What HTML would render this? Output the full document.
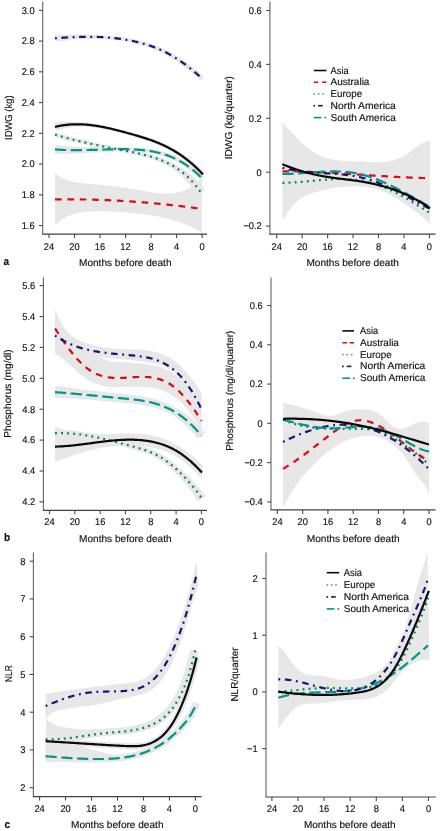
<!DOCTYPE html>
<html><head><meta charset="utf-8"><title>Figure</title>
<style>
html,body{margin:0;padding:0;background:#fff;}
body{width:442px;height:831px;overflow:hidden;}
svg{display:block;will-change:transform;}
text{font-family:"Liberation Sans", sans-serif;fill:#111;stroke:#111;stroke-width:0.15px;text-rendering:geometricPrecision;}
</style></head>
<body>
<svg width="442" height="831" viewBox="0 0 442 831">
<rect width="442" height="831" fill="#fff"/>
<g id="aL">
<polygon points="55.0,173.0 55.8,173.7 56.6,174.3 57.4,174.9 58.2,175.5 59.0,176.0 59.8,176.5 60.6,177.0 61.4,177.5 62.2,177.9 63.0,178.3 63.8,178.7 64.6,179.1 65.4,179.4 66.2,179.8 67.0,180.1 67.9,180.3 68.7,180.6 69.5,180.9 70.3,181.1 71.1,181.3 71.9,181.5 72.7,181.7 73.5,181.9 74.3,182.0 75.1,182.2 75.9,182.3 76.7,182.5 77.5,182.6 78.3,182.7 79.1,182.8 79.9,182.9 80.7,183.0 81.5,183.1 82.3,183.2 83.1,183.3 83.9,183.3 84.7,183.4 85.5,183.5 86.3,183.6 87.1,183.7 87.9,183.7 88.7,183.8 89.5,183.9 90.3,183.9 91.1,184.0 92.0,184.1 92.8,184.1 93.6,184.2 94.4,184.3 95.2,184.4 96.0,184.4 96.8,184.5 97.6,184.6 98.4,184.6 99.2,184.7 100.0,184.8 100.8,184.9 101.6,184.9 102.4,185.0 103.2,185.1 104.0,185.2 104.8,185.2 105.6,185.3 106.4,185.4 107.2,185.5 108.0,185.6 108.8,185.7 109.6,185.8 110.4,185.9 111.2,186.0 112.0,186.1 112.8,186.2 113.6,186.2 114.4,186.3 115.2,186.5 116.0,186.6 116.9,186.7 117.7,186.8 118.5,186.9 119.3,187.0 120.1,187.1 120.9,187.2 121.7,187.3 122.5,187.4 123.3,187.5 124.1,187.7 124.9,187.8 125.7,187.9 126.5,188.0 127.3,188.1 128.1,188.3 128.9,188.4 129.7,188.5 130.5,188.6 131.3,188.8 132.1,188.9 132.9,189.0 133.7,189.1 134.5,189.3 135.3,189.4 136.1,189.5 136.9,189.7 137.7,189.8 138.5,189.9 139.3,190.1 140.1,190.2 141.0,190.4 141.8,190.5 142.6,190.6 143.4,190.8 144.2,190.9 145.0,191.1 145.8,191.2 146.6,191.3 147.4,191.5 148.2,191.6 149.0,191.8 149.8,191.9 150.6,192.0 151.4,192.2 152.2,192.3 153.0,192.4 153.8,192.5 154.6,192.7 155.4,192.8 156.2,192.9 157.0,193.0 157.8,193.1 158.6,193.2 159.4,193.2 160.2,193.3 161.0,193.4 161.8,193.5 162.6,193.5 163.4,193.6 164.2,193.6 165.0,193.6 165.9,193.6 166.7,193.6 167.5,193.6 168.3,193.6 169.1,193.6 169.9,193.5 170.7,193.5 171.5,193.4 172.3,193.3 173.1,193.3 173.9,193.2 174.7,193.0 175.5,192.9 176.3,192.7 177.1,192.6 177.9,192.4 178.7,192.2 179.5,192.0 180.3,191.8 181.1,191.5 181.9,191.2 182.7,191.0 183.5,190.6 184.3,190.3 185.1,190.0 185.9,189.6 186.7,189.2 187.5,188.8 188.3,188.4 189.1,188.0 190.0,187.5 190.8,187.0 191.6,186.5 192.4,186.0 193.2,185.4 194.0,184.9 194.8,184.3 195.6,183.7 196.4,183.0 197.2,182.4 198.0,181.7 198.8,181.0 199.6,180.3 200.4,179.5 201.2,178.8 202.0,178.0 202.0,232.7 201.2,232.2 200.4,231.8 199.6,231.3 198.8,230.9 198.0,230.4 197.2,230.0 196.4,229.6 195.6,229.2 194.8,228.8 194.0,228.4 193.2,228.0 192.4,227.6 191.6,227.2 190.8,226.8 190.0,226.4 189.1,226.1 188.3,225.7 187.5,225.4 186.7,225.0 185.9,224.7 185.1,224.4 184.3,224.1 183.5,223.7 182.7,223.4 181.9,223.1 181.1,222.8 180.3,222.5 179.5,222.3 178.7,222.0 177.9,221.7 177.1,221.4 176.3,221.2 175.5,220.9 174.7,220.7 173.9,220.4 173.1,220.2 172.3,219.9 171.5,219.7 170.7,219.5 169.9,219.3 169.1,219.1 168.3,218.8 167.5,218.6 166.7,218.4 165.9,218.2 165.0,218.0 164.2,217.9 163.4,217.7 162.6,217.5 161.8,217.3 161.0,217.1 160.2,217.0 159.4,216.8 158.6,216.6 157.8,216.5 157.0,216.3 156.2,216.2 155.4,216.0 154.6,215.9 153.8,215.8 153.0,215.6 152.2,215.5 151.4,215.4 150.6,215.2 149.8,215.1 149.0,215.0 148.2,214.9 147.4,214.8 146.6,214.7 145.8,214.5 145.0,214.4 144.2,214.3 143.4,214.2 142.6,214.1 141.8,214.0 141.0,213.9 140.1,213.9 139.3,213.8 138.5,213.7 137.7,213.6 136.9,213.5 136.1,213.4 135.3,213.3 134.5,213.3 133.7,213.2 132.9,213.1 132.1,213.0 131.3,213.0 130.5,212.9 129.7,212.8 128.9,212.8 128.1,212.7 127.3,212.6 126.5,212.6 125.7,212.5 124.9,212.4 124.1,212.4 123.3,212.3 122.5,212.2 121.7,212.2 120.9,212.1 120.1,212.0 119.3,212.0 118.5,211.9 117.7,211.9 116.9,211.8 116.0,211.8 115.2,211.7 114.4,211.7 113.6,211.6 112.8,211.6 112.0,211.5 111.2,211.5 110.4,211.5 109.6,211.4 108.8,211.4 108.0,211.4 107.2,211.3 106.4,211.3 105.6,211.3 104.8,211.3 104.0,211.3 103.2,211.2 102.4,211.2 101.6,211.2 100.8,211.2 100.0,211.2 99.2,211.2 98.4,211.2 97.6,211.3 96.8,211.3 96.0,211.3 95.2,211.3 94.4,211.4 93.6,211.4 92.8,211.4 92.0,211.5 91.1,211.5 90.3,211.6 89.5,211.6 88.7,211.7 87.9,211.8 87.1,211.8 86.3,211.9 85.5,212.0 84.7,212.1 83.9,212.2 83.1,212.3 82.3,212.4 81.5,212.5 80.7,212.6 79.9,212.8 79.1,212.9 78.3,213.1 77.5,213.2 76.7,213.4 75.9,213.6 75.1,213.8 74.3,214.0 73.5,214.2 72.7,214.5 71.9,214.7 71.1,215.0 70.3,215.3 69.5,215.6 68.7,216.0 67.9,216.3 67.0,216.7 66.2,217.1 65.4,217.5 64.6,218.0 63.8,218.4 63.0,218.9 62.2,219.4 61.4,220.0 60.6,220.5 59.8,221.1 59.0,221.8 58.2,222.4 57.4,223.1 56.6,223.8 55.8,224.6 55.0,225.4" fill="#e7e7e7"/>
<polygon points="54.7,34.7 55.5,34.7 56.3,34.7 57.2,34.7 58.0,34.7 58.8,34.7 59.6,34.7 60.4,34.7 61.2,34.7 62.0,34.7 62.8,34.7 63.6,34.7 64.4,34.7 65.2,34.7 66.0,34.7 66.8,34.7 67.7,34.7 68.5,34.7 69.3,34.8 70.1,34.8 70.9,34.8 71.7,34.8 72.5,34.8 73.3,34.8 74.1,34.9 74.9,34.9 75.7,34.9 76.5,34.8 77.3,34.8 78.1,34.8 79.0,34.8 79.8,34.8 80.6,34.8 81.4,34.7 82.2,34.7 83.0,34.7 83.8,34.7 84.6,34.7 85.4,34.7 86.2,34.7 87.0,34.7 87.8,34.7 88.6,34.7 89.4,34.7 90.2,34.7 91.0,34.7 91.8,34.8 92.7,34.8 93.5,34.8 94.3,34.8 95.1,34.8 95.9,34.9 96.7,34.9 97.5,34.9 98.3,35.0 99.1,35.0 99.9,35.0 100.7,35.1 101.5,35.1 102.3,35.2 103.1,35.2 103.9,35.3 104.8,35.3 105.6,35.4 106.4,35.5 107.2,35.5 108.0,35.6 108.8,35.7 109.6,35.7 110.4,35.8 111.2,35.9 112.0,36.0 112.8,36.1 113.6,36.1 114.4,36.2 115.2,36.3 116.1,36.4 116.9,36.5 117.7,36.6 118.5,36.7 119.3,36.9 120.1,37.0 120.9,37.1 121.7,37.2 122.5,37.3 123.3,37.4 124.1,37.5 124.9,37.7 125.8,37.8 126.6,37.9 127.4,38.1 128.2,38.2 129.0,38.3 129.8,38.5 130.6,38.6 131.4,38.8 132.2,38.9 133.1,39.1 133.9,39.3 134.7,39.4 135.5,39.6 136.3,39.8 137.1,40.0 137.9,40.2 138.7,40.4 139.5,40.6 140.4,40.8 141.2,41.0 142.0,41.2 142.8,41.4 143.6,41.6 144.4,41.8 145.2,42.1 146.1,42.3 146.9,42.5 147.7,42.8 148.5,43.0 149.3,43.3 150.1,43.5 150.9,43.8 151.8,44.1 152.6,44.4 153.4,44.6 154.2,44.9 155.0,45.2 155.8,45.5 156.7,45.9 157.5,46.2 158.3,46.5 159.1,46.8 159.9,47.2 160.8,47.5 161.6,47.9 162.4,48.2 163.2,48.6 164.0,49.0 164.9,49.4 165.7,49.8 166.5,50.2 167.3,50.6 168.1,51.0 168.9,51.4 169.8,51.9 170.6,52.3 171.4,52.8 172.2,53.2 173.0,53.7 173.9,54.2 174.7,54.7 175.5,55.1 176.3,55.6 177.1,56.1 178.0,56.7 178.8,57.2 179.6,57.7 180.4,58.2 181.2,58.8 182.0,59.3 182.9,59.9 183.7,60.4 184.5,61.0 185.3,61.6 186.1,62.2 186.9,62.8 187.8,63.4 188.6,64.0 189.4,64.6 190.2,65.2 191.0,65.8 191.8,66.5 192.7,67.1 193.5,67.8 194.3,68.4 195.1,69.1 195.9,69.8 196.7,70.4 197.6,71.1 198.4,71.8 199.2,72.5 200.0,73.2 200.8,74.0 201.6,74.7 202.4,75.4 203.3,76.1 204.1,76.9 200.5,80.7 199.7,80.0 199.0,79.2 198.2,78.5 197.4,77.8 196.6,77.1 195.8,76.4 195.0,75.7 194.2,75.0 193.5,74.3 192.7,73.6 191.9,73.0 191.1,72.3 190.3,71.6 189.5,71.0 188.7,70.4 188.0,69.7 187.2,69.1 186.4,68.5 185.6,67.9 184.8,67.3 184.0,66.7 183.3,66.1 182.5,65.5 181.7,64.9 180.9,64.4 180.1,63.8 179.3,63.3 178.5,62.7 177.8,62.2 177.0,61.7 176.2,61.1 175.4,60.6 174.6,60.1 173.8,59.6 173.1,59.1 172.3,58.6 171.5,58.2 170.7,57.7 169.9,57.2 169.1,56.8 168.4,56.3 167.6,55.9 166.8,55.4 166.0,55.0 165.2,54.6 164.5,54.2 163.7,53.8 162.9,53.4 162.1,53.0 161.3,52.6 160.6,52.3 159.8,51.9 159.0,51.5 158.2,51.2 157.4,50.8 156.6,50.5 155.9,50.2 155.1,49.9 154.3,49.5 153.5,49.2 152.7,48.9 151.9,48.6 151.2,48.3 150.4,48.1 149.6,47.8 148.8,47.5 148.0,47.2 147.2,47.0 146.4,46.7 145.7,46.5 144.9,46.2 144.1,46.0 143.3,45.7 142.5,45.5 141.7,45.3 140.9,45.1 140.1,44.8 139.4,44.6 138.6,44.4 137.8,44.2 137.0,44.0 136.2,43.8 135.4,43.6 134.6,43.4 133.8,43.2 133.0,43.1 132.3,42.9 131.5,42.7 130.7,42.5 129.9,42.4 129.1,42.2 128.3,42.0 127.5,41.9 126.7,41.7 125.9,41.6 125.1,41.4 124.3,41.3 123.6,41.2 122.8,41.0 122.0,40.9 121.2,40.8 120.4,40.7 119.6,40.5 118.8,40.4 118.0,40.4 117.2,40.3 116.4,40.2 115.6,40.1 114.8,40.0 114.0,39.9 113.2,39.8 112.5,39.8 111.7,39.7 110.9,39.6 110.1,39.6 109.3,39.5 108.5,39.4 107.7,39.4 106.9,39.3 106.1,39.3 105.3,39.2 104.5,39.2 103.7,39.2 102.9,39.1 102.1,39.1 101.3,39.1 100.5,39.0 99.7,39.0 99.0,39.0 98.2,38.9 97.4,38.9 96.6,38.9 95.8,38.9 95.0,38.9 94.2,38.9 93.4,38.9 92.6,38.9 91.8,38.9 91.0,38.9 90.2,38.9 89.4,38.9 88.6,38.9 87.8,38.9 87.0,38.9 86.2,38.9 85.4,38.9 84.6,38.9 83.9,39.0 83.1,39.0 82.3,39.0 81.5,39.0 80.7,39.0 79.9,39.1 79.1,39.1 78.3,39.1 77.5,39.2 76.7,39.2 75.9,39.2 75.1,39.3 74.3,39.4 73.5,39.5 72.7,39.6 71.9,39.6 71.1,39.7 70.3,39.8 69.5,39.9 68.8,40.0 68.0,40.1 67.2,40.2 66.4,40.3 65.6,40.4 64.8,40.5 64.0,40.7 63.2,40.8 62.4,40.9 61.6,41.0 60.8,41.1 60.0,41.2 59.2,41.3 58.4,41.4 57.7,41.5 56.9,41.6 56.1,41.8 55.3,41.9" fill="#e7e7e7"/>
<polygon points="54.0,123.0 54.9,122.9 55.7,122.8 56.6,122.6 57.5,122.5 58.3,122.4 59.2,122.3 60.0,122.2 60.9,122.2 61.7,122.1 62.5,122.0 63.4,122.0 64.2,122.0 65.1,121.9 65.9,121.9 66.8,121.9 67.6,121.9 68.4,121.9 69.3,121.9 70.1,121.9 70.9,121.9 71.8,121.9 72.6,122.0 73.4,122.0 74.2,122.0 75.1,122.1 75.9,122.1 76.7,122.1 77.5,122.1 78.3,122.1 79.2,122.1 80.0,122.2 80.8,122.2 81.6,122.3 82.4,122.3 83.2,122.4 84.1,122.4 84.9,122.5 85.7,122.5 86.5,122.6 87.3,122.7 88.1,122.8 89.0,122.9 89.8,123.0 90.6,123.1 91.4,123.2 92.2,123.3 93.0,123.4 93.8,123.5 94.7,123.7 95.5,123.8 96.3,123.9 97.1,124.0 97.9,124.2 98.7,124.3 99.5,124.5 100.3,124.6 101.1,124.8 102.0,125.0 102.8,125.1 103.6,125.3 104.4,125.5 105.2,125.6 106.0,125.8 106.8,126.0 107.6,126.2 108.4,126.4 109.2,126.6 110.0,126.7 110.8,126.9 111.7,127.1 112.5,127.3 113.3,127.5 114.1,127.7 114.9,127.9 115.7,128.2 116.5,128.4 117.3,128.6 118.1,128.8 118.9,129.0 119.7,129.2 120.5,129.5 121.3,129.7 122.1,129.9 122.9,130.1 123.7,130.3 124.6,130.5 125.4,130.7 126.2,130.9 127.0,131.1 127.8,131.3 128.6,131.6 129.4,131.8 130.2,132.0 131.0,132.2 131.8,132.4 132.6,132.6 133.4,132.9 134.2,133.1 135.1,133.3 135.9,133.5 136.7,133.8 137.5,134.0 138.3,134.2 139.1,134.4 139.9,134.7 140.7,134.9 141.5,135.1 142.3,135.4 143.2,135.6 144.0,135.9 144.8,136.1 145.6,136.4 146.4,136.6 147.2,136.9 148.0,137.2 148.8,137.4 149.7,137.7 150.5,138.0 151.3,138.3 152.1,138.5 152.9,138.8 153.7,139.1 154.6,139.4 155.4,139.7 156.2,140.0 157.0,140.3 157.8,140.7 158.6,141.0 159.5,141.3 160.3,141.7 161.1,142.0 161.9,142.3 162.7,142.7 163.5,143.1 164.4,143.4 165.2,143.8 166.0,144.2 166.8,144.6 167.6,145.0 168.5,145.4 169.3,145.8 170.1,146.2 170.9,146.6 171.8,147.1 172.6,147.5 173.4,148.0 174.2,148.4 175.0,148.9 175.9,149.4 176.7,149.9 177.5,150.4 178.3,150.9 179.2,151.4 180.0,151.9 180.8,152.5 181.6,153.0 182.4,153.5 183.3,154.1 184.1,154.7 184.9,155.3 185.7,155.9 186.6,156.5 187.4,157.1 188.2,157.7 189.0,158.3 189.9,159.0 190.7,159.7 191.5,160.3 192.3,161.0 193.1,161.7 194.0,162.4 194.8,163.1 195.6,163.9 196.4,164.6 197.3,165.4 198.1,166.1 198.9,166.9 199.7,167.7 200.6,168.5 201.4,169.3 202.2,170.2 203.0,171.0 203.8,171.9 204.7,172.8 201.1,176.0 200.3,175.2 199.6,174.3 198.8,173.5 198.0,172.7 197.2,171.9 196.4,171.1 195.6,170.3 194.8,169.5 194.1,168.8 193.3,168.0 192.5,167.3 191.7,166.6 190.9,165.9 190.1,165.2 189.4,164.5 188.6,163.8 187.8,163.2 187.0,162.5 186.2,161.9 185.4,161.3 184.7,160.6 183.9,160.0 183.1,159.4 182.3,158.9 181.5,158.3 180.7,157.7 179.9,157.2 179.2,156.6 178.4,156.1 177.6,155.6 176.8,155.0 176.0,154.5 175.2,154.0 174.5,153.5 173.7,153.1 172.9,152.6 172.1,152.1 171.3,151.7 170.5,151.2 169.7,150.8 169.0,150.3 168.2,149.9 167.4,149.5 166.6,149.1 165.8,148.7 165.0,148.3 164.2,147.9 163.4,147.5 162.7,147.1 161.9,146.7 161.1,146.4 160.3,146.0 159.5,145.7 158.7,145.3 157.9,145.0 157.1,144.6 156.3,144.3 155.6,144.0 154.8,143.7 154.0,143.3 153.2,143.0 152.4,142.7 151.6,142.4 150.8,142.1 150.0,141.8 149.2,141.5 148.4,141.3 147.6,141.0 146.8,140.7 146.0,140.4 145.3,140.2 144.5,139.9 143.7,139.6 142.9,139.4 142.1,139.1 141.3,138.8 140.5,138.6 139.7,138.3 138.9,138.1 138.1,137.9 137.3,137.6 136.5,137.4 135.7,137.1 134.9,136.9 134.1,136.7 133.3,136.4 132.5,136.2 131.7,135.9 130.9,135.7 130.1,135.5 129.3,135.3 128.5,135.0 127.7,134.8 126.9,134.6 126.1,134.3 125.3,134.1 124.5,133.9 123.7,133.7 122.9,133.4 122.1,133.2 121.3,133.0 120.5,132.8 119.7,132.6 118.9,132.4 118.1,132.2 117.3,132.0 116.5,131.8 115.7,131.6 114.9,131.4 114.1,131.2 113.3,131.0 112.5,130.8 111.7,130.7 110.9,130.5 110.1,130.3 109.3,130.1 108.5,130.0 107.7,129.8 106.9,129.6 106.1,129.5 105.3,129.3 104.5,129.2 103.7,129.0 102.9,128.9 102.1,128.7 101.3,128.6 100.5,128.4 99.7,128.3 98.9,128.2 98.1,128.1 97.3,127.9 96.5,127.8 95.7,127.7 94.9,127.6 94.1,127.5 93.3,127.4 92.5,127.3 91.7,127.2 90.9,127.1 90.1,127.0 89.3,127.0 88.6,126.9 87.8,126.8 87.0,126.8 86.2,126.7 85.4,126.7 84.6,126.6 83.8,126.6 83.0,126.5 82.2,126.5 81.4,126.5 80.6,126.5 79.9,126.4 79.1,126.4 78.3,126.4 77.5,126.4 76.7,126.4 75.9,126.5 75.1,126.5 74.4,126.6 73.6,126.7 72.8,126.8 72.0,126.9 71.2,127.0 70.5,127.1 69.7,127.2 68.9,127.4 68.1,127.5 67.4,127.7 66.6,127.8 65.8,128.0 65.1,128.2 64.3,128.3 63.5,128.5 62.8,128.7 62.0,128.9 61.2,129.1 60.5,129.3 59.7,129.6 59.0,129.8 58.2,130.0 57.5,130.3 56.7,130.5 56.0,130.8" fill="#e7e7e7"/>
<polygon points="55.7,132.3 56.5,132.5 57.3,132.8 58.1,133.0 58.9,133.3 59.7,133.5 60.5,133.7 61.3,134.0 62.1,134.2 62.8,134.4 63.6,134.7 64.4,134.9 65.2,135.1 66.0,135.4 66.8,135.6 67.6,135.8 68.4,136.0 69.2,136.2 70.0,136.5 70.8,136.7 71.6,136.9 72.4,137.1 73.2,137.3 74.0,137.5 74.8,137.7 75.6,137.9 76.4,138.1 77.2,138.3 78.0,138.5 78.8,138.7 79.6,138.9 80.4,139.1 81.2,139.3 82.0,139.5 82.8,139.7 83.6,139.9 84.4,140.1 85.2,140.3 86.0,140.5 86.8,140.7 87.6,140.9 88.4,141.1 89.1,141.3 89.9,141.4 90.7,141.6 91.5,141.8 92.3,142.0 93.1,142.2 93.9,142.4 94.7,142.5 95.5,142.7 96.3,142.9 97.1,143.1 97.9,143.2 98.7,143.4 99.5,143.6 100.3,143.8 101.1,143.9 101.9,144.1 102.7,144.3 103.5,144.5 104.3,144.6 105.1,144.8 105.9,145.0 106.7,145.1 107.5,145.3 108.3,145.5 109.1,145.7 109.9,145.8 110.7,146.0 111.5,146.2 112.3,146.3 113.1,146.5 113.9,146.6 114.7,146.8 115.5,147.0 116.3,147.1 117.1,147.3 117.9,147.5 118.7,147.6 119.5,147.8 120.3,148.0 121.1,148.1 121.9,148.3 122.7,148.4 123.5,148.6 124.3,148.7 125.1,148.8 125.9,149.0 126.8,149.1 127.6,149.3 128.4,149.4 129.2,149.6 130.0,149.7 130.8,149.9 131.6,150.0 132.4,150.2 133.2,150.3 134.0,150.5 134.8,150.6 135.6,150.8 136.4,151.0 137.2,151.1 138.1,151.3 138.9,151.5 139.7,151.6 140.5,151.8 141.3,152.0 142.1,152.2 142.9,152.3 143.7,152.5 144.6,152.7 145.4,152.9 146.2,153.1 147.0,153.3 147.8,153.5 148.6,153.8 149.4,154.0 150.3,154.2 151.1,154.4 151.9,154.7 152.7,154.9 153.5,155.1 154.3,155.4 155.2,155.7 156.0,155.9 156.8,156.2 157.6,156.5 158.4,156.7 159.3,157.0 160.1,157.3 160.9,157.6 161.7,158.0 162.6,158.3 163.4,158.6 164.2,158.9 165.0,159.3 165.9,159.6 166.7,160.0 167.5,160.4 168.3,160.7 169.2,161.1 170.0,161.5 170.8,162.0 171.7,162.3 172.5,162.7 173.4,163.1 174.2,163.6 175.1,164.0 176.0,164.4 176.8,164.9 177.7,165.4 178.6,165.8 179.4,166.4 180.3,166.9 181.2,167.4 182.1,168.0 182.9,168.5 183.8,169.1 184.7,169.8 185.6,170.4 186.4,171.0 187.3,171.7 188.2,172.4 189.1,173.1 190.0,173.8 190.9,174.6 191.7,175.4 192.6,176.2 193.5,177.0 194.4,177.8 195.3,178.7 196.2,179.6 197.1,180.5 197.9,181.4 198.8,182.4 199.7,183.4 200.6,184.4 201.5,185.4 202.4,186.5 203.3,187.6 204.2,188.7 205.0,189.9 197.0,195.5 196.2,194.4 195.5,193.2 194.8,192.2 194.1,191.1 193.4,190.1 192.7,189.1 191.9,188.1 191.2,187.1 190.5,186.2 189.8,185.2 189.1,184.4 188.3,183.5 187.6,182.6 186.9,181.8 186.2,181.0 185.5,180.2 184.7,179.4 184.0,178.6 183.3,177.9 182.6,177.2 181.9,176.5 181.1,175.8 180.4,175.1 179.7,174.4 179.0,173.8 178.2,173.2 177.5,172.5 176.8,171.9 176.0,171.4 175.3,170.8 174.6,170.2 173.8,169.7 173.1,169.2 172.3,168.6 171.6,168.1 170.9,167.6 170.1,167.1 169.4,166.7 168.6,166.2 167.8,165.8 167.1,165.4 166.3,165.0 165.5,164.6 164.7,164.3 163.9,163.9 163.2,163.5 162.4,163.2 161.6,162.9 160.8,162.5 160.0,162.2 159.3,161.9 158.5,161.6 157.7,161.3 156.9,161.0 156.1,160.7 155.3,160.4 154.6,160.1 153.8,159.9 153.0,159.6 152.2,159.3 151.4,159.1 150.6,158.8 149.8,158.6 149.1,158.3 148.3,158.1 147.5,157.9 146.7,157.6 145.9,157.4 145.1,157.2 144.3,157.0 143.5,156.8 142.7,156.6 142.0,156.4 141.2,156.2 140.4,156.0 139.6,155.8 138.8,155.6 138.0,155.4 137.2,155.2 136.4,155.0 135.6,154.9 134.8,154.7 134.0,154.5 133.2,154.3 132.4,154.2 131.6,154.0 130.8,153.8 130.0,153.7 129.2,153.5 128.4,153.3 127.6,153.2 126.8,153.0 126.0,152.8 125.2,152.7 124.4,152.5 123.6,152.3 122.8,152.2 122.0,152.0 121.2,151.8 120.4,151.7 119.6,151.5 118.8,151.3 118.0,151.2 117.2,151.1 116.4,150.9 115.6,150.8 114.8,150.6 114.0,150.4 113.2,150.3 112.4,150.1 111.6,150.0 110.8,149.8 110.0,149.7 109.2,149.5 108.4,149.4 107.6,149.2 106.8,149.1 106.0,148.9 105.2,148.8 104.3,148.6 103.5,148.5 102.7,148.3 101.9,148.1 101.1,148.0 100.3,147.8 99.5,147.7 98.7,147.5 97.9,147.3 97.1,147.2 96.3,147.0 95.5,146.8 94.7,146.7 93.9,146.5 93.1,146.3 92.3,146.2 91.5,146.0 90.7,145.8 89.8,145.7 89.0,145.5 88.2,145.3 87.4,145.2 86.6,145.0 85.8,144.8 85.0,144.6 84.2,144.5 83.4,144.3 82.6,144.1 81.8,143.9 81.0,143.7 80.2,143.5 79.4,143.4 78.6,143.2 77.7,143.0 76.9,142.8 76.1,142.6 75.3,142.4 74.5,142.2 73.7,142.0 72.9,141.8 72.1,141.6 71.3,141.4 70.5,141.2 69.7,141.0 68.9,140.8 68.1,140.6 67.2,140.4 66.4,140.2 65.6,140.0 64.8,139.8 64.0,139.6 63.2,139.4 62.4,139.2 61.6,138.9 60.8,138.7 60.0,138.5 59.2,138.3 58.4,138.1 57.5,137.8 56.7,137.6 55.9,137.4 55.1,137.1 54.3,136.9" fill="#e7e7e7"/>
<polygon points="55.4,145.0 56.2,145.1 56.9,145.2 57.7,145.3 58.5,145.4 59.3,145.5 60.1,145.5 60.9,145.6 61.7,145.7 62.4,145.8 63.2,145.8 64.0,145.9 64.8,146.0 65.6,146.0 66.4,146.1 67.2,146.2 68.0,146.2 68.7,146.3 69.5,146.3 70.3,146.4 71.1,146.4 71.9,146.4 72.7,146.5 73.5,146.5 74.3,146.6 75.1,146.6 75.9,146.6 76.7,146.7 77.5,146.7 78.3,146.7 79.1,146.7 79.9,146.8 80.7,146.8 81.5,146.8 82.3,146.8 83.1,146.8 83.9,146.9 84.7,146.9 85.5,146.9 86.3,146.9 87.1,146.9 87.9,146.9 88.7,146.9 89.5,147.0 90.3,147.0 91.1,147.0 91.9,146.9 92.7,146.9 93.5,146.9 94.3,146.9 95.1,146.9 95.9,146.9 96.7,146.9 97.5,146.9 98.3,146.9 99.1,146.9 99.9,146.9 100.7,146.9 101.5,146.9 102.3,146.9 103.1,146.9 103.9,146.9 104.7,146.9 105.5,146.8 106.3,146.8 107.1,146.8 107.9,146.8 108.8,146.8 109.6,146.8 110.4,146.8 111.2,146.8 112.0,146.8 112.8,146.8 113.6,146.9 114.4,146.9 115.2,146.9 116.0,146.9 116.8,146.9 117.6,146.9 118.4,146.9 119.3,146.9 120.1,146.9 120.9,147.0 121.7,147.0 122.5,147.0 123.3,147.0 124.1,147.1 124.9,147.1 125.7,147.1 126.5,147.1 127.3,147.2 128.1,147.2 129.0,147.3 129.8,147.3 130.6,147.3 131.4,147.4 132.2,147.4 133.0,147.4 133.8,147.4 134.6,147.5 135.4,147.5 136.3,147.5 137.1,147.6 137.9,147.6 138.7,147.7 139.5,147.7 140.3,147.8 141.1,147.9 141.9,147.9 142.8,148.0 143.6,148.1 144.4,148.2 145.2,148.2 146.0,148.3 146.8,148.4 147.7,148.5 148.5,148.6 149.3,148.7 150.1,148.9 150.9,149.0 151.8,149.1 152.6,149.2 153.4,149.4 154.2,149.5 155.0,149.7 155.9,149.9 156.7,150.0 157.5,150.2 158.3,150.4 159.2,150.6 160.0,150.8 160.8,151.0 161.6,151.2 162.5,151.4 163.3,151.7 164.1,151.9 164.9,152.2 165.8,152.4 166.6,152.7 167.4,153.0 168.2,153.2 169.1,153.5 169.9,153.8 170.7,154.2 171.6,154.5 172.4,154.8 173.2,155.2 174.0,155.5 174.9,155.9 175.7,156.3 176.5,156.7 177.4,157.0 178.2,157.5 179.0,157.9 179.8,158.3 180.7,158.8 181.5,159.2 182.3,159.7 183.2,160.2 184.0,160.7 184.8,161.2 185.7,161.7 186.5,162.2 187.3,162.7 188.1,163.3 189.0,163.9 189.8,164.4 190.6,165.0 191.5,165.6 192.3,166.3 193.1,166.9 193.9,167.6 194.8,168.2 195.6,168.9 196.4,169.6 197.2,170.3 198.1,171.0 198.9,171.7 199.7,172.5 200.6,173.3 201.4,174.0 202.2,174.8 203.0,175.6 203.8,176.5 200.2,180.1 199.4,179.3 198.6,178.5 197.8,177.8 197.0,177.0 196.2,176.3 195.5,175.5 194.7,174.8 193.9,174.1 193.1,173.4 192.3,172.8 191.6,172.1 190.8,171.5 190.0,170.9 189.2,170.2 188.4,169.6 187.7,169.1 186.9,168.5 186.1,167.9 185.3,167.4 184.6,166.8 183.8,166.3 183.0,165.8 182.2,165.3 181.5,164.8 180.7,164.3 179.9,163.9 179.1,163.4 178.3,163.0 177.6,162.6 176.8,162.1 176.0,161.7 175.2,161.3 174.5,160.9 173.7,160.6 172.9,160.2 172.1,159.8 171.3,159.5 170.6,159.1 169.8,158.8 169.0,158.5 168.2,158.2 167.5,157.9 166.7,157.6 165.9,157.3 165.1,157.0 164.3,156.8 163.6,156.5 162.8,156.3 162.0,156.0 161.2,155.8 160.4,155.6 159.7,155.3 158.9,155.1 158.1,154.9 157.3,154.7 156.5,154.5 155.7,154.4 155.0,154.2 154.2,154.0 153.4,153.9 152.6,153.7 151.8,153.6 151.0,153.4 150.2,153.3 149.5,153.1 148.7,153.0 147.9,152.9 147.1,152.8 146.3,152.7 145.5,152.6 144.7,152.5 143.9,152.4 143.1,152.3 142.4,152.2 141.6,152.1 140.8,152.0 140.0,152.0 139.2,151.9 138.4,151.8 137.6,151.8 136.8,151.7 136.0,151.6 135.2,151.6 134.4,151.5 133.6,151.5 132.8,151.5 132.0,151.4 131.2,151.4 130.4,151.3 129.6,151.3 128.8,151.3 128.0,151.3 127.3,151.3 126.5,151.3 125.7,151.3 124.9,151.3 124.1,151.4 123.3,151.4 122.5,151.4 121.7,151.4 120.9,151.4 120.1,151.4 119.3,151.5 118.5,151.5 117.7,151.5 116.9,151.5 116.1,151.6 115.3,151.6 114.5,151.6 113.7,151.7 112.9,151.7 112.1,151.7 111.3,151.8 110.5,151.8 109.7,151.9 108.9,151.9 108.1,151.9 107.3,152.0 106.5,152.0 105.7,152.1 104.9,152.1 104.1,152.2 103.3,152.2 102.5,152.2 101.7,152.3 100.9,152.3 100.1,152.4 99.3,152.4 98.5,152.5 97.7,152.5 96.9,152.6 96.1,152.6 95.3,152.7 94.5,152.7 93.6,152.8 92.8,152.8 92.0,152.8 91.2,152.9 90.4,152.9 89.6,153.0 88.8,153.0 88.0,153.1 87.2,153.1 86.4,153.2 85.6,153.2 84.8,153.3 84.0,153.3 83.2,153.4 82.4,153.4 81.6,153.5 80.7,153.5 79.9,153.6 79.1,153.6 78.3,153.7 77.5,153.7 76.7,153.7 75.9,153.8 75.1,153.8 74.3,153.8 73.5,153.8 72.6,153.9 71.8,153.9 71.0,153.9 70.2,153.9 69.4,154.0 68.6,154.0 67.7,154.0 66.9,154.0 66.1,154.0 65.3,154.0 64.5,154.0 63.7,154.0 62.8,154.0 62.0,154.0 61.2,154.0 60.4,154.0 59.6,153.9 58.7,153.9 57.9,153.9 57.1,153.9 56.3,153.8 55.4,153.8 54.6,153.8" fill="#e7e7e7"/>
<polyline points="55.0,199.4 55.8,199.4 56.6,199.4 57.4,199.4 58.2,199.4 59.0,199.4 59.8,199.4 60.6,199.4 61.4,199.3 62.2,199.3 63.0,199.3 63.8,199.3 64.6,199.3 65.4,199.3 66.2,199.3 67.0,199.3 67.9,199.3 68.7,199.3 69.5,199.3 70.3,199.3 71.1,199.3 71.9,199.3 72.7,199.3 73.5,199.3 74.3,199.4 75.1,199.4 75.9,199.4 76.7,199.4 77.5,199.4 78.3,199.4 79.1,199.4 79.9,199.4 80.7,199.4 81.5,199.4 82.3,199.4 83.1,199.5 83.9,199.5 84.7,199.5 85.5,199.5 86.3,199.5 87.1,199.5 87.9,199.5 88.7,199.6 89.5,199.6 90.3,199.6 91.1,199.6 92.0,199.6 92.8,199.7 93.6,199.7 94.4,199.7 95.2,199.7 96.0,199.8 96.8,199.8 97.6,199.8 98.4,199.8 99.2,199.9 100.0,199.9 100.8,199.9 101.6,199.9 102.4,200.0 103.2,200.0 104.0,200.0 104.8,200.1 105.6,200.1 106.4,200.1 107.2,200.2 108.0,200.2 108.8,200.2 109.6,200.3 110.4,200.3 111.2,200.3 112.0,200.4 112.8,200.4 113.6,200.4 114.4,200.5 115.2,200.5 116.0,200.6 116.9,200.6 117.7,200.7 118.5,200.7 119.3,200.7 120.1,200.8 120.9,200.8 121.7,200.9 122.5,200.9 123.3,201.0 124.1,201.0 124.9,201.1 125.7,201.1 126.5,201.2 127.3,201.2 128.1,201.3 128.9,201.3 129.7,201.4 130.5,201.4 131.3,201.5 132.1,201.5 132.9,201.6 133.7,201.6 134.5,201.7 135.3,201.8 136.1,201.8 136.9,201.9 137.7,201.9 138.5,202.0 139.3,202.1 140.1,202.1 141.0,202.2 141.8,202.2 142.6,202.3 143.4,202.4 144.2,202.4 145.0,202.5 145.8,202.6 146.6,202.6 147.4,202.7 148.2,202.8 149.0,202.8 149.8,202.9 150.6,203.0 151.4,203.1 152.2,203.1 153.0,203.2 153.8,203.3 154.6,203.3 155.4,203.4 156.2,203.5 157.0,203.6 157.8,203.7 158.6,203.7 159.4,203.8 160.2,203.9 161.0,204.0 161.8,204.0 162.6,204.1 163.4,204.2 164.2,204.3 165.0,204.4 165.9,204.5 166.7,204.5 167.5,204.6 168.3,204.7 169.1,204.8 169.9,204.9 170.7,205.0 171.5,205.1 172.3,205.2 173.1,205.3 173.9,205.3 174.7,205.4 175.5,205.5 176.3,205.6 177.1,205.7 177.9,205.8 178.7,205.9 179.5,206.0 180.3,206.1 181.1,206.2 181.9,206.3 182.7,206.4 183.5,206.5 184.3,206.6 185.1,206.7 185.9,206.8 186.7,206.9 187.5,207.0 188.3,207.1 189.1,207.2 190.0,207.3 190.8,207.4 191.6,207.5 192.4,207.6 193.2,207.8 194.0,207.9 194.8,208.0 195.6,208.1 196.4,208.2 197.2,208.3 198.0,208.4 198.8,208.5 199.6,208.7 200.4,208.8 201.2,208.9 202.0,209.0" fill="none" stroke="#dd0a12" stroke-width="2.2" stroke-dasharray="6.6 5.8" stroke-linejoin="round"/>
<polyline points="55.0,149.4 55.8,149.4 56.6,149.5 57.4,149.6 58.2,149.6 59.0,149.7 59.8,149.7 60.6,149.8 61.4,149.8 62.2,149.9 63.0,149.9 63.8,150.0 64.6,150.0 65.4,150.0 66.2,150.0 67.0,150.1 67.9,150.1 68.7,150.1 69.5,150.1 70.3,150.1 71.1,150.2 71.9,150.2 72.7,150.2 73.5,150.2 74.3,150.2 75.1,150.2 75.9,150.2 76.7,150.2 77.5,150.2 78.3,150.2 79.1,150.2 79.9,150.2 80.7,150.2 81.5,150.1 82.3,150.1 83.1,150.1 83.9,150.1 84.7,150.1 85.5,150.1 86.3,150.1 87.1,150.0 87.9,150.0 88.7,150.0 89.5,150.0 90.3,149.9 91.1,149.9 92.0,149.9 92.8,149.9 93.6,149.8 94.4,149.8 95.2,149.8 96.0,149.8 96.8,149.7 97.6,149.7 98.4,149.7 99.2,149.7 100.0,149.6 100.8,149.6 101.6,149.6 102.4,149.6 103.2,149.5 104.0,149.5 104.8,149.5 105.6,149.5 106.4,149.4 107.2,149.4 108.0,149.4 108.8,149.4 109.6,149.3 110.4,149.3 111.2,149.3 112.0,149.3 112.8,149.3 113.6,149.3 114.4,149.2 115.2,149.2 116.0,149.2 116.9,149.2 117.7,149.2 118.5,149.2 119.3,149.2 120.1,149.2 120.9,149.2 121.7,149.2 122.5,149.2 123.3,149.2 124.1,149.2 124.9,149.2 125.7,149.2 126.5,149.2 127.3,149.3 128.1,149.3 128.9,149.3 129.7,149.3 130.5,149.3 131.3,149.4 132.1,149.4 132.9,149.4 133.7,149.5 134.5,149.5 135.3,149.6 136.1,149.6 136.9,149.6 137.7,149.7 138.5,149.8 139.3,149.8 140.1,149.9 141.0,149.9 141.8,150.0 142.6,150.1 143.4,150.2 144.2,150.3 145.0,150.4 145.8,150.4 146.6,150.5 147.4,150.7 148.2,150.8 149.0,150.9 149.8,151.0 150.6,151.1 151.4,151.3 152.2,151.4 153.0,151.5 153.8,151.7 154.6,151.9 155.4,152.0 156.2,152.2 157.0,152.4 157.8,152.6 158.6,152.8 159.4,153.0 160.2,153.2 161.0,153.4 161.8,153.6 162.6,153.8 163.4,154.1 164.2,154.3 165.0,154.6 165.9,154.9 166.7,155.1 167.5,155.4 168.3,155.7 169.1,156.0 169.9,156.3 170.7,156.7 171.5,157.0 172.3,157.3 173.1,157.7 173.9,158.0 174.7,158.4 175.5,158.8 176.3,159.2 177.1,159.6 177.9,160.0 178.7,160.4 179.5,160.9 180.3,161.3 181.1,161.8 181.9,162.3 182.7,162.7 183.5,163.2 184.3,163.7 185.1,164.3 185.9,164.8 186.7,165.3 187.5,165.9 188.3,166.5 189.1,167.0 190.0,167.6 190.8,168.3 191.6,168.9 192.4,169.5 193.2,170.2 194.0,170.8 194.8,171.5 195.6,172.2 196.4,172.9 197.2,173.6 198.0,174.4 198.8,175.1 199.6,175.9 200.4,176.7 201.2,177.5 202.0,178.3" fill="none" stroke="#00968a" stroke-width="2.2" stroke-dasharray="11.2 4.6" stroke-linejoin="round"/>
<polyline points="55.0,134.6 55.8,134.8 56.6,135.1 57.4,135.3 58.2,135.5 59.0,135.8 59.8,136.0 60.6,136.2 61.4,136.5 62.2,136.7 63.0,136.9 63.8,137.1 64.6,137.4 65.4,137.6 66.2,137.8 67.0,138.0 67.8,138.2 68.6,138.4 69.4,138.6 70.2,138.9 71.0,139.1 71.8,139.3 72.6,139.5 73.5,139.7 74.3,139.9 75.1,140.1 75.9,140.3 76.7,140.5 77.5,140.7 78.3,140.9 79.1,141.1 79.9,141.3 80.7,141.4 81.5,141.6 82.3,141.8 83.1,142.0 83.9,142.2 84.7,142.4 85.5,142.6 86.3,142.7 87.1,142.9 87.9,143.1 88.7,143.3 89.5,143.5 90.3,143.6 91.1,143.8 91.9,144.0 92.7,144.2 93.5,144.4 94.3,144.5 95.1,144.7 95.9,144.9 96.7,145.0 97.5,145.2 98.3,145.4 99.1,145.5 99.9,145.7 100.7,145.9 101.5,146.0 102.3,146.2 103.1,146.4 103.9,146.5 104.7,146.7 105.5,146.9 106.3,147.0 107.1,147.2 107.9,147.4 108.7,147.5 109.5,147.7 110.4,147.8 111.2,148.0 112.0,148.2 112.8,148.3 113.6,148.5 114.4,148.6 115.2,148.8 116.0,148.9 116.8,149.1 117.6,149.3 118.4,149.4 119.2,149.6 120.0,149.7 120.8,149.9 121.6,150.0 122.4,150.2 123.2,150.4 124.0,150.5 124.8,150.7 125.6,150.8 126.4,151.0 127.2,151.1 128.0,151.3 128.8,151.4 129.6,151.6 130.4,151.8 131.2,151.9 132.0,152.1 132.8,152.2 133.6,152.4 134.4,152.6 135.2,152.7 136.0,152.9 136.8,153.1 137.6,153.3 138.4,153.4 139.2,153.6 140.0,153.8 140.8,154.0 141.6,154.2 142.4,154.4 143.2,154.6 144.0,154.8 144.8,155.0 145.6,155.2 146.5,155.4 147.3,155.6 148.1,155.8 148.9,156.0 149.7,156.3 150.5,156.5 151.3,156.7 152.1,157.0 152.9,157.2 153.7,157.5 154.5,157.8 155.3,158.0 156.1,158.3 156.9,158.6 157.7,158.9 158.5,159.2 159.3,159.5 160.1,159.8 160.9,160.1 161.7,160.4 162.5,160.7 163.3,161.1 164.1,161.4 164.9,161.8 165.7,162.1 166.5,162.5 167.3,162.9 168.1,163.3 168.9,163.7 169.7,164.1 170.5,164.5 171.3,164.9 172.1,165.4 172.9,165.8 173.7,166.3 174.5,166.8 175.3,167.3 176.1,167.8 176.9,168.3 177.7,168.9 178.5,169.4 179.3,170.0 180.1,170.6 180.9,171.2 181.7,171.8 182.5,172.4 183.4,173.1 184.2,173.7 185.0,174.4 185.8,175.1 186.6,175.9 187.4,176.6 188.2,177.4 189.0,178.2 189.8,179.0 190.6,179.8 191.4,180.7 192.2,181.5 193.0,182.4 193.8,183.3 194.6,184.3 195.4,185.2 196.2,186.2 197.0,187.2 197.8,188.3 198.6,189.3 199.4,190.4 200.2,191.5 201.0,192.7" fill="none" stroke="#00835c" stroke-width="2.2" stroke-dasharray="1.9 4.2" stroke-linejoin="round"/>
<polyline points="55.0,126.9 55.8,126.7 56.6,126.5 57.4,126.3 58.2,126.2 59.0,126.0 59.8,125.8 60.6,125.7 61.4,125.5 62.2,125.4 63.0,125.3 63.8,125.2 64.6,125.1 65.4,125.0 66.3,124.9 67.1,124.8 67.9,124.7 68.7,124.6 69.5,124.6 70.3,124.5 71.1,124.4 71.9,124.4 72.7,124.4 73.5,124.3 74.3,124.3 75.1,124.3 75.9,124.3 76.7,124.3 77.5,124.3 78.3,124.3 79.1,124.3 79.9,124.3 80.7,124.3 81.5,124.4 82.3,124.4 83.1,124.4 83.9,124.5 84.7,124.5 85.5,124.6 86.3,124.7 87.2,124.7 88.0,124.8 88.8,124.9 89.6,125.0 90.4,125.1 91.2,125.2 92.0,125.3 92.8,125.4 93.6,125.5 94.4,125.6 95.2,125.7 96.0,125.8 96.8,125.9 97.6,126.1 98.4,126.2 99.2,126.3 100.0,126.5 100.8,126.6 101.6,126.8 102.4,126.9 103.2,127.1 104.0,127.2 104.8,127.4 105.6,127.6 106.4,127.7 107.2,127.9 108.1,128.1 108.9,128.3 109.7,128.4 110.5,128.6 111.3,128.8 112.1,129.0 112.9,129.2 113.7,129.4 114.5,129.6 115.3,129.8 116.1,130.0 116.9,130.2 117.7,130.4 118.5,130.6 119.3,130.8 120.1,131.0 120.9,131.2 121.7,131.4 122.5,131.6 123.3,131.9 124.1,132.1 124.9,132.3 125.7,132.5 126.5,132.7 127.3,133.0 128.1,133.2 128.9,133.4 129.8,133.6 130.6,133.8 131.4,134.1 132.2,134.3 133.0,134.5 133.8,134.7 134.6,135.0 135.4,135.2 136.2,135.4 137.0,135.7 137.8,135.9 138.6,136.1 139.4,136.4 140.2,136.6 141.0,136.9 141.8,137.1 142.6,137.4 143.4,137.6 144.2,137.9 145.0,138.1 145.8,138.4 146.6,138.7 147.4,138.9 148.2,139.2 149.0,139.5 149.8,139.8 150.7,140.0 151.5,140.3 152.3,140.6 153.1,140.9 153.9,141.2 154.7,141.5 155.5,141.8 156.3,142.2 157.1,142.5 157.9,142.8 158.7,143.1 159.5,143.5 160.3,143.8 161.1,144.2 161.9,144.5 162.7,144.9 163.5,145.3 164.3,145.6 165.1,146.0 165.9,146.4 166.7,146.8 167.5,147.2 168.3,147.6 169.1,148.1 169.9,148.5 170.7,148.9 171.6,149.4 172.4,149.8 173.2,150.3 174.0,150.7 174.8,151.2 175.6,151.7 176.4,152.2 177.2,152.7 178.0,153.2 178.8,153.7 179.6,154.3 180.4,154.8 181.2,155.4 182.0,155.9 182.8,156.5 183.6,157.1 184.4,157.7 185.2,158.3 186.0,158.9 186.8,159.5 187.6,160.1 188.4,160.8 189.2,161.4 190.0,162.1 190.8,162.8 191.6,163.4 192.5,164.1 193.3,164.9 194.1,165.6 194.9,166.3 195.7,167.1 196.5,167.8 197.3,168.6 198.1,169.4 198.9,170.2 199.7,171.0 200.5,171.8 201.3,172.7 202.1,173.5 202.9,174.4" fill="none" stroke="#0a0a0a" stroke-width="2.2" stroke-linejoin="round"/>
<polyline points="55.0,38.3 55.8,38.2 56.6,38.2 57.4,38.1 58.2,38.1 59.0,38.0 59.8,37.9 60.6,37.9 61.4,37.8 62.2,37.8 63.0,37.7 63.8,37.7 64.6,37.6 65.4,37.6 66.2,37.5 67.0,37.5 67.8,37.4 68.6,37.4 69.4,37.3 70.2,37.3 71.0,37.3 71.8,37.2 72.6,37.2 73.4,37.2 74.2,37.1 75.0,37.1 75.8,37.1 76.6,37.0 77.4,37.0 78.2,37.0 79.0,36.9 79.8,36.9 80.6,36.9 81.4,36.9 82.2,36.9 83.0,36.8 83.8,36.8 84.6,36.8 85.4,36.8 86.2,36.8 87.0,36.8 87.8,36.8 88.6,36.8 89.4,36.8 90.2,36.8 91.0,36.8 91.8,36.8 92.6,36.8 93.4,36.8 94.2,36.8 95.0,36.9 95.8,36.9 96.6,36.9 97.4,36.9 98.2,37.0 99.0,37.0 99.8,37.0 100.6,37.1 101.4,37.1 102.2,37.1 103.0,37.2 103.8,37.2 104.6,37.3 105.4,37.3 106.2,37.4 107.0,37.4 107.8,37.5 108.6,37.6 109.4,37.6 110.2,37.7 111.0,37.8 111.8,37.8 112.6,37.9 113.4,38.0 114.2,38.1 115.0,38.2 115.8,38.3 116.6,38.4 117.4,38.4 118.2,38.6 119.0,38.7 119.8,38.8 120.6,38.9 121.4,39.0 122.2,39.1 123.0,39.2 123.8,39.4 124.6,39.5 125.4,39.6 126.2,39.8 127.0,39.9 127.8,40.0 128.7,40.2 129.5,40.3 130.3,40.5 131.1,40.7 131.9,40.8 132.7,41.0 133.5,41.2 134.3,41.3 135.1,41.5 135.9,41.7 136.7,41.9 137.5,42.1 138.3,42.3 139.1,42.5 139.9,42.7 140.7,42.9 141.5,43.1 142.3,43.3 143.1,43.6 143.9,43.8 144.7,44.0 145.5,44.3 146.3,44.5 147.1,44.7 147.9,45.0 148.7,45.3 149.5,45.5 150.3,45.8 151.1,46.1 151.9,46.4 152.7,46.6 153.5,46.9 154.3,47.2 155.1,47.5 155.9,47.9 156.7,48.2 157.5,48.5 158.3,48.8 159.1,49.2 159.9,49.5 160.7,49.9 161.5,50.3 162.3,50.6 163.1,51.0 163.9,51.4 164.7,51.8 165.5,52.2 166.3,52.6 167.1,53.0 167.9,53.4 168.7,53.9 169.5,54.3 170.3,54.8 171.1,55.2 171.9,55.7 172.7,56.2 173.5,56.6 174.3,57.1 175.1,57.6 175.9,58.1 176.7,58.6 177.5,59.2 178.3,59.7 179.1,60.2 179.9,60.7 180.7,61.3 181.5,61.8 182.3,62.4 183.1,63.0 183.9,63.5 184.7,64.1 185.5,64.7 186.3,65.3 187.1,65.9 187.9,66.5 188.7,67.2 189.5,67.8 190.3,68.4 191.1,69.1 191.9,69.7 192.7,70.4 193.5,71.0 194.3,71.7 195.1,72.4 195.9,73.1 196.7,73.7 197.5,74.4 198.3,75.2 199.1,75.9 199.9,76.6 200.7,77.3 201.5,78.1 202.3,78.8" fill="none" stroke="#1b1675" stroke-width="2.2" stroke-dasharray="1.9 4.6 6.6 4.6" stroke-linejoin="round"/>
<path d="M42.7,1.4 V234.1" fill="none" stroke="#6a6a6a" stroke-width="1.15"/>
<path d="M42.2,234.1 H207" fill="none" stroke="#404040" stroke-width="1.2"/>
<path d="M38.900000000000006,10.3 H42.7" stroke="#4a4a4a" stroke-width="1.1"/>
<text x="0" y="0" transform="translate(34.6,13.600000000000001) scale(0.95,1)" font-size="9.8" text-anchor="end" font-weight="normal">3.0</text>
<path d="M38.900000000000006,41.06 H42.7" stroke="#4a4a4a" stroke-width="1.1"/>
<text x="0" y="0" transform="translate(34.6,44.36) scale(0.95,1)" font-size="9.8" text-anchor="end" font-weight="normal">2.8</text>
<path d="M38.900000000000006,71.82000000000001 H42.7" stroke="#4a4a4a" stroke-width="1.1"/>
<text x="0" y="0" transform="translate(34.6,75.12) scale(0.95,1)" font-size="9.8" text-anchor="end" font-weight="normal">2.6</text>
<path d="M38.900000000000006,102.58 H42.7" stroke="#4a4a4a" stroke-width="1.1"/>
<text x="0" y="0" transform="translate(34.6,105.88) scale(0.95,1)" font-size="9.8" text-anchor="end" font-weight="normal">2.4</text>
<path d="M38.900000000000006,133.34 H42.7" stroke="#4a4a4a" stroke-width="1.1"/>
<text x="0" y="0" transform="translate(34.6,136.64000000000001) scale(0.95,1)" font-size="9.8" text-anchor="end" font-weight="normal">2.2</text>
<path d="M38.900000000000006,164.10000000000002 H42.7" stroke="#4a4a4a" stroke-width="1.1"/>
<text x="0" y="0" transform="translate(34.6,167.40000000000003) scale(0.95,1)" font-size="9.8" text-anchor="end" font-weight="normal">2.0</text>
<path d="M38.900000000000006,194.86 H42.7" stroke="#4a4a4a" stroke-width="1.1"/>
<text x="0" y="0" transform="translate(34.6,198.16000000000003) scale(0.95,1)" font-size="9.8" text-anchor="end" font-weight="normal">1.8</text>
<path d="M38.900000000000006,225.62000000000003 H42.7" stroke="#4a4a4a" stroke-width="1.1"/>
<text x="0" y="0" transform="translate(34.6,228.92000000000004) scale(0.95,1)" font-size="9.8" text-anchor="end" font-weight="normal">1.6</text>
<path d="M49.0,234.1 V238.1" stroke="#4a4a4a" stroke-width="1.1"/>
<text x="0" y="0" transform="translate(49.0,250.0) scale(0.95,1)" font-size="9.8" text-anchor="middle" font-weight="normal">24</text>
<path d="M74.51666666666667,234.1 V238.1" stroke="#4a4a4a" stroke-width="1.1"/>
<text x="0" y="0" transform="translate(74.51666666666667,250.0) scale(0.95,1)" font-size="9.8" text-anchor="middle" font-weight="normal">20</text>
<path d="M100.03333333333333,234.1 V238.1" stroke="#4a4a4a" stroke-width="1.1"/>
<text x="0" y="0" transform="translate(100.03333333333333,250.0) scale(0.95,1)" font-size="9.8" text-anchor="middle" font-weight="normal">16</text>
<path d="M125.55,234.1 V238.1" stroke="#4a4a4a" stroke-width="1.1"/>
<text x="0" y="0" transform="translate(125.55,250.0) scale(0.95,1)" font-size="9.8" text-anchor="middle" font-weight="normal">12</text>
<path d="M151.06666666666666,234.1 V238.1" stroke="#4a4a4a" stroke-width="1.1"/>
<text x="0" y="0" transform="translate(151.06666666666666,250.0) scale(0.95,1)" font-size="9.8" text-anchor="middle" font-weight="normal">8</text>
<path d="M176.58333333333331,234.1 V238.1" stroke="#4a4a4a" stroke-width="1.1"/>
<text x="0" y="0" transform="translate(176.58333333333331,250.0) scale(0.95,1)" font-size="9.8" text-anchor="middle" font-weight="normal">4</text>
<path d="M202.1,234.1 V238.1" stroke="#4a4a4a" stroke-width="1.1"/>
<text x="0" y="0" transform="translate(202.1,250.0) scale(0.95,1)" font-size="9.8" text-anchor="middle" font-weight="normal">0</text>
<text x="79.0" y="265.5" font-size="10" text-anchor="start" font-weight="normal" textLength="92.5" lengthAdjust="spacingAndGlyphs">Months before death</text>
<text x="0" y="0" transform="translate(12.0,117.7) rotate(-90)" font-size="10" text-anchor="middle" font-weight="normal" textLength="44.5" lengthAdjust="spacingAndGlyphs">IDWG (kg)</text>
<text x="0" y="0" transform="translate(3.4,264.9) scale(0.92,1)" font-size="11" text-anchor="start" font-weight="bold">a</text>
</g>
<g id="aR">
<polygon points="282.5,122.6 283.3,123.5 284.1,124.3 284.9,125.2 285.7,126.1 286.5,127.0 287.3,127.9 288.1,128.7 288.9,129.6 289.7,130.5 290.5,131.3 291.3,132.2 292.1,133.1 292.9,133.9 293.7,134.8 294.5,135.6 295.3,136.4 296.1,137.3 296.9,138.1 297.7,138.9 298.5,139.7 299.3,140.5 300.1,141.3 300.9,142.0 301.7,142.8 302.5,143.5 303.3,144.3 304.1,145.0 304.9,145.7 305.7,146.4 306.5,147.0 307.4,147.7 308.2,148.3 309.0,148.9 309.8,149.5 310.6,150.1 311.4,150.6 312.2,151.2 313.0,151.7 313.8,152.2 314.6,152.7 315.4,153.1 316.2,153.6 317.0,154.0 317.8,154.4 318.6,154.8 319.4,155.2 320.2,155.6 321.0,155.9 321.8,156.2 322.6,156.6 323.4,156.9 324.2,157.1 325.0,157.4 325.8,157.7 326.6,157.9 327.4,158.2 328.2,158.4 329.0,158.6 329.8,158.8 330.6,159.0 331.4,159.2 332.2,159.4 333.0,159.5 333.8,159.7 334.6,159.8 335.4,159.9 336.2,160.1 337.0,160.2 337.8,160.3 338.6,160.4 339.4,160.5 340.2,160.6 341.0,160.7 341.8,160.7 342.6,160.8 343.4,160.9 344.2,160.9 345.0,161.0 345.8,161.0 346.6,161.1 347.4,161.1 348.2,161.2 349.0,161.2 349.8,161.2 350.6,161.3 351.4,161.3 352.2,161.3 353.0,161.4 353.8,161.4 354.6,161.4 355.4,161.4 356.2,161.5 357.1,161.5 357.9,161.5 358.7,161.6 359.5,161.6 360.3,161.6 361.1,161.7 361.9,161.7 362.7,161.8 363.5,161.8 364.3,161.8 365.1,161.9 365.9,161.9 366.7,162.0 367.5,162.0 368.3,162.1 369.1,162.1 369.9,162.1 370.7,162.2 371.5,162.2 372.3,162.2 373.1,162.3 373.9,162.3 374.7,162.3 375.5,162.3 376.3,162.3 377.1,162.3 377.9,162.3 378.7,162.3 379.5,162.2 380.3,162.2 381.1,162.2 381.9,162.1 382.7,162.1 383.5,162.0 384.3,161.9 385.1,161.8 385.9,161.7 386.7,161.6 387.5,161.5 388.3,161.4 389.1,161.2 389.9,161.1 390.7,160.9 391.5,160.7 392.3,160.5 393.1,160.3 393.9,160.0 394.7,159.8 395.5,159.5 396.3,159.3 397.1,159.0 397.9,158.6 398.7,158.3 399.5,158.0 400.3,157.6 401.1,157.2 401.9,156.8 402.7,156.4 403.5,155.9 404.3,155.5 405.1,155.0 406.0,154.5 406.8,154.0 407.6,153.4 408.4,152.9 409.2,152.3 410.0,151.8 410.8,151.2 411.6,150.6 412.4,150.0 413.2,149.4 414.0,148.8 414.8,148.2 415.6,147.6 416.4,147.0 417.2,146.4 418.0,145.9 418.8,145.3 419.6,144.8 420.4,144.3 421.2,143.8 422.0,143.3 422.8,142.9 423.6,142.5 424.4,142.1 425.2,141.7 426.0,141.4 426.8,141.2 427.6,140.9 428.4,140.7 429.2,140.6 430.0,140.5 430.0,223.5 429.2,222.8 428.4,222.1 427.6,221.4 426.8,220.7 426.0,220.1 425.2,219.4 424.4,218.7 423.6,218.0 422.8,217.4 422.0,216.7 421.2,216.1 420.4,215.4 419.6,214.8 418.8,214.1 418.0,213.5 417.2,212.9 416.4,212.3 415.6,211.6 414.8,211.0 414.0,210.4 413.2,209.8 412.4,209.2 411.6,208.6 410.8,208.0 410.0,207.4 409.2,206.9 408.4,206.3 407.6,205.7 406.8,205.2 406.0,204.6 405.1,204.0 404.3,203.5 403.5,203.0 402.7,202.4 401.9,201.9 401.1,201.4 400.3,200.8 399.5,200.3 398.7,199.8 397.9,199.3 397.1,198.8 396.3,198.3 395.5,197.8 394.7,197.4 393.9,196.9 393.1,196.4 392.3,196.0 391.5,195.5 390.7,195.1 389.9,194.7 389.1,194.2 388.3,193.8 387.5,193.4 386.7,193.1 385.9,192.7 385.1,192.3 384.3,192.0 383.5,191.6 382.7,191.3 381.9,191.0 381.1,190.7 380.3,190.4 379.5,190.1 378.7,189.8 377.9,189.6 377.1,189.4 376.3,189.1 375.5,188.9 374.7,188.7 373.9,188.5 373.1,188.3 372.3,188.2 371.5,188.0 370.7,187.9 369.9,187.7 369.1,187.6 368.3,187.5 367.5,187.4 366.7,187.3 365.9,187.2 365.1,187.1 364.3,187.0 363.5,186.9 362.7,186.9 361.9,186.8 361.1,186.7 360.3,186.7 359.5,186.6 358.7,186.6 357.9,186.6 357.1,186.5 356.2,186.5 355.4,186.5 354.6,186.5 353.8,186.5 353.0,186.4 352.2,186.4 351.4,186.4 350.6,186.5 349.8,186.5 349.0,186.5 348.2,186.5 347.4,186.6 346.6,186.6 345.8,186.6 345.0,186.7 344.2,186.7 343.4,186.8 342.6,186.9 341.8,187.0 341.0,187.0 340.2,187.1 339.4,187.2 338.6,187.3 337.8,187.4 337.0,187.5 336.2,187.7 335.4,187.8 334.6,187.9 333.8,188.0 333.0,188.2 332.2,188.3 331.4,188.5 330.6,188.6 329.8,188.8 329.0,188.9 328.2,189.1 327.4,189.3 326.6,189.4 325.8,189.6 325.0,189.8 324.2,190.0 323.4,190.2 322.6,190.3 321.8,190.5 321.0,190.7 320.2,190.9 319.4,191.1 318.6,191.3 317.8,191.5 317.0,191.7 316.2,191.9 315.4,192.1 314.6,192.4 313.8,192.6 313.0,192.8 312.2,193.1 311.4,193.4 310.6,193.6 309.8,193.9 309.0,194.2 308.2,194.6 307.4,194.9 306.5,195.3 305.7,195.7 304.9,196.1 304.1,196.5 303.3,197.0 302.5,197.5 301.7,198.0 300.9,198.5 300.1,199.1 299.3,199.7 298.5,200.3 297.7,200.9 296.9,201.6 296.1,202.3 295.3,203.1 294.5,203.9 293.7,204.7 292.9,205.6 292.1,206.5 291.3,207.5 290.5,208.5 289.7,209.5 288.9,210.6 288.1,211.7 287.3,212.9 286.5,214.1 285.7,215.4 284.9,216.7 284.1,218.1 283.3,219.5 282.5,221.0" fill="#e7e7e7"/>
<polyline points="282.5,182.8 283.3,182.8 284.1,182.8 284.9,182.8 285.7,182.8 286.5,182.7 287.3,182.7 288.1,182.7 288.9,182.7 289.7,182.6 290.5,182.6 291.3,182.6 292.1,182.5 292.9,182.5 293.7,182.4 294.5,182.4 295.3,182.3 296.1,182.3 296.9,182.2 297.7,182.2 298.5,182.1 299.3,182.0 300.1,182.0 300.9,181.9 301.7,181.8 302.5,181.8 303.3,181.7 304.1,181.6 304.9,181.5 305.7,181.5 306.5,181.4 307.4,181.3 308.2,181.2 309.0,181.2 309.8,181.1 310.6,181.0 311.4,180.9 312.2,180.9 313.0,180.8 313.8,180.7 314.6,180.6 315.4,180.5 316.2,180.5 317.0,180.4 317.8,180.3 318.6,180.2 319.4,180.2 320.2,180.1 321.0,180.0 321.8,180.0 322.6,179.9 323.4,179.8 324.2,179.8 325.0,179.7 325.8,179.6 326.6,179.6 327.4,179.5 328.2,179.5 329.0,179.4 329.8,179.4 330.6,179.3 331.4,179.3 332.2,179.2 333.0,179.2 333.8,179.2 334.6,179.1 335.4,179.1 336.2,179.1 337.0,179.1 337.8,179.0 338.6,179.0 339.4,179.0 340.2,179.0 341.0,179.0 341.8,179.0 342.6,179.0 343.4,179.0 344.2,179.0 345.0,179.1 345.8,179.1 346.6,179.1 347.4,179.2 348.2,179.2 349.0,179.2 349.8,179.3 350.6,179.3 351.4,179.4 352.2,179.5 353.0,179.6 353.8,179.6 354.6,179.7 355.4,179.8 356.2,179.9 357.1,180.0 357.9,180.1 358.7,180.2 359.5,180.4 360.3,180.5 361.1,180.6 361.9,180.8 362.7,180.9 363.5,181.1 364.3,181.3 365.1,181.4 365.9,181.6 366.7,181.8 367.5,182.0 368.3,182.2 369.1,182.4 369.9,182.6 370.7,182.8 371.5,183.0 372.3,183.3 373.1,183.5 373.9,183.8 374.7,184.0 375.5,184.3 376.3,184.5 377.1,184.8 377.9,185.1 378.7,185.3 379.5,185.6 380.3,185.9 381.1,186.2 381.9,186.5 382.7,186.8 383.5,187.1 384.3,187.5 385.1,187.8 385.9,188.1 386.7,188.4 387.5,188.8 388.3,189.1 389.1,189.5 389.9,189.9 390.7,190.2 391.5,190.6 392.3,191.0 393.1,191.3 393.9,191.7 394.7,192.1 395.5,192.5 396.3,192.9 397.1,193.3 397.9,193.7 398.7,194.2 399.5,194.6 400.3,195.0 401.1,195.4 401.9,195.9 402.7,196.3 403.5,196.8 404.3,197.2 405.1,197.7 406.0,198.1 406.8,198.6 407.6,199.1 408.4,199.6 409.2,200.0 410.0,200.5 410.8,201.0 411.6,201.5 412.4,202.0 413.2,202.5 414.0,203.0 414.8,203.5 415.6,204.0 416.4,204.5 417.2,205.0 418.0,205.5 418.8,206.0 419.6,206.5 420.4,207.0 421.2,207.5 422.0,208.0 422.8,208.5 423.6,209.0 424.4,209.6 425.2,210.1 426.0,210.6 426.8,211.0 427.6,211.5 428.4,212.0 429.2,212.5 430.0,213.0" fill="none" stroke="#00835c" stroke-width="2.2" stroke-dasharray="1.9 4.2" stroke-linejoin="round"/>
<polyline points="282.5,171.3 283.3,171.3 284.1,171.3 284.9,171.3 285.7,171.3 286.5,171.3 287.3,171.3 288.1,171.3 288.9,171.3 289.7,171.4 290.5,171.4 291.3,171.4 292.1,171.4 292.9,171.4 293.7,171.4 294.5,171.4 295.3,171.4 296.1,171.5 296.9,171.5 297.7,171.5 298.5,171.5 299.3,171.5 300.1,171.6 300.9,171.6 301.7,171.6 302.5,171.6 303.3,171.7 304.1,171.7 304.9,171.7 305.7,171.7 306.5,171.8 307.4,171.8 308.2,171.8 309.0,171.8 309.8,171.9 310.6,171.9 311.4,171.9 312.2,172.0 313.0,172.0 313.8,172.0 314.6,172.1 315.4,172.1 316.2,172.1 317.0,172.2 317.8,172.2 318.6,172.2 319.4,172.3 320.2,172.3 321.0,172.4 321.8,172.4 322.6,172.4 323.4,172.5 324.2,172.5 325.0,172.6 325.8,172.6 326.6,172.6 327.4,172.7 328.2,172.7 329.0,172.8 329.8,172.8 330.6,172.8 331.4,172.9 332.2,172.9 333.0,173.0 333.8,173.0 334.6,173.1 335.4,173.1 336.2,173.2 337.0,173.2 337.8,173.3 338.6,173.3 339.4,173.4 340.2,173.4 341.0,173.5 341.8,173.5 342.6,173.6 343.4,173.6 344.2,173.6 345.0,173.7 345.8,173.7 346.6,173.8 347.4,173.8 348.2,173.9 349.0,173.9 349.8,174.0 350.6,174.1 351.4,174.1 352.2,174.2 353.0,174.2 353.8,174.3 354.6,174.3 355.4,174.4 356.2,174.4 357.1,174.5 357.9,174.5 358.7,174.6 359.5,174.6 360.3,174.7 361.1,174.7 361.9,174.8 362.7,174.8 363.5,174.9 364.3,174.9 365.1,175.0 365.9,175.0 366.7,175.1 367.5,175.1 368.3,175.2 369.1,175.2 369.9,175.3 370.7,175.3 371.5,175.4 372.3,175.5 373.1,175.5 373.9,175.6 374.7,175.6 375.5,175.7 376.3,175.7 377.1,175.8 377.9,175.8 378.7,175.9 379.5,175.9 380.3,176.0 381.1,176.0 381.9,176.1 382.7,176.1 383.5,176.2 384.3,176.2 385.1,176.2 385.9,176.3 386.7,176.3 387.5,176.4 388.3,176.4 389.1,176.5 389.9,176.5 390.7,176.6 391.5,176.6 392.3,176.7 393.1,176.7 393.9,176.8 394.7,176.8 395.5,176.8 396.3,176.9 397.1,176.9 397.9,177.0 398.7,177.0 399.5,177.1 400.3,177.1 401.1,177.1 401.9,177.2 402.7,177.2 403.5,177.3 404.3,177.3 405.1,177.3 406.0,177.4 406.8,177.4 407.6,177.4 408.4,177.5 409.2,177.5 410.0,177.6 410.8,177.6 411.6,177.6 412.4,177.7 413.2,177.7 414.0,177.7 414.8,177.7 415.6,177.8 416.4,177.8 417.2,177.8 418.0,177.9 418.8,177.9 419.6,177.9 420.4,177.9 421.2,178.0 422.0,178.0 422.8,178.0 423.6,178.0 424.4,178.1 425.2,178.1 426.0,178.1 426.8,178.1 427.6,178.1 428.4,178.2 429.2,178.2 430.0,178.2" fill="none" stroke="#dd0a12" stroke-width="2.2" stroke-dasharray="6.6 5.8" stroke-linejoin="round"/>
<polyline points="282.5,174.0 283.3,174.0 284.1,174.0 284.9,174.0 285.7,174.0 286.5,173.9 287.3,173.9 288.1,173.9 288.9,173.9 289.7,173.8 290.5,173.8 291.3,173.8 292.1,173.7 292.9,173.7 293.7,173.7 294.5,173.6 295.3,173.6 296.1,173.5 296.9,173.5 297.7,173.4 298.5,173.4 299.3,173.3 300.1,173.3 300.9,173.2 301.7,173.2 302.5,173.1 303.3,173.1 304.1,173.0 304.9,172.9 305.7,172.9 306.5,172.8 307.4,172.8 308.2,172.7 309.0,172.6 309.8,172.6 310.6,172.5 311.4,172.5 312.2,172.4 313.0,172.3 313.8,172.3 314.6,172.2 315.4,172.2 316.2,172.1 317.0,172.1 317.8,172.0 318.6,172.0 319.4,171.9 320.2,171.9 321.0,171.8 321.8,171.8 322.6,171.7 323.4,171.7 324.2,171.7 325.0,171.6 325.8,171.6 326.6,171.6 327.4,171.5 328.2,171.5 329.0,171.5 329.8,171.5 330.6,171.5 331.4,171.4 332.2,171.4 333.0,171.4 333.8,171.4 334.6,171.4 335.4,171.4 336.2,171.4 337.0,171.5 337.8,171.5 338.6,171.5 339.4,171.5 340.2,171.5 341.0,171.6 341.8,171.6 342.6,171.7 343.4,171.7 344.2,171.8 345.0,171.8 345.8,171.9 346.6,172.0 347.4,172.1 348.2,172.1 349.0,172.2 349.8,172.3 350.6,172.4 351.4,172.5 352.2,172.6 353.0,172.8 353.8,172.9 354.6,173.0 355.4,173.2 356.2,173.3 357.1,173.5 357.9,173.6 358.7,173.8 359.5,174.0 360.3,174.1 361.1,174.3 361.9,174.5 362.7,174.7 363.5,174.9 364.3,175.1 365.1,175.4 365.9,175.6 366.7,175.8 367.5,176.1 368.3,176.3 369.1,176.6 369.9,176.8 370.7,177.1 371.5,177.4 372.3,177.7 373.1,177.9 373.9,178.2 374.7,178.5 375.5,178.8 376.3,179.1 377.1,179.4 377.9,179.8 378.7,180.1 379.5,180.4 380.3,180.7 381.1,181.1 381.9,181.4 382.7,181.8 383.5,182.1 384.3,182.5 385.1,182.8 385.9,183.2 386.7,183.6 387.5,183.9 388.3,184.3 389.1,184.7 389.9,185.1 390.7,185.5 391.5,185.9 392.3,186.3 393.1,186.6 393.9,187.1 394.7,187.5 395.5,187.9 396.3,188.3 397.1,188.7 397.9,189.1 398.7,189.5 399.5,189.9 400.3,190.4 401.1,190.8 401.9,191.2 402.7,191.7 403.5,192.1 404.3,192.5 405.1,193.0 406.0,193.4 406.8,193.8 407.6,194.3 408.4,194.7 409.2,195.2 410.0,195.6 410.8,196.1 411.6,196.5 412.4,197.0 413.2,197.4 414.0,197.9 414.8,198.3 415.6,198.8 416.4,199.2 417.2,199.7 418.0,200.2 418.8,200.6 419.6,201.1 420.4,201.5 421.2,202.0 422.0,202.4 422.8,202.9 423.6,203.4 424.4,203.8 425.2,204.3 426.0,204.7 426.8,205.2 427.6,205.6 428.4,206.1 429.2,206.6 430.0,207.0" fill="none" stroke="#00968a" stroke-width="2.2" stroke-dasharray="11.2 4.6" stroke-linejoin="round"/>
<polyline points="282.5,167.9 283.3,168.1 284.1,168.3 284.9,168.5 285.7,168.7 286.5,168.9 287.3,169.1 288.1,169.2 288.9,169.4 289.7,169.6 290.5,169.7 291.3,169.9 292.1,170.0 292.9,170.2 293.7,170.3 294.5,170.4 295.3,170.6 296.1,170.7 296.9,170.8 297.7,170.9 298.5,171.0 299.3,171.1 300.1,171.2 300.9,171.3 301.7,171.4 302.5,171.5 303.3,171.6 304.1,171.7 304.9,171.8 305.7,171.9 306.5,171.9 307.4,172.0 308.2,172.1 309.0,172.1 309.8,172.2 310.6,172.3 311.4,172.3 312.2,172.4 313.0,172.5 313.8,172.5 314.6,172.6 315.4,172.6 316.2,172.7 317.0,172.7 317.8,172.8 318.6,172.8 319.4,172.9 320.2,172.9 321.0,173.0 321.8,173.0 322.6,173.1 323.4,173.1 324.2,173.2 325.0,173.2 325.8,173.3 326.6,173.3 327.4,173.4 328.2,173.4 329.0,173.4 329.8,173.5 330.6,173.6 331.4,173.6 332.2,173.7 333.0,173.7 333.8,173.8 334.6,173.8 335.4,173.9 336.2,173.9 337.0,174.0 337.8,174.1 338.6,174.1 339.4,174.2 340.2,174.3 341.0,174.4 341.8,174.4 342.6,174.5 343.4,174.6 344.2,174.7 345.0,174.8 345.8,174.9 346.6,175.0 347.4,175.1 348.2,175.2 349.0,175.3 349.8,175.4 350.6,175.5 351.4,175.7 352.2,175.8 353.0,175.9 353.8,176.0 354.6,176.2 355.4,176.3 356.2,176.5 357.1,176.6 357.9,176.8 358.7,177.0 359.5,177.1 360.3,177.3 361.1,177.5 361.9,177.7 362.7,177.9 363.5,178.1 364.3,178.3 365.1,178.5 365.9,178.7 366.7,178.9 367.5,179.1 368.3,179.4 369.1,179.6 369.9,179.9 370.7,180.1 371.5,180.4 372.3,180.6 373.1,180.9 373.9,181.1 374.7,181.4 375.5,181.7 376.3,182.0 377.1,182.3 377.9,182.6 378.7,182.9 379.5,183.2 380.3,183.5 381.1,183.8 381.9,184.1 382.7,184.4 383.5,184.7 384.3,185.1 385.1,185.4 385.9,185.8 386.7,186.1 387.5,186.5 388.3,186.8 389.1,187.2 389.9,187.5 390.7,187.9 391.5,188.3 392.3,188.7 393.1,189.0 393.9,189.4 394.7,189.8 395.5,190.2 396.3,190.6 397.1,191.0 397.9,191.4 398.7,191.8 399.5,192.3 400.3,192.7 401.1,193.1 401.9,193.5 402.7,194.0 403.5,194.4 404.3,194.9 405.1,195.3 406.0,195.7 406.8,196.2 407.6,196.7 408.4,197.1 409.2,197.6 410.0,198.1 410.8,198.5 411.6,199.0 412.4,199.5 413.2,199.9 414.0,200.4 414.8,200.8 415.6,201.3 416.4,201.8 417.2,202.2 418.0,202.7 418.8,203.1 419.6,203.6 420.4,204.0 421.2,204.4 422.0,204.8 422.8,205.2 423.6,205.7 424.4,206.0 425.2,206.4 426.0,206.8 426.8,207.2 427.6,207.5 428.4,207.9 429.2,208.2 430.0,208.5" fill="none" stroke="#1b1675" stroke-width="2.2" stroke-dasharray="1.9 4.6 6.6 4.6" stroke-linejoin="round"/>
<polyline points="282.3,164.2 283.1,164.5 283.9,164.8 284.7,165.2 285.5,165.5 286.3,165.8 287.1,166.1 287.9,166.4 288.7,166.7 289.5,167.0 290.3,167.3 291.1,167.6 291.9,167.9 292.7,168.2 293.5,168.4 294.3,168.7 295.1,169.0 295.9,169.3 296.7,169.5 297.6,169.8 298.4,170.1 299.2,170.3 300.0,170.6 300.8,170.8 301.6,171.1 302.4,171.3 303.2,171.5 304.0,171.8 304.8,172.0 305.6,172.2 306.4,172.4 307.2,172.7 308.0,172.9 308.8,173.1 309.6,173.3 310.4,173.5 311.2,173.7 312.0,173.9 312.8,174.1 313.6,174.3 314.4,174.5 315.2,174.6 316.0,174.8 316.8,175.0 317.6,175.2 318.4,175.3 319.2,175.5 320.0,175.6 320.8,175.8 321.6,175.9 322.4,176.1 323.2,176.2 324.0,176.4 324.8,176.5 325.6,176.6 326.4,176.8 327.3,176.9 328.1,177.0 328.9,177.2 329.7,177.3 330.5,177.4 331.3,177.5 332.1,177.6 332.9,177.7 333.7,177.8 334.5,178.0 335.3,178.1 336.1,178.2 336.9,178.3 337.7,178.4 338.5,178.5 339.3,178.6 340.1,178.7 340.9,178.8 341.7,178.9 342.5,179.0 343.3,179.1 344.1,179.2 344.9,179.3 345.7,179.4 346.5,179.5 347.3,179.6 348.1,179.7 348.9,179.8 349.7,179.9 350.5,180.0 351.3,180.1 352.1,180.2 352.9,180.3 353.7,180.4 354.5,180.5 355.3,180.6 356.1,180.8 357.0,180.9 357.8,181.0 358.6,181.1 359.4,181.2 360.2,181.4 361.0,181.5 361.8,181.6 362.6,181.8 363.4,181.9 364.2,182.0 365.0,182.2 365.8,182.3 366.6,182.5 367.4,182.6 368.2,182.8 369.0,182.9 369.8,183.1 370.6,183.2 371.4,183.4 372.2,183.6 373.0,183.7 373.8,183.9 374.6,184.1 375.4,184.3 376.2,184.5 377.0,184.7 377.8,184.8 378.6,185.0 379.4,185.2 380.2,185.5 381.0,185.7 381.8,185.9 382.6,186.1 383.4,186.3 384.2,186.5 385.0,186.8 385.9,187.0 386.7,187.2 387.5,187.5 388.3,187.7 389.1,188.0 389.9,188.2 390.7,188.5 391.5,188.8 392.3,189.0 393.1,189.3 393.9,189.6 394.7,189.9 395.5,190.2 396.3,190.5 397.1,190.8 397.9,191.1 398.7,191.4 399.5,191.7 400.3,192.0 401.1,192.4 401.9,192.7 402.7,193.0 403.5,193.4 404.3,193.7 405.1,194.1 405.9,194.5 406.7,194.8 407.5,195.2 408.3,195.6 409.1,196.0 409.9,196.4 410.7,196.8 411.5,197.2 412.3,197.6 413.1,198.0 413.9,198.4 414.7,198.9 415.6,199.3 416.4,199.7 417.2,200.2 418.0,200.6 418.8,201.1 419.6,201.6 420.4,202.0 421.2,202.5 422.0,203.0 422.8,203.5 423.6,204.0 424.4,204.5 425.2,205.0 426.0,205.5 426.8,206.1 427.6,206.6 428.4,207.1 429.2,207.7 430.0,208.2" fill="none" stroke="#0a0a0a" stroke-width="2.2" stroke-linejoin="round"/>
<path d="M269.9,1.4 V234.2" fill="none" stroke="#6a6a6a" stroke-width="1.15"/>
<path d="M269.4,234.2 H435.5" fill="none" stroke="#404040" stroke-width="1.2"/>
<path d="M266.09999999999997,10.5 H269.9" stroke="#4a4a4a" stroke-width="1.1"/>
<text x="0" y="0" transform="translate(261.8,13.8) scale(0.95,1)" font-size="9.8" text-anchor="end" font-weight="normal">0.6</text>
<path d="M266.09999999999997,64.4 H269.9" stroke="#4a4a4a" stroke-width="1.1"/>
<text x="0" y="0" transform="translate(261.8,67.7) scale(0.95,1)" font-size="9.8" text-anchor="end" font-weight="normal">0.4</text>
<path d="M266.09999999999997,118.3 H269.9" stroke="#4a4a4a" stroke-width="1.1"/>
<text x="0" y="0" transform="translate(261.8,121.6) scale(0.95,1)" font-size="9.8" text-anchor="end" font-weight="normal">0.2</text>
<path d="M266.09999999999997,172.2 H269.9" stroke="#4a4a4a" stroke-width="1.1"/>
<text x="0" y="0" transform="translate(261.8,175.5) scale(0.95,1)" font-size="9.8" text-anchor="end" font-weight="normal">0</text>
<path d="M266.09999999999997,226.1 H269.9" stroke="#4a4a4a" stroke-width="1.1"/>
<text x="0" y="0" transform="translate(261.8,229.4) scale(0.95,1)" font-size="9.8" text-anchor="end" font-weight="normal">−0.2</text>
<path d="M276.7,234.2 V238.2" stroke="#4a4a4a" stroke-width="1.1"/>
<text x="0" y="0" transform="translate(276.7,249.6) scale(0.95,1)" font-size="9.8" text-anchor="middle" font-weight="normal">24</text>
<path d="M302.15,234.2 V238.2" stroke="#4a4a4a" stroke-width="1.1"/>
<text x="0" y="0" transform="translate(302.15,249.6) scale(0.95,1)" font-size="9.8" text-anchor="middle" font-weight="normal">20</text>
<path d="M327.59999999999997,234.2 V238.2" stroke="#4a4a4a" stroke-width="1.1"/>
<text x="0" y="0" transform="translate(327.59999999999997,249.6) scale(0.95,1)" font-size="9.8" text-anchor="middle" font-weight="normal">16</text>
<path d="M353.04999999999995,234.2 V238.2" stroke="#4a4a4a" stroke-width="1.1"/>
<text x="0" y="0" transform="translate(353.04999999999995,249.6) scale(0.95,1)" font-size="9.8" text-anchor="middle" font-weight="normal">12</text>
<path d="M378.5,234.2 V238.2" stroke="#4a4a4a" stroke-width="1.1"/>
<text x="0" y="0" transform="translate(378.5,249.6) scale(0.95,1)" font-size="9.8" text-anchor="middle" font-weight="normal">8</text>
<path d="M403.95,234.2 V238.2" stroke="#4a4a4a" stroke-width="1.1"/>
<text x="0" y="0" transform="translate(403.95,249.6) scale(0.95,1)" font-size="9.8" text-anchor="middle" font-weight="normal">4</text>
<path d="M429.4,234.2 V238.2" stroke="#4a4a4a" stroke-width="1.1"/>
<text x="0" y="0" transform="translate(429.4,249.6) scale(0.95,1)" font-size="9.8" text-anchor="middle" font-weight="normal">0</text>
<text x="306.4" y="265.5" font-size="10" text-anchor="start" font-weight="normal" textLength="92.4" lengthAdjust="spacingAndGlyphs">Months before death</text>
<text x="0" y="0" transform="translate(232.2,117.7) rotate(-90)" font-size="10" text-anchor="middle" font-weight="normal" textLength="83.3" lengthAdjust="spacingAndGlyphs">IDWG (kg/quarter)</text>
<path d="M313.8,70.5 H326.4" stroke="#0a0a0a" stroke-width="1.6"/>
<text x="330.6" y="73.5" font-size="10" text-anchor="start" font-weight="normal" textLength="18.1" lengthAdjust="spacingAndGlyphs">Asia</text>
<path d="M313.8,82.2 H318.3 M322.09999999999997,82.2 H326.4" stroke="#dd0a12" stroke-width="1.6"/>
<text x="330.6" y="85.2" font-size="10" text-anchor="start" font-weight="normal" textLength="38.8" lengthAdjust="spacingAndGlyphs">Australia</text>
<rect x="313.40" y="93.10000000000001" width="1.7" height="1.7" fill="#6aa89a"/>
<rect x="317.80" y="93.10000000000001" width="1.7" height="1.7" fill="#6aa89a"/>
<rect x="322.20" y="93.10000000000001" width="1.7" height="1.7" fill="#6aa89a"/>
<text x="330.6" y="96.9" font-size="10" text-anchor="start" font-weight="normal" textLength="31.5" lengthAdjust="spacingAndGlyphs">Europe</text>
<rect x="313.40" y="104.9" width="1.7" height="1.7" fill="#1b1675"/>
<path d="M318.1,105.7 H322.8" stroke="#1b1675" stroke-width="1.6"/>
<text x="330.6" y="108.7" font-size="10" text-anchor="start" font-weight="normal" textLength="65.2" lengthAdjust="spacingAndGlyphs">North America</text>
<path d="M313.8,117.6 H321.40000000000003" stroke="#00968a" stroke-width="1.6"/>
<path d="M324.40000000000003,117.6 H326.2" stroke="#00968a" stroke-width="1.6"/>
<text x="330.6" y="120.6" font-size="10" text-anchor="start" font-weight="normal" textLength="65.2" lengthAdjust="spacingAndGlyphs">South America</text>
</g>
<g id="bL">
<polygon points="55.0,309.6 55.8,311.6 56.6,313.5 57.4,315.3 58.2,317.1 59.0,318.8 59.8,320.3 60.6,321.8 61.4,323.2 62.2,324.6 63.0,325.9 63.8,327.1 64.6,328.2 65.4,329.3 66.2,330.3 67.0,331.2 67.8,332.1 68.6,333.0 69.4,333.8 70.2,334.5 71.0,335.2 71.8,335.9 72.6,336.6 73.4,337.2 74.2,337.8 75.0,338.4 75.8,339.0 76.6,339.5 77.4,340.1 78.2,340.7 79.0,341.2 79.8,341.8 80.6,342.3 81.4,342.9 82.2,343.5 83.0,344.0 83.8,344.6 84.6,345.2 85.4,345.8 86.2,346.3 87.0,346.9 87.8,347.5 88.6,348.1 89.4,348.7 90.2,349.4 91.0,350.0 91.8,350.6 92.6,351.3 93.4,351.9 94.2,352.5 95.0,353.2 95.8,353.8 96.6,354.4 97.4,355.0 98.2,355.6 99.0,356.1 99.8,356.7 100.6,357.2 101.4,357.7 102.2,358.1 103.0,358.6 103.8,359.0 104.6,359.3 105.4,359.7 106.2,360.0 107.0,360.2 107.8,360.5 108.6,360.7 109.4,360.9 110.2,361.0 111.0,361.2 111.8,361.3 112.6,361.4 113.4,361.5 114.2,361.6 115.0,361.6 115.8,361.7 116.6,361.7 117.4,361.8 118.2,361.8 119.0,361.9 119.8,361.9 120.6,361.9 121.4,362.0 122.2,362.0 123.0,362.1 123.8,362.1 124.6,362.2 125.4,362.2 126.2,362.2 127.0,362.3 127.8,362.4 128.7,362.4 129.5,362.5 130.3,362.5 131.1,362.6 131.9,362.7 132.7,362.7 133.5,362.8 134.3,362.9 135.1,362.9 135.9,363.0 136.7,363.1 137.5,363.2 138.3,363.3 139.1,363.4 139.9,363.4 140.7,363.5 141.5,363.6 142.3,363.7 143.1,363.8 143.9,363.9 144.7,364.1 145.5,364.2 146.3,364.3 147.1,364.4 147.9,364.5 148.7,364.6 149.5,364.8 150.3,364.9 151.1,365.0 151.9,365.2 152.7,365.3 153.5,365.5 154.3,365.6 155.1,365.8 155.9,366.0 156.7,366.2 157.5,366.4 158.3,366.6 159.1,366.8 159.9,367.0 160.7,367.3 161.5,367.5 162.3,367.8 163.1,368.1 163.9,368.4 164.7,368.7 165.5,369.0 166.3,369.4 167.1,369.7 167.9,370.1 168.7,370.5 169.5,370.9 170.3,371.4 171.1,371.8 171.9,372.3 172.7,372.8 173.5,373.3 174.3,373.9 175.1,374.5 175.9,375.0 176.7,375.6 177.5,376.3 178.3,376.9 179.1,377.5 179.9,378.2 180.7,378.9 181.5,379.5 182.3,380.2 183.1,380.9 183.9,381.6 184.7,382.3 185.5,383.0 186.3,383.7 187.1,384.4 187.9,385.2 188.7,385.9 189.5,386.6 190.3,387.3 191.1,388.0 191.9,388.7 192.7,389.3 193.5,390.0 194.3,390.7 195.1,391.3 195.9,392.0 196.7,392.6 197.5,393.2 198.3,393.8 199.1,394.4 199.9,394.9 200.7,395.5 201.5,396.0 201.5,430.0 200.7,428.7 199.9,427.3 199.1,426.0 198.3,424.8 197.5,423.5 196.7,422.3 195.9,421.1 195.1,419.9 194.3,418.7 193.5,417.6 192.7,416.4 191.9,415.3 191.1,414.2 190.3,413.2 189.5,412.1 188.7,411.1 187.9,410.1 187.1,409.2 186.3,408.2 185.5,407.3 184.7,406.4 183.9,405.5 183.1,404.7 182.3,403.8 181.5,403.0 180.7,402.2 179.9,401.5 179.1,400.7 178.3,400.0 177.5,399.3 176.7,398.7 175.9,398.0 175.1,397.4 174.3,396.8 173.5,396.2 172.7,395.7 171.9,395.1 171.1,394.6 170.3,394.1 169.5,393.6 168.7,393.2 167.9,392.8 167.1,392.4 166.3,392.0 165.5,391.6 164.7,391.2 163.9,390.9 163.1,390.6 162.3,390.3 161.5,390.0 160.7,389.8 159.9,389.5 159.1,389.3 158.3,389.1 157.5,388.9 156.7,388.7 155.9,388.5 155.1,388.4 154.3,388.2 153.5,388.1 152.7,387.9 151.9,387.8 151.1,387.7 150.3,387.6 149.5,387.5 148.7,387.5 147.9,387.4 147.1,387.3 146.3,387.2 145.5,387.2 144.7,387.1 143.9,387.1 143.1,387.1 142.3,387.0 141.5,387.0 140.7,387.0 139.9,387.0 139.1,386.9 138.3,386.9 137.5,386.9 136.7,386.9 135.9,386.9 135.1,386.9 134.3,386.9 133.5,386.9 132.7,386.9 131.9,387.0 131.1,387.0 130.3,387.0 129.5,387.0 128.7,387.0 127.8,387.0 127.0,387.0 126.2,387.1 125.4,387.1 124.6,387.1 123.8,387.1 123.0,387.1 122.2,387.1 121.4,387.1 120.6,387.1 119.8,387.2 119.0,387.2 118.2,387.2 117.4,387.1 116.6,387.1 115.8,387.1 115.0,387.1 114.2,387.1 113.4,387.0 112.6,387.0 111.8,387.0 111.0,386.9 110.2,386.9 109.4,386.8 108.6,386.7 107.8,386.6 107.0,386.5 106.2,386.4 105.4,386.3 104.6,386.2 103.8,386.0 103.0,385.9 102.2,385.7 101.4,385.5 100.6,385.3 99.8,385.1 99.0,384.9 98.2,384.6 97.4,384.4 96.6,384.1 95.8,383.8 95.0,383.5 94.2,383.2 93.4,382.8 92.6,382.5 91.8,382.1 91.0,381.7 90.2,381.3 89.4,380.8 88.6,380.3 87.8,379.9 87.0,379.3 86.2,378.8 85.4,378.3 84.6,377.7 83.8,377.1 83.0,376.5 82.2,375.8 81.4,375.2 80.6,374.5 79.8,373.8 79.0,373.1 78.2,372.4 77.4,371.7 76.6,371.0 75.8,370.3 75.0,369.5 74.2,368.8 73.4,368.0 72.6,367.3 71.8,366.6 71.0,365.8 70.2,365.1 69.4,364.4 68.6,363.7 67.8,363.0 67.0,362.3 66.2,361.6 65.4,360.9 64.6,360.3 63.8,359.7 63.0,359.0 62.2,358.4 61.4,357.9 60.6,357.3 59.8,356.8 59.0,356.3 58.2,355.8 57.4,355.3 56.6,354.9 55.8,354.5 55.0,354.2" fill="#e7e7e7"/>
<polygon points="55.0,327.0 55.8,327.6 56.6,328.1 57.4,328.7 58.2,329.2 59.0,329.7 59.8,330.3 60.6,330.8 61.4,331.3 62.2,331.8 63.0,332.3 63.8,332.8 64.6,333.2 65.4,333.7 66.2,334.1 67.0,334.6 67.8,335.0 68.6,335.5 69.4,335.9 70.2,336.3 71.0,336.7 71.8,337.1 72.6,337.5 73.4,337.9 74.2,338.3 75.0,338.6 75.8,339.0 76.6,339.3 77.4,339.7 78.2,340.0 79.0,340.4 79.8,340.7 80.6,341.0 81.4,341.3 82.2,341.6 83.0,341.9 83.8,342.2 84.6,342.5 85.4,342.8 86.2,343.0 87.0,343.3 87.8,343.5 88.6,343.8 89.4,344.0 90.2,344.3 91.0,344.5 91.8,344.7 92.6,344.9 93.4,345.2 94.2,345.4 95.0,345.6 95.8,345.7 96.6,345.9 97.4,346.1 98.2,346.3 99.0,346.5 99.8,346.6 100.6,346.8 101.4,346.9 102.2,347.1 103.0,347.2 103.8,347.4 104.6,347.5 105.4,347.6 106.2,347.7 107.0,347.8 107.8,348.0 108.6,348.1 109.4,348.2 110.2,348.3 111.0,348.3 111.8,348.4 112.6,348.5 113.4,348.6 114.2,348.7 115.0,348.7 115.8,348.8 116.6,348.8 117.4,348.9 118.2,349.0 119.0,349.0 119.8,349.0 120.6,349.1 121.4,349.1 122.2,349.1 123.0,349.2 123.8,349.2 124.6,349.2 125.4,349.2 126.2,349.3 127.0,349.3 127.8,349.3 128.7,349.3 129.5,349.3 130.3,349.3 131.1,349.4 131.9,349.4 132.7,349.4 133.5,349.4 134.3,349.4 135.1,349.5 135.9,349.5 136.7,349.5 137.5,349.6 138.3,349.6 139.1,349.6 139.9,349.7 140.7,349.7 141.5,349.8 142.3,349.9 143.1,349.9 143.9,350.0 144.7,350.1 145.5,350.2 146.3,350.3 147.1,350.4 147.9,350.5 148.7,350.6 149.5,350.7 150.3,350.9 151.1,351.0 151.9,351.2 152.7,351.3 153.5,351.5 154.3,351.7 155.1,351.9 155.9,352.1 156.7,352.3 157.5,352.5 158.3,352.8 159.1,353.1 159.9,353.3 160.7,353.6 161.5,353.9 162.3,354.2 163.1,354.6 163.9,354.9 164.7,355.3 165.5,355.6 166.3,356.0 167.1,356.4 167.9,356.9 168.7,357.3 169.5,357.8 170.3,358.2 171.1,358.7 171.9,359.2 172.7,359.8 173.5,360.3 174.3,360.9 175.1,361.5 175.9,362.1 176.7,362.7 177.5,363.4 178.3,364.1 179.1,364.8 179.9,365.5 180.7,366.2 181.5,367.0 182.3,367.8 183.1,368.6 183.9,369.4 184.7,370.3 185.5,371.1 186.3,372.0 187.1,372.9 187.9,373.9 188.7,374.8 189.5,375.8 190.3,376.8 191.1,377.8 191.9,378.9 192.7,379.9 193.5,381.0 194.3,382.1 195.1,383.3 195.9,384.4 196.7,385.6 197.5,386.8 198.3,388.0 199.1,389.2 199.9,390.5 200.7,391.7 201.5,393.0 201.5,414.0 200.7,412.2 199.9,410.4 199.1,408.6 198.3,406.9 197.5,405.2 196.7,403.5 195.9,401.9 195.1,400.4 194.3,398.8 193.5,397.3 192.7,395.9 191.9,394.4 191.1,393.0 190.3,391.7 189.5,390.4 188.7,389.1 187.9,387.9 187.1,386.7 186.3,385.5 185.5,384.4 184.7,383.3 183.9,382.2 183.1,381.2 182.3,380.2 181.5,379.2 180.7,378.3 179.9,377.4 179.1,376.6 178.3,375.8 177.5,375.0 176.7,374.3 175.9,373.6 175.1,372.9 174.3,372.2 173.5,371.6 172.7,371.0 171.9,370.5 171.1,369.9 170.3,369.4 169.5,369.0 168.7,368.5 167.9,368.1 167.1,367.7 166.3,367.3 165.5,366.9 164.7,366.6 163.9,366.2 163.1,365.9 162.3,365.6 161.5,365.4 160.7,365.1 159.9,364.9 159.1,364.6 158.3,364.4 157.5,364.2 156.7,364.0 155.9,363.8 155.1,363.7 154.3,363.5 153.5,363.3 152.7,363.2 151.9,363.0 151.1,362.9 150.3,362.8 149.5,362.6 148.7,362.5 147.9,362.4 147.1,362.3 146.3,362.2 145.5,362.0 144.7,361.9 143.9,361.8 143.1,361.7 142.3,361.6 141.5,361.5 140.7,361.4 139.9,361.3 139.1,361.2 138.3,361.1 137.5,361.0 136.7,360.9 135.9,360.8 135.1,360.7 134.3,360.6 133.5,360.5 132.7,360.4 131.9,360.3 131.1,360.2 130.3,360.1 129.5,360.1 128.7,360.0 127.8,359.9 127.0,359.8 126.2,359.7 125.4,359.6 124.6,359.6 123.8,359.5 123.0,359.4 122.2,359.3 121.4,359.2 120.6,359.2 119.8,359.1 119.0,359.0 118.2,358.9 117.4,358.8 116.6,358.7 115.8,358.7 115.0,358.6 114.2,358.5 113.4,358.4 112.6,358.3 111.8,358.2 111.0,358.2 110.2,358.1 109.4,358.0 108.6,357.9 107.8,357.8 107.0,357.7 106.2,357.6 105.4,357.5 104.6,357.4 103.8,357.3 103.0,357.2 102.2,357.1 101.4,357.0 100.6,356.9 99.8,356.8 99.0,356.7 98.2,356.6 97.4,356.5 96.6,356.4 95.8,356.3 95.0,356.2 94.2,356.1 93.4,355.9 92.6,355.8 91.8,355.7 91.0,355.6 90.2,355.4 89.4,355.3 88.6,355.2 87.8,355.0 87.0,354.9 86.2,354.7 85.4,354.6 84.6,354.4 83.8,354.3 83.0,354.1 82.2,354.0 81.4,353.8 80.6,353.6 79.8,353.5 79.0,353.3 78.2,353.1 77.4,352.9 76.6,352.7 75.8,352.5 75.0,352.3 74.2,352.2 73.4,351.9 72.6,351.7 71.8,351.5 71.0,351.3 70.2,351.1 69.4,350.9 68.6,350.6 67.8,350.4 67.0,350.2 66.2,349.9 65.4,349.7 64.6,349.4 63.8,349.2 63.0,348.9 62.2,348.6 61.4,348.4 60.6,348.1 59.8,347.8 59.0,347.5 58.2,347.2 57.4,346.9 56.6,346.6 55.8,346.3 55.0,346.0" fill="#e7e7e7"/>
<polygon points="55.5,385.6 56.3,385.7 57.1,385.8 57.9,385.9 58.7,386.0 59.5,386.1 60.3,386.3 61.1,386.4 61.9,386.5 62.7,386.6 63.5,386.7 64.3,386.8 65.1,387.0 65.9,387.1 66.7,387.2 67.5,387.3 68.3,387.4 69.2,387.5 70.0,387.7 70.8,387.8 71.6,387.9 72.4,388.0 73.2,388.2 74.0,388.3 74.8,388.4 75.6,388.5 76.4,388.6 77.2,388.8 78.0,388.9 78.8,389.0 79.6,389.2 80.4,389.3 81.2,389.4 82.0,389.5 82.8,389.6 83.6,389.6 84.4,389.7 85.2,389.8 86.0,389.9 86.8,390.0 87.6,390.1 88.4,390.2 89.2,390.3 90.0,390.4 90.8,390.5 91.6,390.6 92.4,390.7 93.3,390.8 94.1,390.8 94.9,390.9 95.7,391.0 96.5,391.1 97.3,391.2 98.1,391.3 98.9,391.4 99.7,391.5 100.5,391.6 101.3,391.7 102.1,391.8 102.9,391.9 103.7,392.0 104.5,392.1 105.3,392.2 106.1,392.3 106.9,392.3 107.7,392.4 108.5,392.5 109.3,392.6 110.1,392.7 110.9,392.8 111.7,392.9 112.5,393.0 113.3,393.1 114.1,393.2 114.9,393.3 115.7,393.3 116.5,393.4 117.3,393.5 118.1,393.6 118.9,393.7 119.7,393.8 120.5,393.9 121.3,394.0 122.1,394.0 122.9,394.1 123.7,394.2 124.5,394.3 125.3,394.3 126.1,394.4 126.9,394.5 127.8,394.6 128.6,394.7 129.4,394.8 130.2,394.8 131.0,394.9 131.8,395.0 132.6,395.1 133.4,395.2 134.3,395.3 135.1,395.4 135.9,395.5 136.7,395.6 137.5,395.7 138.4,395.8 139.2,396.0 140.0,396.1 140.8,396.2 141.7,396.3 142.5,396.5 143.3,396.6 144.1,396.8 145.0,396.9 145.8,397.1 146.6,397.2 147.4,397.4 148.3,397.6 149.1,397.8 149.9,397.9 150.8,398.1 151.6,398.3 152.4,398.5 153.3,398.7 154.1,399.0 154.9,399.2 155.8,399.4 156.6,399.7 157.5,399.9 158.3,400.2 159.1,400.5 160.0,400.7 160.8,401.0 161.6,401.3 162.5,401.6 163.3,401.9 164.2,402.3 165.0,402.6 165.8,402.9 166.7,403.3 167.5,403.7 168.4,404.0 169.2,404.4 170.1,404.8 170.9,405.2 171.7,405.6 172.6,406.1 173.4,406.5 174.3,406.9 175.1,407.4 176.0,407.9 176.8,408.3 177.7,408.8 178.5,409.3 179.4,409.9 180.3,410.4 181.1,410.9 182.0,411.5 182.8,412.1 183.7,412.7 184.5,413.3 185.4,413.9 186.2,414.5 187.1,415.2 187.9,415.9 188.8,416.6 189.6,417.3 190.5,418.0 191.3,418.7 192.2,419.5 193.0,420.3 193.9,421.0 194.7,421.9 195.6,422.7 196.4,423.5 197.2,424.4 198.1,425.3 198.9,426.2 199.8,427.1 200.6,428.0 201.5,429.0 202.3,429.9 203.2,430.9 204.0,432.0 204.8,433.0 197.8,438.6 197.0,437.6 196.2,436.6 195.5,435.7 194.7,434.8 193.9,433.9 193.2,433.0 192.4,432.1 191.6,431.3 190.9,430.4 190.1,429.6 189.4,428.8 188.6,428.0 187.8,427.3 187.1,426.5 186.3,425.8 185.6,425.1 184.8,424.4 184.0,423.8 183.3,423.1 182.5,422.4 181.8,421.8 181.0,421.2 180.3,420.6 179.5,420.0 178.8,419.4 178.0,418.9 177.2,418.3 176.5,417.8 175.7,417.3 175.0,416.8 174.2,416.3 173.5,415.8 172.7,415.4 171.9,414.9 171.2,414.5 170.4,414.0 169.7,413.6 168.9,413.2 168.2,412.8 167.4,412.4 166.6,412.1 165.9,411.7 165.1,411.4 164.3,411.0 163.6,410.7 162.8,410.4 162.0,410.1 161.3,409.8 160.5,409.5 159.7,409.2 159.0,409.0 158.2,408.7 157.4,408.5 156.7,408.2 155.9,408.0 155.1,407.8 154.3,407.5 153.6,407.3 152.8,407.1 152.0,406.9 151.3,406.7 150.5,406.5 149.7,406.3 148.9,406.2 148.2,406.0 147.4,405.8 146.6,405.7 145.8,405.5 145.1,405.4 144.3,405.2 143.5,405.1 142.7,405.0 141.9,404.8 141.2,404.7 140.4,404.6 139.6,404.5 138.8,404.4 138.0,404.3 137.2,404.2 136.4,404.1 135.7,404.0 134.9,403.9 134.1,403.8 133.3,403.7 132.5,403.6 131.7,403.5 130.9,403.4 130.1,403.4 129.3,403.3 128.5,403.2 127.7,403.1 126.9,403.1 126.1,403.0 125.3,402.9 124.5,402.8 123.7,402.8 122.9,402.7 122.1,402.6 121.3,402.6 120.5,402.5 119.7,402.4 118.9,402.4 118.1,402.3 117.3,402.2 116.5,402.2 115.7,402.1 114.9,402.0 114.1,402.0 113.3,401.9 112.5,401.8 111.7,401.7 110.9,401.7 110.0,401.6 109.2,401.5 108.4,401.5 107.6,401.4 106.8,401.3 106.0,401.2 105.2,401.2 104.4,401.1 103.6,401.0 102.8,400.9 102.0,400.9 101.2,400.8 100.4,400.7 99.6,400.7 98.8,400.6 98.0,400.5 97.2,400.4 96.4,400.4 95.6,400.3 94.7,400.2 93.9,400.1 93.1,400.1 92.3,400.0 91.5,399.9 90.7,399.8 89.9,399.8 89.1,399.7 88.3,399.6 87.5,399.6 86.7,399.5 85.9,399.4 85.1,399.3 84.3,399.3 83.5,399.2 82.7,399.1 81.9,399.1 81.1,399.0 80.3,398.9 79.5,398.8 78.7,398.8 77.9,398.8 77.1,398.7 76.3,398.7 75.5,398.6 74.7,398.6 73.9,398.5 73.1,398.5 72.3,398.4 71.5,398.4 70.6,398.4 69.8,398.3 69.0,398.3 68.2,398.2 67.4,398.2 66.6,398.2 65.8,398.1 65.0,398.1 64.2,398.0 63.4,398.0 62.6,398.0 61.8,397.9 61.0,397.9 60.2,397.9 59.4,397.8 58.6,397.8 57.8,397.8 57.0,397.8 56.2,397.7 55.4,397.7 54.6,397.7" fill="#e7e7e7"/>
<polygon points="55.0,426.9 55.8,427.2 56.6,427.5 57.4,427.7 58.2,428.0 59.0,428.3 59.8,428.5 60.6,428.8 61.4,429.0 62.2,429.2 63.0,429.5 63.8,429.7 64.6,429.9 65.4,430.1 66.2,430.3 67.0,430.5 67.9,430.7 68.7,430.9 69.5,431.0 70.3,431.2 71.1,431.4 71.9,431.5 72.7,431.7 73.5,431.8 74.3,432.0 75.1,432.1 75.9,432.2 76.7,432.4 77.5,432.5 78.3,432.6 79.1,432.7 79.9,432.8 80.7,432.9 81.5,433.0 82.3,433.1 83.1,433.2 83.9,433.2 84.7,433.3 85.5,433.4 86.3,433.4 87.1,433.5 87.9,433.6 88.7,433.6 89.5,433.7 90.3,433.7 91.1,433.8 92.0,433.8 92.8,433.8 93.6,433.9 94.4,433.9 95.2,433.9 96.0,433.9 96.8,434.0 97.6,434.0 98.4,434.0 99.2,434.0 100.0,434.0 100.8,434.0 101.6,434.0 102.4,434.0 103.2,434.0 104.0,434.0 104.8,434.0 105.6,434.0 106.4,434.0 107.2,434.0 108.0,434.0 108.8,433.9 109.6,433.9 110.4,433.9 111.2,433.9 112.0,433.9 112.8,433.9 113.6,433.8 114.4,433.8 115.2,433.8 116.0,433.8 116.9,433.7 117.7,433.7 118.5,433.7 119.3,433.7 120.1,433.6 120.9,433.6 121.7,433.6 122.5,433.6 123.3,433.6 124.1,433.5 124.9,433.5 125.7,433.5 126.5,433.5 127.3,433.5 128.1,433.5 128.9,433.5 129.7,433.5 130.5,433.5 131.3,433.5 132.1,433.5 132.9,433.5 133.7,433.6 134.5,433.6 135.3,433.6 136.1,433.6 136.9,433.7 137.7,433.7 138.5,433.8 139.3,433.8 140.1,433.9 141.0,433.9 141.8,434.0 142.6,434.1 143.4,434.2 144.2,434.2 145.0,434.3 145.8,434.4 146.6,434.5 147.4,434.7 148.2,434.8 149.0,434.9 149.8,435.1 150.6,435.2 151.4,435.4 152.2,435.5 153.0,435.7 153.8,435.9 154.6,436.1 155.4,436.3 156.2,436.5 157.0,436.7 157.8,436.9 158.6,437.1 159.4,437.4 160.2,437.6 161.0,437.9 161.8,438.2 162.6,438.4 163.4,438.7 164.2,439.0 165.0,439.3 165.9,439.6 166.7,440.0 167.5,440.3 168.3,440.6 169.1,441.0 169.9,441.4 170.7,441.7 171.5,442.1 172.3,442.5 173.1,442.9 173.9,443.4 174.7,443.8 175.5,444.2 176.3,444.7 177.1,445.1 177.9,445.6 178.7,446.1 179.5,446.6 180.3,447.1 181.1,447.6 181.9,448.1 182.7,448.7 183.5,449.2 184.3,449.8 185.1,450.3 185.9,450.9 186.7,451.5 187.5,452.1 188.3,452.7 189.1,453.4 190.0,454.0 190.8,454.7 191.6,455.3 192.4,456.0 193.2,456.7 194.0,457.4 194.8,458.1 195.6,458.8 196.4,459.6 197.2,460.3 198.0,461.1 198.8,461.8 199.6,462.6 200.4,463.4 201.2,464.2 202.0,465.0 202.0,479.0 201.2,478.1 200.4,477.2 199.6,476.4 198.8,475.5 198.0,474.7 197.2,473.8 196.4,473.0 195.6,472.2 194.8,471.4 194.0,470.6 193.2,469.8 192.4,469.1 191.6,468.3 190.8,467.6 190.0,466.9 189.1,466.2 188.3,465.5 187.5,464.8 186.7,464.1 185.9,463.4 185.1,462.8 184.3,462.2 183.5,461.6 182.7,461.0 181.9,460.4 181.1,459.8 180.3,459.2 179.5,458.7 178.7,458.2 177.9,457.6 177.1,457.1 176.3,456.7 175.5,456.2 174.7,455.7 173.9,455.3 173.1,454.8 172.3,454.4 171.5,454.0 170.7,453.6 169.9,453.2 169.1,452.9 168.3,452.5 167.5,452.2 166.7,451.8 165.9,451.5 165.0,451.2 164.2,450.9 163.4,450.6 162.6,450.3 161.8,450.1 161.0,449.8 160.2,449.6 159.4,449.3 158.6,449.1 157.8,448.9 157.0,448.7 156.2,448.5 155.4,448.3 154.6,448.1 153.8,447.9 153.0,447.8 152.2,447.6 151.4,447.5 150.6,447.4 149.8,447.2 149.0,447.1 148.2,447.0 147.4,446.9 146.6,446.8 145.8,446.7 145.0,446.6 144.2,446.5 143.4,446.5 142.6,446.4 141.8,446.3 141.0,446.3 140.1,446.2 139.3,446.2 138.5,446.2 137.7,446.1 136.9,446.1 136.1,446.1 135.3,446.0 134.5,446.0 133.7,446.0 132.9,446.0 132.1,445.9 131.3,445.9 130.5,445.9 129.7,445.9 128.9,445.9 128.1,445.9 127.3,445.9 126.5,445.9 125.7,445.9 124.9,445.9 124.1,445.9 123.3,445.9 122.5,445.9 121.7,445.9 120.9,445.9 120.1,445.9 119.3,446.0 118.5,446.0 117.7,446.0 116.9,446.1 116.0,446.1 115.2,446.1 114.4,446.2 113.6,446.2 112.8,446.3 112.0,446.4 111.2,446.4 110.4,446.5 109.6,446.6 108.8,446.7 108.0,446.8 107.2,446.9 106.4,447.0 105.6,447.1 104.8,447.2 104.0,447.4 103.2,447.5 102.4,447.6 101.6,447.8 100.8,447.9 100.0,448.1 99.2,448.2 98.4,448.4 97.6,448.6 96.8,448.7 96.0,448.9 95.2,449.1 94.4,449.3 93.6,449.5 92.8,449.6 92.0,449.8 91.1,450.0 90.3,450.2 89.5,450.5 88.7,450.7 87.9,450.9 87.1,451.1 86.3,451.3 85.5,451.6 84.7,451.8 83.9,452.0 83.1,452.3 82.3,452.5 81.5,452.7 80.7,453.0 79.9,453.2 79.1,453.5 78.3,453.8 77.5,454.0 76.7,454.3 75.9,454.5 75.1,454.8 74.3,455.1 73.5,455.4 72.7,455.6 71.9,455.9 71.1,456.2 70.3,456.5 69.5,456.7 68.7,457.0 67.9,457.3 67.0,457.6 66.2,457.9 65.4,458.2 64.6,458.5 63.8,458.8 63.0,459.1 62.2,459.4 61.4,459.7 60.6,460.0 59.8,460.3 59.0,460.6 58.2,460.9 57.4,461.2 56.6,461.5 55.8,461.8 55.0,462.1" fill="#e7e7e7"/>
<polygon points="54.9,430.2 55.7,430.2 56.5,430.1 57.3,430.1 58.2,430.1 59.0,430.1 59.8,430.1 60.6,430.1 61.4,430.1 62.3,430.1 63.1,430.2 63.9,430.2 64.7,430.2 65.6,430.2 66.4,430.3 67.2,430.3 68.0,430.4 68.8,430.4 69.7,430.5 70.5,430.5 71.3,430.6 72.1,430.7 72.9,430.8 73.7,430.8 74.6,430.9 75.4,431.0 76.2,431.1 77.0,431.2 77.8,431.3 78.6,431.4 79.5,431.5 80.3,431.6 81.1,431.7 81.9,431.8 82.7,432.0 83.5,432.1 84.3,432.2 85.2,432.4 86.0,432.5 86.8,432.6 87.6,432.8 88.4,432.9 89.2,433.1 90.0,433.2 90.9,433.4 91.7,433.5 92.5,433.7 93.3,433.8 94.1,434.0 94.9,434.2 95.7,434.3 96.5,434.5 97.3,434.7 98.1,434.9 99.0,435.1 99.8,435.2 100.6,435.4 101.4,435.6 102.2,435.8 103.0,436.0 103.8,436.2 104.6,436.4 105.4,436.6 106.2,436.8 107.0,437.0 107.8,437.2 108.7,437.4 109.5,437.6 110.3,437.8 111.1,438.0 111.9,438.2 112.7,438.4 113.5,438.6 114.3,438.8 115.1,439.0 115.9,439.2 116.7,439.5 117.5,439.7 118.3,439.9 119.1,440.1 119.9,440.3 120.7,440.5 121.5,440.8 122.3,441.0 123.1,441.2 124.0,441.4 124.8,441.6 125.6,441.8 126.4,442.0 127.2,442.2 128.0,442.4 128.8,442.7 129.6,442.9 130.4,443.1 131.2,443.3 132.0,443.5 132.8,443.7 133.6,443.9 134.4,444.1 135.2,444.4 136.0,444.6 136.9,444.8 137.7,445.0 138.5,445.3 139.3,445.5 140.1,445.7 140.9,446.0 141.7,446.2 142.6,446.5 143.4,446.7 144.2,447.0 145.0,447.3 145.9,447.5 146.7,447.8 147.5,448.1 148.3,448.4 149.2,448.7 150.0,449.0 150.8,449.3 151.6,449.7 152.5,450.0 153.3,450.4 154.1,450.7 155.0,451.1 155.8,451.5 156.6,451.9 157.5,452.3 158.3,452.7 159.1,453.2 160.0,453.6 160.8,454.1 161.6,454.5 162.5,455.0 163.3,455.5 164.2,456.0 165.0,456.5 165.9,457.1 166.7,457.6 167.6,458.2 168.4,458.8 169.2,459.4 170.1,460.0 170.9,460.6 171.8,461.3 172.6,461.9 173.4,462.6 174.3,463.3 175.1,463.9 175.9,464.6 176.8,465.3 177.6,466.1 178.4,466.8 179.3,467.5 180.1,468.3 180.9,469.0 181.8,469.8 182.6,470.5 183.4,471.3 184.2,472.1 185.1,472.9 185.9,473.7 186.7,474.6 187.6,475.4 188.4,476.2 189.2,477.1 190.1,478.0 190.9,478.9 191.7,479.8 192.6,480.7 193.5,481.6 194.3,482.5 195.2,483.5 196.1,484.4 197.0,485.4 197.8,486.4 198.7,487.4 199.6,488.4 200.5,489.5 201.3,490.6 202.2,491.7 203.1,492.8 204.0,493.9 204.9,495.1 205.7,496.3 197.8,501.6 197.1,500.4 196.4,499.2 195.7,498.0 194.9,496.9 194.2,495.8 193.5,494.7 192.8,493.6 192.0,492.6 191.3,491.5 190.6,490.5 189.9,489.5 189.1,488.5 188.4,487.5 187.7,486.6 186.9,485.6 186.2,484.7 185.4,483.8 184.7,482.9 183.9,482.1 183.1,481.2 182.4,480.4 181.6,479.5 180.9,478.7 180.1,477.9 179.3,477.1 178.6,476.3 177.8,475.5 177.0,474.7 176.3,473.9 175.5,473.2 174.7,472.4 174.0,471.7 173.2,471.0 172.4,470.2 171.7,469.5 170.9,468.8 170.2,468.1 169.4,467.5 168.6,466.8 167.9,466.1 167.1,465.5 166.4,464.9 165.6,464.3 164.8,463.7 164.1,463.1 163.3,462.5 162.6,462.0 161.8,461.4 161.1,460.9 160.3,460.4 159.6,459.9 158.8,459.4 158.0,458.9 157.3,458.5 156.5,458.1 155.7,457.7 155.0,457.3 154.2,456.9 153.4,456.5 152.6,456.1 151.9,455.8 151.1,455.4 150.3,455.1 149.5,454.8 148.8,454.4 148.0,454.1 147.2,453.8 146.4,453.5 145.6,453.2 144.9,453.0 144.1,452.7 143.3,452.4 142.5,452.1 141.7,451.9 140.9,451.6 140.2,451.4 139.4,451.1 138.6,450.9 137.8,450.7 137.0,450.4 136.2,450.2 135.4,450.0 134.6,449.7 133.8,449.5 133.0,449.3 132.2,449.1 131.4,448.9 130.6,448.6 129.8,448.4 129.0,448.2 128.2,448.0 127.4,447.8 126.6,447.5 125.8,447.3 125.0,447.1 124.2,446.9 123.4,446.7 122.6,446.4 121.8,446.2 121.0,446.0 120.2,445.8 119.4,445.6 118.6,445.4 117.8,445.2 117.0,444.9 116.2,444.7 115.4,444.5 114.6,444.3 113.8,444.1 113.0,443.9 112.2,443.7 111.4,443.5 110.6,443.3 109.8,443.1 109.0,442.9 108.2,442.8 107.4,442.6 106.6,442.4 105.8,442.2 105.0,442.0 104.2,441.8 103.4,441.6 102.6,441.4 101.8,441.3 101.0,441.1 100.2,440.9 99.4,440.7 98.6,440.6 97.8,440.4 97.0,440.2 96.2,440.1 95.4,439.9 94.6,439.7 93.8,439.6 93.0,439.4 92.2,439.3 91.4,439.1 90.6,439.0 89.8,438.8 89.0,438.7 88.2,438.6 87.5,438.4 86.7,438.3 85.9,438.2 85.1,438.0 84.3,437.9 83.5,437.8 82.7,437.7 81.9,437.6 81.1,437.5 80.3,437.4 79.5,437.3 78.7,437.2 77.9,437.1 77.2,437.0 76.4,436.9 75.6,436.8 74.8,436.7 74.0,436.6 73.2,436.6 72.4,436.5 71.6,436.4 70.8,436.4 70.1,436.3 69.3,436.3 68.5,436.2 67.7,436.2 66.9,436.2 66.1,436.1 65.3,436.1 64.5,436.1 63.8,436.1 63.0,436.1 62.2,436.0 61.4,436.0 60.6,436.0 59.8,436.0 59.1,436.1 58.3,436.1 57.5,436.1 56.7,436.1 55.9,436.2 55.1,436.2" fill="#e7e7e7"/>
<polyline points="55.0,328.3 55.8,329.5 56.6,330.8 57.4,332.0 58.2,333.3 59.0,334.5 59.8,335.7 60.6,336.9 61.4,338.1 62.2,339.3 63.0,340.5 63.8,341.6 64.6,342.8 65.4,343.9 66.2,345.0 67.0,346.2 67.8,347.3 68.6,348.3 69.4,349.4 70.2,350.5 71.0,351.5 71.8,352.5 72.6,353.5 73.4,354.5 74.2,355.5 75.0,356.4 75.8,357.3 76.6,358.3 77.4,359.2 78.2,360.0 79.0,360.9 79.8,361.7 80.6,362.5 81.4,363.3 82.2,364.1 83.0,364.8 83.8,365.6 84.6,366.3 85.4,366.9 86.2,367.6 87.0,368.2 87.8,368.8 88.6,369.4 89.4,370.0 90.2,370.5 91.0,371.0 91.8,371.5 92.6,372.0 93.4,372.4 94.2,372.8 95.0,373.2 95.8,373.6 96.6,374.0 97.4,374.3 98.2,374.6 99.0,375.0 99.8,375.2 100.6,375.5 101.4,375.8 102.2,376.0 103.0,376.2 103.8,376.4 104.6,376.6 105.4,376.8 106.2,376.9 107.0,377.1 107.8,377.2 108.6,377.3 109.4,377.5 110.2,377.6 111.0,377.6 111.8,377.7 112.6,377.8 113.4,377.8 114.2,377.9 115.0,377.9 115.8,377.9 116.6,377.9 117.4,378.0 118.2,378.0 119.0,377.9 119.8,377.9 120.6,377.9 121.4,377.9 122.2,377.9 123.0,377.8 123.8,377.8 124.6,377.8 125.4,377.7 126.2,377.7 127.0,377.6 127.8,377.6 128.7,377.5 129.5,377.5 130.3,377.4 131.1,377.4 131.9,377.3 132.7,377.3 133.5,377.2 134.3,377.2 135.1,377.1 135.9,377.1 136.7,377.0 137.5,377.0 138.3,377.0 139.1,376.9 139.9,376.9 140.7,376.9 141.5,376.9 142.3,376.9 143.1,376.9 143.9,376.9 144.7,376.9 145.5,376.9 146.3,377.0 147.1,377.0 147.9,377.1 148.7,377.1 149.5,377.2 150.3,377.3 151.1,377.4 151.9,377.5 152.7,377.6 153.5,377.8 154.3,377.9 155.1,378.1 155.9,378.2 156.7,378.4 157.5,378.6 158.3,378.9 159.1,379.1 159.9,379.3 160.7,379.6 161.5,379.9 162.3,380.2 163.1,380.5 163.9,380.9 164.7,381.2 165.5,381.6 166.3,382.0 167.1,382.4 167.9,382.9 168.7,383.3 169.5,383.8 170.3,384.3 171.1,384.8 171.9,385.4 172.7,386.0 173.5,386.6 174.3,387.2 175.1,387.8 175.9,388.5 176.7,389.2 177.5,389.9 178.3,390.6 179.1,391.4 179.9,392.2 180.7,393.0 181.5,393.8 182.3,394.7 183.1,395.5 183.9,396.4 184.7,397.3 185.5,398.3 186.3,399.2 187.1,400.2 187.9,401.2 188.7,402.2 189.5,403.2 190.3,404.3 191.1,405.3 191.9,406.4 192.7,407.6 193.5,408.7 194.3,409.8 195.1,411.0 195.9,412.2 196.7,413.4 197.5,414.6 198.3,415.9 199.1,417.1 199.9,418.4 200.7,419.7 201.5,421.0" fill="none" stroke="#dd0a12" stroke-width="2.2" stroke-dasharray="6.6 5.8" stroke-linejoin="round"/>
<polyline points="55.0,392.2 55.8,392.2 56.6,392.3 57.4,392.4 58.2,392.4 59.0,392.5 59.8,392.5 60.6,392.6 61.4,392.7 62.2,392.7 63.0,392.8 63.8,392.8 64.6,392.9 65.5,393.0 66.3,393.0 67.1,393.1 67.9,393.2 68.7,393.2 69.5,393.3 70.3,393.4 71.1,393.5 71.9,393.5 72.7,393.6 73.5,393.7 74.3,393.7 75.1,393.8 75.9,393.9 76.7,394.0 77.5,394.0 78.3,394.1 79.1,394.2 79.9,394.3 80.7,394.3 81.5,394.4 82.3,394.5 83.1,394.6 83.9,394.6 84.7,394.7 85.5,394.8 86.3,394.9 87.2,395.0 88.0,395.0 88.8,395.1 89.6,395.2 90.4,395.3 91.2,395.3 92.0,395.4 92.8,395.5 93.6,395.6 94.4,395.7 95.2,395.7 96.0,395.8 96.8,395.9 97.6,396.0 98.4,396.1 99.2,396.1 100.0,396.2 100.8,396.3 101.6,396.4 102.4,396.5 103.2,396.5 104.0,396.6 104.8,396.7 105.6,396.8 106.4,396.9 107.2,396.9 108.1,397.0 108.9,397.1 109.7,397.2 110.5,397.2 111.3,397.3 112.1,397.4 112.9,397.5 113.7,397.6 114.5,397.6 115.3,397.7 116.1,397.8 116.9,397.9 117.7,397.9 118.5,398.0 119.3,398.1 120.1,398.2 120.9,398.2 121.7,398.3 122.5,398.4 123.3,398.4 124.1,398.5 124.9,398.6 125.7,398.7 126.5,398.7 127.3,398.8 128.2,398.9 129.0,399.0 129.8,399.1 130.6,399.1 131.4,399.2 132.2,399.3 133.0,399.4 133.8,399.5 134.6,399.6 135.4,399.7 136.2,399.8 137.0,399.9 137.8,400.0 138.6,400.1 139.4,400.2 140.2,400.3 141.0,400.5 141.8,400.6 142.6,400.7 143.4,400.9 144.2,401.0 145.0,401.1 145.8,401.3 146.6,401.5 147.4,401.6 148.2,401.8 149.1,402.0 149.9,402.1 150.7,402.3 151.5,402.5 152.3,402.7 153.1,402.9 153.9,403.2 154.7,403.4 155.5,403.6 156.3,403.8 157.1,404.1 157.9,404.3 158.7,404.6 159.5,404.9 160.3,405.1 161.1,405.4 161.9,405.7 162.7,406.0 163.5,406.3 164.3,406.7 165.1,407.0 165.9,407.4 166.7,407.7 167.5,408.1 168.3,408.4 169.1,408.8 169.9,409.2 170.8,409.6 171.6,410.0 172.4,410.5 173.2,410.9 174.0,411.4 174.8,411.8 175.6,412.3 176.4,412.8 177.2,413.3 178.0,413.8 178.8,414.4 179.6,414.9 180.4,415.5 181.2,416.1 182.0,416.7 182.8,417.3 183.6,417.9 184.4,418.5 185.2,419.2 186.0,419.8 186.8,420.5 187.6,421.2 188.4,421.9 189.2,422.7 190.0,423.4 190.8,424.2 191.7,425.0 192.5,425.8 193.3,426.6 194.1,427.4 194.9,428.3 195.7,429.1 196.5,430.0 197.3,430.9 198.1,431.9 198.9,432.8 199.7,433.8 200.5,434.8 201.3,435.8" fill="none" stroke="#00968a" stroke-width="2.2" stroke-dasharray="11.2 4.6" stroke-linejoin="round"/>
<polyline points="55.0,433.2 55.8,433.2 56.6,433.1 57.4,433.1 58.2,433.1 59.0,433.1 59.8,433.1 60.6,433.1 61.4,433.1 62.2,433.1 63.0,433.1 63.8,433.1 64.6,433.1 65.4,433.2 66.2,433.2 67.0,433.2 67.9,433.3 68.7,433.3 69.5,433.4 70.3,433.4 71.1,433.5 71.9,433.6 72.7,433.6 73.5,433.7 74.3,433.8 75.1,433.9 75.9,433.9 76.7,434.0 77.5,434.1 78.3,434.2 79.1,434.3 79.9,434.4 80.7,434.5 81.5,434.7 82.3,434.8 83.1,434.9 83.9,435.0 84.7,435.1 85.5,435.3 86.3,435.4 87.1,435.5 87.9,435.7 88.7,435.8 89.5,436.0 90.3,436.1 91.1,436.3 92.0,436.4 92.8,436.6 93.6,436.7 94.4,436.9 95.2,437.0 96.0,437.2 96.8,437.4 97.6,437.6 98.4,437.7 99.2,437.9 100.0,438.1 100.8,438.3 101.6,438.4 102.4,438.6 103.2,438.8 104.0,439.0 104.8,439.2 105.6,439.4 106.4,439.6 107.2,439.8 108.0,440.0 108.8,440.2 109.6,440.4 110.4,440.6 111.2,440.8 112.0,441.0 112.8,441.2 113.6,441.4 114.4,441.6 115.2,441.8 116.0,442.0 116.9,442.2 117.7,442.4 118.5,442.6 119.3,442.8 120.1,443.1 120.9,443.3 121.7,443.5 122.5,443.7 123.3,443.9 124.1,444.1 124.9,444.3 125.7,444.6 126.5,444.8 127.3,445.0 128.1,445.2 128.9,445.4 129.7,445.6 130.5,445.9 131.3,446.1 132.1,446.3 132.9,446.5 133.7,446.7 134.5,446.9 135.3,447.2 136.1,447.4 136.9,447.6 137.7,447.8 138.5,448.1 139.3,448.3 140.1,448.6 141.0,448.8 141.8,449.0 142.6,449.3 143.4,449.6 144.2,449.8 145.0,450.1 145.8,450.4 146.6,450.7 147.4,451.0 148.2,451.3 149.0,451.6 149.8,451.9 150.6,452.2 151.4,452.6 152.2,452.9 153.0,453.3 153.8,453.6 154.6,454.0 155.4,454.4 156.2,454.8 157.0,455.2 157.8,455.6 158.6,456.1 159.4,456.5 160.2,457.0 161.0,457.4 161.8,457.9 162.6,458.4 163.4,459.0 164.2,459.5 165.0,460.0 165.9,460.6 166.7,461.2 167.5,461.8 168.3,462.4 169.1,463.0 169.9,463.6 170.7,464.3 171.5,464.9 172.3,465.6 173.1,466.3 173.9,467.0 174.7,467.7 175.5,468.4 176.3,469.1 177.1,469.9 177.9,470.6 178.7,471.4 179.5,472.1 180.3,472.9 181.1,473.7 181.9,474.5 182.7,475.3 183.5,476.1 184.3,476.9 185.1,477.7 185.9,478.6 186.7,479.4 187.5,480.3 188.3,481.2 189.1,482.1 190.0,483.0 190.8,483.9 191.6,484.9 192.4,485.8 193.2,486.8 194.0,487.8 194.8,488.8 195.6,489.8 196.4,490.9 197.2,491.9 198.0,493.0 198.8,494.1 199.6,495.3 200.4,496.4 201.2,497.6 202.0,498.8" fill="none" stroke="#00835c" stroke-width="2.2" stroke-dasharray="1.9 4.2" stroke-linejoin="round"/>
<polyline points="55.0,446.6 55.8,446.6 56.6,446.6 57.4,446.5 58.2,446.5 59.0,446.5 59.8,446.4 60.6,446.4 61.4,446.4 62.2,446.3 63.0,446.3 63.8,446.2 64.6,446.2 65.4,446.1 66.2,446.0 67.0,446.0 67.9,445.9 68.7,445.8 69.5,445.8 70.3,445.7 71.1,445.6 71.9,445.5 72.7,445.5 73.5,445.4 74.3,445.3 75.1,445.2 75.9,445.1 76.7,445.0 77.5,444.9 78.3,444.8 79.1,444.7 79.9,444.6 80.7,444.5 81.5,444.4 82.3,444.3 83.1,444.2 83.9,444.1 84.7,444.0 85.5,443.9 86.3,443.8 87.1,443.7 87.9,443.6 88.7,443.5 89.5,443.4 90.3,443.3 91.1,443.2 92.0,443.1 92.8,442.9 93.6,442.8 94.4,442.7 95.2,442.6 96.0,442.5 96.8,442.4 97.6,442.3 98.4,442.2 99.2,442.1 100.0,442.0 100.8,441.9 101.6,441.8 102.4,441.7 103.2,441.6 104.0,441.5 104.8,441.4 105.6,441.3 106.4,441.2 107.2,441.1 108.0,441.0 108.8,440.9 109.6,440.9 110.4,440.8 111.2,440.7 112.0,440.6 112.8,440.5 113.6,440.5 114.4,440.4 115.2,440.3 116.0,440.3 116.9,440.2 117.7,440.1 118.5,440.1 119.3,440.0 120.1,440.0 120.9,439.9 121.7,439.9 122.5,439.9 123.3,439.8 124.1,439.8 124.9,439.8 125.7,439.7 126.5,439.7 127.3,439.7 128.1,439.7 128.9,439.7 129.7,439.7 130.5,439.7 131.3,439.7 132.1,439.7 132.9,439.7 133.7,439.7 134.5,439.8 135.3,439.8 136.1,439.8 136.9,439.9 137.7,439.9 138.5,440.0 139.3,440.0 140.1,440.1 141.0,440.1 141.8,440.2 142.6,440.3 143.4,440.4 144.2,440.5 145.0,440.6 145.8,440.7 146.6,440.8 147.4,440.9 148.2,441.0 149.0,441.2 149.8,441.3 150.6,441.4 151.4,441.6 152.2,441.7 153.0,441.9 153.8,442.1 154.6,442.3 155.4,442.5 156.2,442.7 157.0,442.9 157.8,443.1 158.6,443.3 159.4,443.5 160.2,443.8 161.0,444.0 161.8,444.3 162.6,444.5 163.4,444.8 164.2,445.1 165.0,445.4 165.9,445.7 166.7,446.0 167.5,446.4 168.3,446.7 169.1,447.1 169.9,447.4 170.7,447.8 171.5,448.2 172.3,448.6 173.1,449.0 173.9,449.4 174.7,449.9 175.5,450.3 176.3,450.8 177.1,451.3 177.9,451.8 178.7,452.3 179.5,452.8 180.3,453.3 181.1,453.8 181.9,454.4 182.7,455.0 183.5,455.6 184.3,456.2 185.1,456.8 185.9,457.4 186.7,458.0 187.5,458.7 188.3,459.3 189.1,460.0 190.0,460.7 190.8,461.4 191.6,462.1 192.4,462.9 193.2,463.6 194.0,464.4 194.8,465.1 195.6,465.9 196.4,466.7 197.2,467.5 198.0,468.3 198.8,469.2 199.6,470.0 200.4,470.9 201.2,471.7 202.0,472.6" fill="none" stroke="#0a0a0a" stroke-width="2.2" stroke-linejoin="round"/>
<polyline points="55.0,335.5 55.8,336.1 56.6,336.6 57.4,337.1 58.2,337.6 59.0,338.1 59.8,338.6 60.6,339.1 61.4,339.6 62.2,340.0 63.0,340.5 63.8,340.9 64.6,341.3 65.5,341.7 66.3,342.1 67.1,342.5 67.9,342.9 68.7,343.3 69.5,343.7 70.3,344.0 71.1,344.4 71.9,344.7 72.7,345.0 73.5,345.4 74.3,345.7 75.1,346.0 75.9,346.3 76.7,346.6 77.5,346.8 78.3,347.1 79.1,347.4 79.9,347.6 80.7,347.9 81.5,348.1 82.3,348.4 83.1,348.6 83.9,348.8 84.7,349.0 85.5,349.2 86.3,349.4 87.2,349.6 88.0,349.8 88.8,350.0 89.6,350.2 90.4,350.4 91.2,350.5 92.0,350.7 92.8,350.9 93.6,351.0 94.4,351.2 95.2,351.3 96.0,351.4 96.8,351.6 97.6,351.7 98.4,351.8 99.2,352.0 100.0,352.1 100.8,352.2 101.6,352.3 102.4,352.4 103.2,352.5 104.0,352.6 104.8,352.7 105.6,352.8 106.4,352.9 107.2,353.0 108.1,353.1 108.9,353.2 109.7,353.3 110.5,353.4 111.3,353.5 112.1,353.6 112.9,353.6 113.7,353.7 114.5,353.8 115.3,353.9 116.1,353.9 116.9,354.0 117.7,354.1 118.5,354.2 119.3,354.2 120.1,354.3 120.9,354.4 121.7,354.5 122.5,354.5 123.3,354.6 124.1,354.7 124.9,354.7 125.7,354.8 126.5,354.9 127.3,355.0 128.2,355.0 129.0,355.1 129.8,355.2 130.6,355.3 131.4,355.3 132.2,355.4 133.0,355.5 133.8,355.6 134.6,355.7 135.4,355.8 136.2,355.9 137.0,356.0 137.8,356.1 138.6,356.2 139.4,356.3 140.2,356.4 141.0,356.5 141.8,356.6 142.6,356.7 143.4,356.8 144.2,357.0 145.0,357.1 145.8,357.3 146.6,357.4 147.4,357.6 148.2,357.8 149.1,357.9 149.9,358.1 150.7,358.3 151.5,358.5 152.3,358.8 153.1,359.0 153.9,359.2 154.7,359.5 155.5,359.7 156.3,360.0 157.1,360.3 157.9,360.6 158.7,360.9 159.5,361.2 160.3,361.6 161.1,361.9 161.9,362.3 162.7,362.7 163.5,363.1 164.3,363.5 165.1,363.9 165.9,364.4 166.7,364.8 167.5,365.3 168.3,365.8 169.1,366.4 169.9,366.9 170.8,367.5 171.6,368.1 172.4,368.7 173.2,369.3 174.0,370.0 174.8,370.6 175.6,371.3 176.4,372.1 177.2,372.8 178.0,373.6 178.8,374.4 179.6,375.2 180.4,376.0 181.2,376.9 182.0,377.8 182.8,378.8 183.6,379.7 184.4,380.7 185.2,381.7 186.0,382.8 186.8,383.9 187.6,385.0 188.4,386.1 189.2,387.3 190.0,388.5 190.8,389.7 191.7,391.0 192.5,392.3 193.3,393.6 194.1,395.0 194.9,396.4 195.7,397.9 196.5,399.3 197.3,400.9 198.1,402.4 198.9,404.0 199.7,405.6 200.5,407.3 201.3,409.0" fill="none" stroke="#1b1675" stroke-width="2.2" stroke-dasharray="1.9 4.6 6.6 4.6" stroke-linejoin="round"/>
<path d="M43.4,277.5 V510.3" fill="none" stroke="#6a6a6a" stroke-width="1.15"/>
<path d="M42.9,510.3 H207" fill="none" stroke="#404040" stroke-width="1.2"/>
<path d="M39.6,285.6 H43.4" stroke="#4a4a4a" stroke-width="1.1"/>
<text x="0" y="0" transform="translate(35.2,288.90000000000003) scale(0.95,1)" font-size="9.8" text-anchor="end" font-weight="normal">5.6</text>
<path d="M39.6,316.5 H43.4" stroke="#4a4a4a" stroke-width="1.1"/>
<text x="0" y="0" transform="translate(35.2,319.8) scale(0.95,1)" font-size="9.8" text-anchor="end" font-weight="normal">5.4</text>
<path d="M39.6,347.40000000000003 H43.4" stroke="#4a4a4a" stroke-width="1.1"/>
<text x="0" y="0" transform="translate(35.2,350.70000000000005) scale(0.95,1)" font-size="9.8" text-anchor="end" font-weight="normal">5.2</text>
<path d="M39.6,378.3 H43.4" stroke="#4a4a4a" stroke-width="1.1"/>
<text x="0" y="0" transform="translate(35.2,381.6) scale(0.95,1)" font-size="9.8" text-anchor="end" font-weight="normal">5.0</text>
<path d="M39.6,409.20000000000005 H43.4" stroke="#4a4a4a" stroke-width="1.1"/>
<text x="0" y="0" transform="translate(35.2,412.50000000000006) scale(0.95,1)" font-size="9.8" text-anchor="end" font-weight="normal">4.8</text>
<path d="M39.6,440.1 H43.4" stroke="#4a4a4a" stroke-width="1.1"/>
<text x="0" y="0" transform="translate(35.2,443.40000000000003) scale(0.95,1)" font-size="9.8" text-anchor="end" font-weight="normal">4.6</text>
<path d="M39.6,471.0 H43.4" stroke="#4a4a4a" stroke-width="1.1"/>
<text x="0" y="0" transform="translate(35.2,474.3) scale(0.95,1)" font-size="9.8" text-anchor="end" font-weight="normal">4.4</text>
<path d="M39.6,501.9 H43.4" stroke="#4a4a4a" stroke-width="1.1"/>
<text x="0" y="0" transform="translate(35.2,505.2) scale(0.95,1)" font-size="9.8" text-anchor="end" font-weight="normal">4.2</text>
<path d="M49.5,510.3 V514.3" stroke="#4a4a4a" stroke-width="1.1"/>
<text x="0" y="0" transform="translate(49.5,525.2) scale(0.95,1)" font-size="9.8" text-anchor="middle" font-weight="normal">24</text>
<path d="M74.81666666666666,510.3 V514.3" stroke="#4a4a4a" stroke-width="1.1"/>
<text x="0" y="0" transform="translate(74.81666666666666,525.2) scale(0.95,1)" font-size="9.8" text-anchor="middle" font-weight="normal">20</text>
<path d="M100.13333333333333,510.3 V514.3" stroke="#4a4a4a" stroke-width="1.1"/>
<text x="0" y="0" transform="translate(100.13333333333333,525.2) scale(0.95,1)" font-size="9.8" text-anchor="middle" font-weight="normal">16</text>
<path d="M125.45,510.3 V514.3" stroke="#4a4a4a" stroke-width="1.1"/>
<text x="0" y="0" transform="translate(125.45,525.2) scale(0.95,1)" font-size="9.8" text-anchor="middle" font-weight="normal">12</text>
<path d="M150.76666666666665,510.3 V514.3" stroke="#4a4a4a" stroke-width="1.1"/>
<text x="0" y="0" transform="translate(150.76666666666665,525.2) scale(0.95,1)" font-size="9.8" text-anchor="middle" font-weight="normal">8</text>
<path d="M176.08333333333331,510.3 V514.3" stroke="#4a4a4a" stroke-width="1.1"/>
<text x="0" y="0" transform="translate(176.08333333333331,525.2) scale(0.95,1)" font-size="9.8" text-anchor="middle" font-weight="normal">4</text>
<path d="M201.4,510.3 V514.3" stroke="#4a4a4a" stroke-width="1.1"/>
<text x="0" y="0" transform="translate(201.4,525.2) scale(0.95,1)" font-size="9.8" text-anchor="middle" font-weight="normal">0</text>
<text x="79.1" y="541.7" font-size="10" text-anchor="start" font-weight="normal" textLength="92.5" lengthAdjust="spacingAndGlyphs">Months before death</text>
<text x="0" y="0" transform="translate(11.2,393.5) rotate(-90)" font-size="10" text-anchor="middle" font-weight="normal" textLength="88.5" lengthAdjust="spacingAndGlyphs">Phosphorus (mg/dl)</text>
<text x="0" y="0" transform="translate(4.0,541.3) scale(0.92,1)" font-size="11" text-anchor="start" font-weight="bold">b</text>
</g>
<g id="bR">
<polygon points="283.1,402.5 283.9,402.7 284.7,402.9 285.5,403.1 286.3,403.3 287.1,403.5 287.9,403.7 288.7,403.9 289.5,404.1 290.3,404.3 291.1,404.5 291.9,404.7 292.7,404.9 293.5,405.1 294.3,405.4 295.1,405.6 295.9,405.8 296.7,406.0 297.5,406.2 298.3,406.5 299.1,406.7 299.9,406.9 300.7,407.2 301.5,407.4 302.3,407.6 303.1,407.9 303.9,408.1 304.7,408.4 305.5,408.6 306.3,408.9 307.1,409.2 308.0,409.4 308.8,409.7 309.6,410.0 310.4,410.3 311.2,410.5 312.0,410.8 312.8,411.1 313.6,411.4 314.4,411.7 315.2,412.0 316.0,412.3 316.8,412.6 317.6,412.9 318.4,413.2 319.2,413.5 320.0,413.8 320.8,414.0 321.6,414.3 322.4,414.5 323.2,414.7 324.0,414.9 324.8,415.1 325.6,415.3 326.4,415.4 327.2,415.6 328.0,415.6 328.8,415.7 329.6,415.7 330.4,415.7 331.2,415.7 332.0,415.6 332.8,415.5 333.6,415.4 334.4,415.2 335.2,415.0 336.0,414.7 336.8,414.5 337.6,414.2 338.4,413.9 339.2,413.6 340.0,413.3 340.8,413.0 341.6,412.7 342.4,412.4 343.2,412.1 344.0,411.8 344.8,411.5 345.6,411.3 346.4,411.0 347.2,410.8 348.0,410.6 348.8,410.4 349.6,410.2 350.4,410.0 351.2,409.9 352.0,409.7 352.8,409.6 353.6,409.5 354.4,409.5 355.2,409.4 356.1,409.3 356.9,409.3 357.7,409.3 358.5,409.3 359.3,409.3 360.1,409.3 360.9,409.3 361.7,409.3 362.5,409.3 363.3,409.4 364.1,409.4 364.9,409.4 365.7,409.5 366.5,409.6 367.3,409.7 368.1,409.8 368.9,409.9 369.7,410.1 370.5,410.3 371.3,410.5 372.1,410.7 372.9,410.9 373.7,411.2 374.5,411.5 375.3,411.9 376.1,412.2 376.9,412.6 377.7,413.1 378.5,413.6 379.3,414.1 380.1,414.7 380.9,415.3 381.7,415.9 382.5,416.6 383.3,417.3 384.1,418.1 384.9,418.9 385.7,419.6 386.5,420.4 387.3,421.2 388.1,422.0 388.9,422.8 389.7,423.6 390.5,424.3 391.3,425.0 392.1,425.6 392.9,426.3 393.7,426.8 394.5,427.3 395.3,427.7 396.1,428.1 396.9,428.4 397.7,428.6 398.5,428.8 399.3,428.8 400.1,428.9 400.9,428.8 401.7,428.8 402.5,428.6 403.3,428.5 404.1,428.2 405.0,428.0 405.8,427.7 406.6,427.4 407.4,427.1 408.2,426.7 409.0,426.4 409.8,426.0 410.6,425.6 411.4,425.2 412.2,424.8 413.0,424.4 413.8,424.0 414.6,423.6 415.4,423.3 416.2,422.9 417.0,422.6 417.8,422.3 418.6,422.1 419.4,421.9 420.2,421.7 421.0,421.5 421.8,421.4 422.6,421.4 423.4,421.4 424.2,421.5 425.0,421.6 425.8,421.8 426.6,422.0 427.4,422.4 428.2,422.8 429.0,423.3 429.0,496.2 428.2,493.2 427.4,490.6 426.6,488.5 425.8,486.8 425.0,485.3 424.2,484.2 423.4,483.2 422.6,482.3 421.8,481.6 421.0,480.8 420.2,480.1 419.4,479.2 418.6,478.3 417.8,477.3 417.0,476.2 416.2,475.0 415.4,473.8 414.6,472.5 413.8,471.2 413.0,469.9 412.2,468.6 411.4,467.2 410.6,465.9 409.8,464.5 409.0,463.2 408.2,461.9 407.4,460.7 406.6,459.5 405.8,458.3 405.0,457.2 404.1,456.1 403.3,455.0 402.5,454.0 401.7,453.0 400.9,452.0 400.1,451.1 399.3,450.2 398.5,449.4 397.7,448.6 396.9,447.8 396.1,447.0 395.3,446.3 394.5,445.6 393.7,444.9 392.9,444.3 392.1,443.7 391.3,443.1 390.5,442.5 389.7,442.0 388.9,441.5 388.1,441.0 387.3,440.6 386.5,440.1 385.7,439.7 384.9,439.4 384.1,439.0 383.3,438.7 382.5,438.4 381.7,438.1 380.9,437.8 380.1,437.6 379.3,437.3 378.5,437.1 377.7,436.9 376.9,436.8 376.1,436.6 375.3,436.5 374.5,436.4 373.7,436.3 372.9,436.2 372.1,436.1 371.3,436.1 370.5,436.1 369.7,436.0 368.9,436.0 368.1,436.0 367.3,436.1 366.5,436.1 365.7,436.1 364.9,436.2 364.1,436.2 363.3,436.3 362.5,436.4 361.7,436.5 360.9,436.6 360.1,436.7 359.3,436.8 358.5,437.0 357.7,437.1 356.9,437.3 356.1,437.5 355.2,437.7 354.4,437.9 353.6,438.1 352.8,438.3 352.0,438.5 351.2,438.8 350.4,439.0 349.6,439.3 348.8,439.6 348.0,439.9 347.2,440.2 346.4,440.5 345.6,440.8 344.8,441.2 344.0,441.5 343.2,441.9 342.4,442.3 341.6,442.7 340.8,443.1 340.0,443.5 339.2,444.0 338.4,444.4 337.6,444.9 336.8,445.4 336.0,445.9 335.2,446.4 334.4,446.9 333.6,447.4 332.8,448.0 332.0,448.5 331.2,449.1 330.4,449.7 329.6,450.3 328.8,450.9 328.0,451.6 327.2,452.2 326.4,452.9 325.6,453.6 324.8,454.2 324.0,454.9 323.2,455.6 322.4,456.3 321.6,457.1 320.8,457.8 320.0,458.6 319.2,459.3 318.4,460.1 317.6,460.8 316.8,461.6 316.0,462.4 315.2,463.2 314.4,464.0 313.6,464.8 312.8,465.6 312.0,466.4 311.2,467.3 310.4,468.1 309.6,468.9 308.8,469.8 308.0,470.7 307.1,471.5 306.3,472.4 305.5,473.3 304.7,474.3 303.9,475.2 303.1,476.1 302.3,477.1 301.5,478.1 300.7,479.1 299.9,480.1 299.1,481.2 298.3,482.2 297.5,483.3 296.7,484.4 295.9,485.5 295.1,486.7 294.3,487.9 293.5,489.1 292.7,490.3 291.9,491.5 291.1,492.8 290.3,494.1 289.5,495.5 288.7,496.8 287.9,498.2 287.1,499.7 286.3,501.1 285.5,502.6 284.7,504.1 283.9,505.7 283.1,507.3" fill="#e7e7e7"/>
<polyline points="283.0,468.8 283.8,468.3 284.6,467.9 285.4,467.4 286.2,466.9 287.0,466.4 287.8,465.9 288.6,465.4 289.4,464.9 290.2,464.4 291.0,463.9 291.8,463.3 292.6,462.8 293.4,462.3 294.2,461.7 295.0,461.2 295.8,460.6 296.6,460.1 297.4,459.5 298.2,458.9 299.0,458.4 299.8,457.8 300.6,457.2 301.5,456.6 302.3,456.0 303.1,455.5 303.9,454.9 304.7,454.3 305.5,453.7 306.3,453.1 307.1,452.5 307.9,451.9 308.7,451.2 309.5,450.6 310.3,450.0 311.1,449.4 311.9,448.8 312.7,448.2 313.5,447.5 314.3,446.9 315.1,446.3 315.9,445.7 316.7,445.1 317.5,444.4 318.3,443.8 319.1,443.2 319.9,442.6 320.7,442.0 321.5,441.3 322.3,440.7 323.1,440.1 323.9,439.5 324.7,438.9 325.5,438.3 326.3,437.6 327.1,437.0 327.9,436.4 328.7,435.8 329.5,435.2 330.3,434.6 331.1,434.0 331.9,433.4 332.7,432.8 333.5,432.2 334.3,431.6 335.1,431.1 335.9,430.5 336.7,429.9 337.5,429.4 338.4,428.8 339.2,428.3 340.0,427.7 340.8,427.2 341.6,426.7 342.4,426.2 343.2,425.7 344.0,425.3 344.8,424.8 345.6,424.4 346.4,424.0 347.2,423.6 348.0,423.2 348.8,422.8 349.6,422.5 350.4,422.2 351.2,421.9 352.0,421.6 352.8,421.3 353.6,421.1 354.4,420.9 355.2,420.7 356.0,420.6 356.8,420.5 357.6,420.4 358.4,420.3 359.2,420.3 360.0,420.2 360.8,420.2 361.6,420.3 362.4,420.3 363.2,420.4 364.0,420.5 364.8,420.6 365.6,420.8 366.4,420.9 367.2,421.1 368.0,421.3 368.8,421.5 369.6,421.8 370.4,422.0 371.2,422.3 372.0,422.6 372.8,422.9 373.6,423.2 374.5,423.6 375.3,423.9 376.1,424.3 376.9,424.7 377.7,425.1 378.5,425.6 379.3,426.0 380.1,426.4 380.9,426.9 381.7,427.4 382.5,427.9 383.3,428.4 384.1,428.9 384.9,429.4 385.7,429.9 386.5,430.5 387.3,431.0 388.1,431.6 388.9,432.1 389.7,432.7 390.5,433.3 391.3,433.9 392.1,434.5 392.9,435.1 393.7,435.7 394.5,436.3 395.3,436.9 396.1,437.5 396.9,438.1 397.7,438.8 398.5,439.4 399.3,440.0 400.1,440.7 400.9,441.3 401.7,441.9 402.5,442.6 403.3,443.2 404.1,443.8 404.9,444.5 405.7,445.1 406.5,445.7 407.3,446.4 408.1,447.0 408.9,447.6 409.7,448.2 410.5,448.8 411.4,449.5 412.2,450.1 413.0,450.7 413.8,451.3 414.6,451.8 415.4,452.4 416.2,453.0 417.0,453.6 417.8,454.1 418.6,454.7 419.4,455.2 420.2,455.7 421.0,456.3 421.8,456.8 422.6,457.3 423.4,457.8 424.2,458.2 425.0,458.7 425.8,459.1 426.6,459.6 427.4,460.0 428.2,460.4 429.0,460.8" fill="none" stroke="#dd0a12" stroke-width="2.2" stroke-dasharray="6.6 5.8" stroke-linejoin="round"/>
<polyline points="283.0,419.5 283.8,419.9 284.6,420.2 285.4,420.5 286.2,420.9 287.0,421.2 287.8,421.5 288.6,421.8 289.4,422.1 290.2,422.4 291.0,422.7 291.8,422.9 292.6,423.2 293.4,423.4 294.2,423.7 295.0,423.9 295.8,424.2 296.6,424.4 297.4,424.6 298.2,424.8 299.0,425.0 299.8,425.2 300.6,425.4 301.5,425.6 302.3,425.8 303.1,425.9 303.9,426.1 304.7,426.2 305.5,426.4 306.3,426.5 307.1,426.7 307.9,426.8 308.7,426.9 309.5,427.1 310.3,427.2 311.1,427.3 311.9,427.4 312.7,427.5 313.5,427.6 314.3,427.7 315.1,427.8 315.9,427.9 316.7,427.9 317.5,428.0 318.3,428.1 319.1,428.1 319.9,428.2 320.7,428.3 321.5,428.3 322.3,428.4 323.1,428.4 323.9,428.5 324.7,428.5 325.5,428.5 326.3,428.6 327.1,428.6 327.9,428.6 328.7,428.7 329.5,428.7 330.3,428.7 331.1,428.7 331.9,428.7 332.7,428.7 333.5,428.8 334.3,428.8 335.1,428.8 335.9,428.8 336.7,428.8 337.5,428.8 338.4,428.8 339.2,428.8 340.0,428.8 340.8,428.8 341.6,428.8 342.4,428.8 343.2,428.8 344.0,428.8 344.8,428.8 345.6,428.8 346.4,428.8 347.2,428.8 348.0,428.8 348.8,428.8 349.6,428.8 350.4,428.8 351.2,428.8 352.0,428.8 352.8,428.8 353.6,428.8 354.4,428.8 355.2,428.8 356.0,428.8 356.8,428.8 357.6,428.8 358.4,428.8 359.2,428.8 360.0,428.8 360.8,428.8 361.6,428.8 362.4,428.9 363.2,428.9 364.0,428.9 364.8,428.9 365.6,429.0 366.4,429.0 367.2,429.0 368.0,429.1 368.8,429.1 369.6,429.2 370.4,429.3 371.2,429.3 372.0,429.4 372.8,429.5 373.6,429.6 374.5,429.7 375.3,429.9 376.1,430.0 376.9,430.2 377.7,430.4 378.5,430.6 379.3,430.8 380.1,431.1 380.9,431.3 381.7,431.6 382.5,431.9 383.3,432.3 384.1,432.6 384.9,433.0 385.7,433.4 386.5,433.8 387.3,434.2 388.1,434.7 388.9,435.1 389.7,435.6 390.5,436.1 391.3,436.6 392.1,437.1 392.9,437.6 393.7,438.1 394.5,438.6 395.3,439.2 396.1,439.7 396.9,440.2 397.7,440.8 398.5,441.3 399.3,441.9 400.1,442.4 400.9,443.0 401.7,443.5 402.5,444.0 403.3,444.6 404.1,445.1 404.9,445.7 405.7,446.2 406.5,446.8 407.3,447.3 408.1,447.9 408.9,448.4 409.7,449.0 410.5,449.6 411.4,450.1 412.2,450.7 413.0,451.3 413.8,451.9 414.6,452.5 415.4,453.1 416.2,453.7 417.0,454.3 417.8,454.9 418.6,455.5 419.4,456.2 420.2,456.8 421.0,457.5 421.8,458.2 422.6,458.8 423.4,459.6 424.2,460.3 425.0,461.0 425.8,461.8 426.6,462.6 427.4,463.3 428.2,464.2 429.0,465.0" fill="none" stroke="#00835c" stroke-width="2.2" stroke-dasharray="1.9 4.2" stroke-linejoin="round"/>
<polyline points="283.0,441.9 283.8,441.5 284.6,441.1 285.4,440.7 286.2,440.3 287.0,440.0 287.8,439.6 288.6,439.2 289.4,438.8 290.2,438.4 291.0,438.1 291.8,437.7 292.6,437.3 293.4,437.0 294.2,436.6 295.0,436.3 295.8,435.9 296.6,435.6 297.4,435.3 298.2,434.9 299.0,434.6 299.8,434.3 300.6,434.0 301.5,433.7 302.3,433.3 303.1,433.0 303.9,432.7 304.7,432.4 305.5,432.1 306.3,431.9 307.1,431.6 307.9,431.3 308.7,431.0 309.5,430.8 310.3,430.5 311.1,430.2 311.9,430.0 312.7,429.7 313.5,429.5 314.3,429.3 315.1,429.0 315.9,428.8 316.7,428.6 317.5,428.4 318.3,428.2 319.1,427.9 319.9,427.7 320.7,427.6 321.5,427.4 322.3,427.2 323.1,427.0 323.9,426.8 324.7,426.7 325.5,426.5 326.3,426.4 327.1,426.2 327.9,426.1 328.7,425.9 329.5,425.8 330.3,425.7 331.1,425.6 331.9,425.5 332.7,425.4 333.5,425.3 334.3,425.2 335.1,425.1 335.9,425.0 336.7,425.0 337.5,424.9 338.4,424.8 339.2,424.8 340.0,424.8 340.8,424.7 341.6,424.7 342.4,424.7 343.2,424.7 344.0,424.7 344.8,424.7 345.6,424.7 346.4,424.7 347.2,424.7 348.0,424.7 348.8,424.8 349.6,424.8 350.4,424.9 351.2,424.9 352.0,425.0 352.8,425.1 353.6,425.2 354.4,425.3 355.2,425.4 356.0,425.5 356.8,425.6 357.6,425.7 358.4,425.8 359.2,426.0 360.0,426.1 360.8,426.3 361.6,426.5 362.4,426.6 363.2,426.8 364.0,427.0 364.8,427.2 365.6,427.4 366.4,427.6 367.2,427.9 368.0,428.1 368.8,428.3 369.6,428.6 370.4,428.8 371.2,429.1 372.0,429.4 372.8,429.7 373.6,430.0 374.5,430.3 375.3,430.6 376.1,430.9 376.9,431.2 377.7,431.5 378.5,431.9 379.3,432.2 380.1,432.6 380.9,433.0 381.7,433.3 382.5,433.7 383.3,434.1 384.1,434.5 384.9,434.9 385.7,435.3 386.5,435.8 387.3,436.2 388.1,436.6 388.9,437.1 389.7,437.5 390.5,438.0 391.3,438.5 392.1,439.0 392.9,439.4 393.7,439.9 394.5,440.4 395.3,440.9 396.1,441.5 396.9,442.0 397.7,442.5 398.5,443.1 399.3,443.6 400.1,444.2 400.9,444.7 401.7,445.3 402.5,445.9 403.3,446.5 404.1,447.1 404.9,447.7 405.7,448.3 406.5,448.9 407.3,449.5 408.1,450.2 408.9,450.8 409.7,451.4 410.5,452.1 411.4,452.8 412.2,453.4 413.0,454.1 413.8,454.8 414.6,455.5 415.4,456.2 416.2,456.9 417.0,457.6 417.8,458.3 418.6,459.0 419.4,459.8 420.2,460.5 421.0,461.3 421.8,462.0 422.6,462.8 423.4,463.6 424.2,464.3 425.0,465.1 425.8,465.9 426.6,466.7 427.4,467.5 428.2,468.3 429.0,469.1" fill="none" stroke="#1b1675" stroke-width="2.2" stroke-dasharray="1.9 4.6 6.6 4.6" stroke-linejoin="round"/>
<polyline points="283.0,419.8 283.8,420.0 284.6,420.2 285.4,420.4 286.2,420.6 287.0,420.8 287.8,421.0 288.6,421.2 289.4,421.4 290.2,421.6 291.0,421.8 291.8,422.0 292.6,422.2 293.4,422.4 294.2,422.6 295.0,422.8 295.8,423.0 296.6,423.2 297.4,423.4 298.2,423.6 299.0,423.8 299.8,424.0 300.6,424.2 301.5,424.4 302.3,424.5 303.1,424.7 303.9,424.9 304.7,425.1 305.5,425.2 306.3,425.4 307.1,425.6 307.9,425.7 308.7,425.9 309.5,426.0 310.3,426.2 311.1,426.3 311.9,426.5 312.7,426.6 313.5,426.7 314.3,426.9 315.1,427.0 315.9,427.1 316.7,427.2 317.5,427.3 318.3,427.4 319.1,427.5 319.9,427.6 320.7,427.7 321.5,427.8 322.3,427.9 323.1,428.0 323.9,428.0 324.7,428.1 325.5,428.1 326.3,428.2 327.1,428.2 327.9,428.3 328.7,428.3 329.5,428.3 330.3,428.4 331.1,428.4 331.9,428.4 332.7,428.4 333.5,428.4 334.3,428.4 335.1,428.3 335.9,428.3 336.7,428.3 337.5,428.2 338.4,428.2 339.2,428.2 340.0,428.1 340.8,428.0 341.6,428.0 342.4,427.9 343.2,427.9 344.0,427.8 344.8,427.7 345.6,427.7 346.4,427.6 347.2,427.5 348.0,427.5 348.8,427.4 349.6,427.4 350.4,427.3 351.2,427.2 352.0,427.2 352.8,427.1 353.6,427.1 354.4,427.0 355.2,427.0 356.0,426.9 356.8,426.9 357.6,426.9 358.4,426.8 359.2,426.8 360.0,426.8 360.8,426.8 361.6,426.8 362.4,426.8 363.2,426.8 364.0,426.8 364.8,426.8 365.6,426.9 366.4,426.9 367.2,427.0 368.0,427.1 368.8,427.1 369.6,427.2 370.4,427.3 371.2,427.4 372.0,427.5 372.8,427.7 373.6,427.8 374.5,427.9 375.3,428.1 376.1,428.2 376.9,428.4 377.7,428.6 378.5,428.8 379.3,429.0 380.1,429.2 380.9,429.4 381.7,429.7 382.5,429.9 383.3,430.1 384.1,430.4 384.9,430.7 385.7,431.0 386.5,431.2 387.3,431.6 388.1,431.9 388.9,432.2 389.7,432.5 390.5,432.9 391.3,433.2 392.1,433.6 392.9,434.0 393.7,434.3 394.5,434.7 395.3,435.1 396.1,435.6 396.9,436.0 397.7,436.4 398.5,436.9 399.3,437.3 400.1,437.8 400.9,438.2 401.7,438.7 402.5,439.2 403.3,439.7 404.1,440.1 404.9,440.6 405.7,441.1 406.5,441.6 407.3,442.0 408.1,442.5 408.9,443.0 409.7,443.5 410.5,443.9 411.4,444.4 412.2,444.8 413.0,445.3 413.8,445.7 414.6,446.1 415.4,446.6 416.2,447.0 417.0,447.4 417.8,447.8 418.6,448.1 419.4,448.5 420.2,448.8 421.0,449.2 421.8,449.5 422.6,449.8 423.4,450.0 424.2,450.3 425.0,450.5 425.8,450.8 426.6,451.0 427.4,451.1 428.2,451.3 429.0,451.4" fill="none" stroke="#00968a" stroke-width="2.2" stroke-dasharray="11.2 4.6" stroke-linejoin="round"/>
<polyline points="283.0,418.8 283.8,418.8 284.6,418.8 285.4,418.8 286.2,418.7 287.0,418.7 287.8,418.7 288.6,418.7 289.4,418.7 290.2,418.7 291.0,418.7 291.8,418.7 292.6,418.7 293.4,418.7 294.2,418.7 295.0,418.7 295.8,418.7 296.6,418.7 297.4,418.8 298.2,418.8 299.0,418.8 299.8,418.8 300.6,418.8 301.5,418.8 302.3,418.9 303.1,418.9 303.9,418.9 304.7,418.9 305.5,419.0 306.3,419.0 307.1,419.0 307.9,419.1 308.7,419.1 309.5,419.1 310.3,419.2 311.1,419.2 311.9,419.3 312.7,419.3 313.5,419.4 314.3,419.4 315.1,419.5 315.9,419.5 316.7,419.6 317.5,419.6 318.3,419.7 319.1,419.7 319.9,419.8 320.7,419.9 321.5,419.9 322.3,420.0 323.1,420.1 323.9,420.1 324.7,420.2 325.5,420.3 326.3,420.4 327.1,420.5 327.9,420.5 328.7,420.6 329.5,420.7 330.3,420.8 331.1,420.9 331.9,421.0 332.7,421.1 333.5,421.2 334.3,421.3 335.1,421.4 335.9,421.5 336.7,421.6 337.5,421.7 338.4,421.8 339.2,421.9 340.0,422.0 340.8,422.1 341.6,422.2 342.4,422.3 343.2,422.5 344.0,422.6 344.8,422.7 345.6,422.8 346.4,423.0 347.2,423.1 348.0,423.2 348.8,423.4 349.6,423.5 350.4,423.6 351.2,423.8 352.0,423.9 352.8,424.1 353.6,424.2 354.4,424.4 355.2,424.5 356.0,424.7 356.8,424.8 357.6,425.0 358.4,425.1 359.2,425.3 360.0,425.5 360.8,425.6 361.6,425.8 362.4,426.0 363.2,426.1 364.0,426.3 364.8,426.5 365.6,426.6 366.4,426.8 367.2,427.0 368.0,427.2 368.8,427.4 369.6,427.6 370.4,427.8 371.2,428.0 372.0,428.1 372.8,428.3 373.6,428.5 374.5,428.7 375.3,428.9 376.1,429.1 376.9,429.3 377.7,429.6 378.5,429.8 379.3,430.0 380.1,430.2 380.9,430.4 381.7,430.6 382.5,430.8 383.3,431.0 384.1,431.3 384.9,431.5 385.7,431.7 386.5,431.9 387.3,432.1 388.1,432.4 388.9,432.6 389.7,432.8 390.5,433.0 391.3,433.3 392.1,433.5 392.9,433.7 393.7,434.0 394.5,434.2 395.3,434.4 396.1,434.7 396.9,434.9 397.7,435.1 398.5,435.4 399.3,435.6 400.1,435.8 400.9,436.1 401.7,436.3 402.5,436.5 403.3,436.8 404.1,437.0 404.9,437.3 405.7,437.5 406.5,437.8 407.3,438.0 408.1,438.2 408.9,438.5 409.7,438.7 410.5,439.0 411.4,439.2 412.2,439.4 413.0,439.7 413.8,439.9 414.6,440.2 415.4,440.4 416.2,440.7 417.0,440.9 417.8,441.1 418.6,441.4 419.4,441.6 420.2,441.9 421.0,442.1 421.8,442.4 422.6,442.6 423.4,442.8 424.2,443.1 425.0,443.3 425.8,443.6 426.6,443.8 427.4,444.0 428.2,444.3 429.0,444.5" fill="none" stroke="#0a0a0a" stroke-width="2.2" stroke-linejoin="round"/>
<path d="M271.0,277.5 V509.9" fill="none" stroke="#6a6a6a" stroke-width="1.15"/>
<path d="M270.5,509.9 H435.5" fill="none" stroke="#404040" stroke-width="1.2"/>
<path d="M267.2,305.5 H271.0" stroke="#4a4a4a" stroke-width="1.1"/>
<text x="0" y="0" transform="translate(262.8,308.8) scale(0.95,1)" font-size="9.8" text-anchor="end" font-weight="normal">0.6</text>
<path d="M267.2,344.78 H271.0" stroke="#4a4a4a" stroke-width="1.1"/>
<text x="0" y="0" transform="translate(262.8,348.08) scale(0.95,1)" font-size="9.8" text-anchor="end" font-weight="normal">0.4</text>
<path d="M267.2,384.06 H271.0" stroke="#4a4a4a" stroke-width="1.1"/>
<text x="0" y="0" transform="translate(262.8,387.36) scale(0.95,1)" font-size="9.8" text-anchor="end" font-weight="normal">0.2</text>
<path d="M267.2,423.34000000000003 H271.0" stroke="#4a4a4a" stroke-width="1.1"/>
<text x="0" y="0" transform="translate(262.8,426.64000000000004) scale(0.95,1)" font-size="9.8" text-anchor="end" font-weight="normal">0</text>
<path d="M267.2,462.62 H271.0" stroke="#4a4a4a" stroke-width="1.1"/>
<text x="0" y="0" transform="translate(262.8,465.92) scale(0.95,1)" font-size="9.8" text-anchor="end" font-weight="normal">−0.2</text>
<path d="M267.2,501.9 H271.0" stroke="#4a4a4a" stroke-width="1.1"/>
<text x="0" y="0" transform="translate(262.8,505.2) scale(0.95,1)" font-size="9.8" text-anchor="end" font-weight="normal">−0.4</text>
<path d="M277.4,509.9 V513.9" stroke="#4a4a4a" stroke-width="1.1"/>
<text x="0" y="0" transform="translate(277.4,525.4) scale(0.95,1)" font-size="9.8" text-anchor="middle" font-weight="normal">24</text>
<path d="M302.66666666666663,509.9 V513.9" stroke="#4a4a4a" stroke-width="1.1"/>
<text x="0" y="0" transform="translate(302.66666666666663,525.4) scale(0.95,1)" font-size="9.8" text-anchor="middle" font-weight="normal">20</text>
<path d="M327.93333333333334,509.9 V513.9" stroke="#4a4a4a" stroke-width="1.1"/>
<text x="0" y="0" transform="translate(327.93333333333334,525.4) scale(0.95,1)" font-size="9.8" text-anchor="middle" font-weight="normal">16</text>
<path d="M353.2,509.9 V513.9" stroke="#4a4a4a" stroke-width="1.1"/>
<text x="0" y="0" transform="translate(353.2,525.4) scale(0.95,1)" font-size="9.8" text-anchor="middle" font-weight="normal">12</text>
<path d="M378.46666666666664,509.9 V513.9" stroke="#4a4a4a" stroke-width="1.1"/>
<text x="0" y="0" transform="translate(378.46666666666664,525.4) scale(0.95,1)" font-size="9.8" text-anchor="middle" font-weight="normal">8</text>
<path d="M403.73333333333335,509.9 V513.9" stroke="#4a4a4a" stroke-width="1.1"/>
<text x="0" y="0" transform="translate(403.73333333333335,525.4) scale(0.95,1)" font-size="9.8" text-anchor="middle" font-weight="normal">4</text>
<path d="M429.0,509.9 V513.9" stroke="#4a4a4a" stroke-width="1.1"/>
<text x="0" y="0" transform="translate(429.0,525.4) scale(0.95,1)" font-size="9.8" text-anchor="middle" font-weight="normal">0</text>
<text x="306.8" y="541.7" font-size="10" text-anchor="start" font-weight="normal" textLength="92.8" lengthAdjust="spacingAndGlyphs">Months before death</text>
<text x="0" y="0" transform="translate(233.0,390.7) rotate(-90)" font-size="10" text-anchor="middle" font-weight="normal" textLength="120.2" lengthAdjust="spacingAndGlyphs">Phosphorus (mg/dl/quarter)</text>
<path d="M342.4,330.9 H354.0" stroke="#0a0a0a" stroke-width="1.6"/>
<text x="360.1" y="333.9" font-size="10" text-anchor="start" font-weight="normal" textLength="18.1" lengthAdjust="spacingAndGlyphs">Asia</text>
<path d="M342.4,342.8 H346.9 M349.7,342.8 H354.0" stroke="#dd0a12" stroke-width="1.6"/>
<text x="360.1" y="345.8" font-size="10" text-anchor="start" font-weight="normal" textLength="38.8" lengthAdjust="spacingAndGlyphs">Australia</text>
<rect x="342.00" y="353.8" width="1.7" height="1.7" fill="#6aa89a"/>
<rect x="346.40" y="353.8" width="1.7" height="1.7" fill="#6aa89a"/>
<rect x="350.80" y="353.8" width="1.7" height="1.7" fill="#6aa89a"/>
<text x="360.1" y="357.6" font-size="10" text-anchor="start" font-weight="normal" textLength="31.5" lengthAdjust="spacingAndGlyphs">Europe</text>
<rect x="342.00" y="365.59999999999997" width="1.7" height="1.7" fill="#1b1675"/>
<path d="M346.7,366.4 H351.4" stroke="#1b1675" stroke-width="1.6"/>
<text x="360.1" y="369.4" font-size="10" text-anchor="start" font-weight="normal" textLength="65.2" lengthAdjust="spacingAndGlyphs">North America</text>
<path d="M342.4,378.2 H350.0" stroke="#00968a" stroke-width="1.6"/>
<path d="M353.0,378.2 H354.79999999999995" stroke="#00968a" stroke-width="1.6"/>
<text x="360.1" y="381.2" font-size="10" text-anchor="start" font-weight="normal" textLength="65.2" lengthAdjust="spacingAndGlyphs">South America</text>
</g>
<g id="cL">
<polygon points="45.6,694.0 46.4,693.8 47.2,693.7 48.0,693.6 48.8,693.4 49.6,693.3 50.4,693.1 51.2,693.0 52.0,692.8 52.8,692.7 53.6,692.6 54.4,692.4 55.2,692.3 56.0,692.1 56.8,692.0 57.6,691.9 58.4,691.8 59.2,691.6 60.0,691.5 60.9,691.4 61.7,691.2 62.5,691.1 63.3,691.0 64.1,690.9 64.9,690.7 65.7,690.6 66.5,690.5 67.3,690.4 68.1,690.3 68.9,690.2 69.7,690.0 70.5,689.9 71.3,689.8 72.1,689.7 72.9,689.6 73.7,689.5 74.5,689.4 75.3,689.3 76.1,689.2 76.9,689.0 77.7,688.9 78.5,688.8 79.3,688.7 80.1,688.6 80.9,688.5 81.7,688.4 82.5,688.3 83.3,688.2 84.1,688.1 84.9,688.0 85.7,687.9 86.5,687.8 87.3,687.7 88.1,687.6 88.9,687.5 89.7,687.4 90.5,687.3 91.4,687.2 92.2,687.1 93.0,687.0 93.8,687.0 94.6,686.9 95.4,686.8 96.2,686.7 97.0,686.6 97.8,686.5 98.6,686.4 99.4,686.3 100.2,686.2 101.0,686.1 101.8,686.0 102.6,685.9 103.4,685.9 104.2,685.8 105.0,685.7 105.8,685.6 106.6,685.5 107.4,685.4 108.2,685.3 109.0,685.2 109.8,685.1 110.6,685.1 111.4,685.0 112.2,684.9 113.0,684.8 113.8,684.7 114.6,684.6 115.4,684.5 116.2,684.4 117.0,684.3 117.8,684.3 118.6,684.2 119.4,684.1 120.2,684.0 121.1,683.9 121.9,683.8 122.7,683.7 123.5,683.6 124.3,683.5 125.1,683.5 125.9,683.4 126.7,683.3 127.5,683.2 128.3,683.1 129.1,683.0 129.9,682.9 130.7,682.7 131.5,682.6 132.3,682.5 133.1,682.3 133.9,682.2 134.7,682.0 135.5,681.8 136.3,681.6 137.1,681.4 137.9,681.2 138.7,680.9 139.5,680.6 140.3,680.3 141.1,680.0 141.9,679.7 142.7,679.3 143.5,678.9 144.3,678.5 145.1,678.0 145.9,677.5 146.7,677.0 147.5,676.5 148.3,675.9 149.1,675.3 149.9,674.6 150.7,673.9 151.6,673.2 152.4,672.5 153.2,671.7 154.0,670.8 154.8,670.0 155.6,669.0 156.4,668.1 157.2,667.1 158.0,666.1 158.8,665.0 159.6,663.9 160.4,662.8 161.2,661.6 162.0,660.4 162.8,659.1 163.6,657.8 164.4,656.5 165.2,655.1 166.0,653.6 166.8,652.2 167.6,650.6 168.4,649.1 169.2,647.4 170.0,645.8 170.8,644.1 171.6,642.3 172.4,640.5 173.2,638.7 174.0,636.8 174.8,634.8 175.6,632.8 176.4,630.8 177.2,628.7 178.0,626.5 178.8,624.3 179.6,622.0 180.4,619.7 181.2,617.4 182.1,615.0 182.9,612.5 183.7,610.0 184.5,607.4 185.3,604.8 186.1,602.1 186.9,599.3 187.7,596.5 188.5,593.7 189.3,590.7 190.1,587.7 190.9,584.7 191.7,581.5 192.5,578.3 193.3,575.0 194.1,571.6 194.9,568.2 195.7,564.6 196.5,561.0 198.5,585.0 197.7,587.1 196.9,589.3 196.1,591.6 195.3,594.0 194.5,596.5 193.7,599.0 192.9,601.6 192.1,604.3 191.3,607.0 190.5,609.7 189.7,612.5 188.9,615.2 188.1,618.0 187.3,620.7 186.5,623.4 185.7,626.1 184.9,628.7 184.1,631.3 183.3,633.8 182.5,636.3 181.7,638.7 180.9,641.0 180.1,643.3 179.3,645.5 178.5,647.6 177.7,649.7 176.9,651.7 176.1,653.7 175.3,655.6 174.5,657.5 173.7,659.3 172.9,661.0 172.1,662.7 171.3,664.4 170.5,666.0 169.7,667.5 168.9,669.0 168.1,670.4 167.3,671.8 166.5,673.1 165.7,674.4 164.9,675.6 164.1,676.8 163.3,677.9 162.5,679.0 161.7,680.1 160.9,681.1 160.1,682.0 159.3,682.9 158.5,683.8 157.7,684.6 156.9,685.4 156.1,686.2 155.3,686.9 154.5,687.6 153.7,688.2 152.9,688.8 152.1,689.4 151.3,689.9 150.5,690.4 149.7,690.9 148.9,691.3 148.1,691.8 147.3,692.2 146.5,692.5 145.7,692.9 144.9,693.2 144.1,693.5 143.3,693.8 142.5,694.1 141.7,694.3 140.9,694.6 140.1,694.8 139.3,695.0 138.5,695.2 137.7,695.4 136.9,695.6 136.1,695.8 135.3,696.0 134.5,696.1 133.7,696.3 132.9,696.5 132.1,696.6 131.3,696.8 130.5,696.9 129.7,697.1 128.9,697.2 128.1,697.4 127.3,697.5 126.5,697.7 125.7,697.8 124.9,698.0 124.1,698.2 123.3,698.4 122.5,698.6 121.6,698.8 120.8,698.9 120.0,699.2 119.2,699.4 118.4,699.6 117.6,699.8 116.8,700.0 116.0,700.2 115.2,700.4 114.4,700.6 113.6,700.9 112.8,701.1 112.0,701.3 111.2,701.5 110.4,701.7 109.6,701.9 108.8,702.1 108.0,702.3 107.2,702.5 106.4,702.7 105.6,702.9 104.8,703.1 104.0,703.3 103.2,703.4 102.4,703.6 101.6,703.8 100.8,703.9 100.0,704.1 99.2,704.2 98.4,704.4 97.6,704.5 96.8,704.6 96.0,704.8 95.2,704.9 94.4,705.0 93.6,705.1 92.8,705.2 92.0,705.4 91.2,705.5 90.4,705.6 89.6,705.7 88.8,705.8 88.0,705.9 87.2,706.0 86.4,706.1 85.6,706.2 84.8,706.3 84.0,706.4 83.2,706.5 82.4,706.6 81.6,706.7 80.8,706.8 80.0,706.9 79.2,707.0 78.4,707.1 77.6,707.2 76.8,707.3 76.0,707.4 75.2,707.5 74.4,707.6 73.6,707.7 72.8,707.8 72.0,707.9 71.2,708.0 70.4,708.2 69.6,708.3 68.8,708.4 68.0,708.6 67.2,708.7 66.4,708.9 65.6,709.0 64.8,709.2 64.0,709.3 63.2,709.5 62.4,709.7 61.6,709.8 60.8,710.0 60.0,710.2 59.2,710.4 58.4,710.6 57.6,710.8 56.8,711.0 56.0,711.3 55.2,711.6 54.4,711.9 53.6,712.2 52.8,712.6 52.0,713.1 51.2,713.6 50.4,714.2 49.6,714.8 48.8,715.5 48.0,716.3 47.2,717.2 46.4,718.2 45.6,719.3" fill="#e7e7e7"/>
<polygon points="46.2,719.3 46.9,719.8 47.6,720.2 48.2,720.6 48.9,721.1 49.6,721.5 50.3,721.9 51.0,722.3 51.7,722.7 52.4,723.2 53.1,723.6 53.9,724.0 54.6,724.4 55.3,724.7 56.1,725.1 56.8,725.5 57.6,725.9 58.4,726.2 59.1,726.3 59.9,726.5 60.7,726.6 61.4,726.8 62.2,726.9 63.0,727.1 63.8,727.2 64.5,727.3 65.3,727.5 66.1,727.6 66.9,727.7 67.7,727.8 68.5,728.0 69.3,728.1 70.1,728.2 70.9,728.3 71.7,728.4 72.5,728.5 73.4,728.6 74.2,728.7 75.0,728.8 75.8,728.9 76.6,729.0 77.5,729.1 78.3,729.2 79.1,729.3 79.9,729.4 80.8,729.5 81.6,729.6 82.4,729.6 83.2,729.5 84.0,729.5 84.9,729.4 85.7,729.4 86.5,729.4 87.3,729.3 88.1,729.3 88.9,729.3 89.8,729.2 90.6,729.2 91.4,729.2 92.2,729.1 93.1,729.1 93.9,729.1 94.7,729.0 95.5,729.0 96.4,729.0 97.2,728.9 98.0,728.9 98.8,728.9 99.7,728.9 100.5,728.9 101.3,728.8 102.1,728.8 103.0,728.8 103.8,728.8 104.6,728.8 105.4,728.7 106.3,728.6 107.1,728.5 107.9,728.5 108.7,728.4 109.5,728.4 110.3,728.3 111.1,728.2 112.0,728.2 112.8,728.1 113.6,728.1 114.4,728.0 115.2,727.9 116.0,727.9 116.8,727.8 117.6,727.8 118.4,727.7 119.2,727.7 120.0,727.6 120.8,727.5 121.6,727.5 122.4,727.4 123.1,727.3 123.9,727.3 124.7,727.2 125.5,727.1 126.3,727.0 127.1,726.9 127.8,726.7 128.6,726.6 129.4,726.5 130.2,726.4 130.9,726.2 131.7,726.1 132.5,725.9 133.2,725.8 134.0,725.6 134.8,725.5 135.5,725.3 136.3,725.1 137.0,724.9 137.8,724.8 138.6,724.6 139.3,724.3 140.1,724.1 140.8,723.9 141.6,723.7 142.3,723.4 143.1,723.2 143.8,722.9 144.6,722.7 145.3,722.4 146.1,722.1 146.8,721.8 147.5,721.5 148.3,721.2 149.0,720.8 149.8,720.5 150.5,720.1 151.2,719.8 152.0,719.4 152.7,719.0 153.4,718.6 154.2,718.2 154.9,717.7 155.6,717.3 156.3,716.8 157.1,716.4 157.8,715.9 158.5,715.3 159.2,714.8 159.9,714.2 160.6,713.7 161.3,713.0 162.0,712.4 162.7,711.7 163.5,711.1 164.2,710.3 164.9,709.6 165.7,708.8 166.4,707.9 167.1,707.0 167.9,706.1 168.6,705.2 169.3,704.1 170.1,703.1 170.8,702.0 171.6,700.8 172.4,699.6 173.1,698.4 173.9,697.0 174.6,695.7 175.4,694.2 176.2,692.7 176.9,691.2 177.7,689.6 178.5,687.9 179.2,686.1 180.0,684.2 180.8,682.3 181.6,680.2 182.3,678.1 183.1,675.8 183.9,673.4 184.7,670.9 185.5,668.3 186.3,665.5 187.1,662.6 187.8,659.6 188.6,656.4 189.4,653.1 190.2,649.5 198.0,651.3 197.2,654.9 196.4,658.3 195.6,661.6 194.8,664.7 194.0,667.7 193.2,670.5 192.3,673.3 191.5,675.9 190.7,678.4 189.9,680.7 189.1,683.0 188.3,685.2 187.4,687.3 186.6,689.2 185.8,691.1 185.0,692.9 184.1,694.7 183.3,696.3 182.5,697.9 181.7,699.5 180.8,701.0 180.0,702.4 179.2,703.8 178.3,705.1 177.5,706.4 176.7,707.6 175.8,708.8 175.0,710.0 174.2,711.1 173.3,712.1 172.5,713.1 171.6,714.1 170.8,715.0 169.9,715.9 169.1,716.8 168.2,717.6 167.4,718.4 166.5,719.1 165.7,719.8 164.8,720.5 163.9,721.2 163.1,721.8 162.2,722.4 161.4,723.0 160.5,723.5 159.7,724.0 158.8,724.5 158.0,725.0 157.1,725.5 156.3,725.9 155.4,726.3 154.6,726.8 153.8,727.2 152.9,727.5 152.1,727.9 151.2,728.3 150.4,728.6 149.6,728.9 148.7,729.3 147.9,729.6 147.0,729.9 146.2,730.1 145.4,730.4 144.5,730.7 143.7,730.9 142.9,731.2 142.0,731.4 141.2,731.6 140.4,731.8 139.5,732.0 138.7,732.2 137.9,732.4 137.0,732.6 136.2,732.7 135.4,732.9 134.5,733.1 133.7,733.2 132.9,733.3 132.1,733.5 131.2,733.6 130.4,733.7 129.6,733.8 128.8,733.9 128.0,734.0 127.1,734.1 126.3,734.2 125.5,734.3 124.7,734.4 123.9,734.5 123.1,734.6 122.2,734.7 121.4,734.7 120.6,734.8 119.8,734.9 119.0,734.9 118.2,735.0 117.4,735.1 116.6,735.1 115.8,735.2 115.0,735.3 114.2,735.3 113.4,735.4 112.6,735.5 111.8,735.5 111.0,735.6 110.2,735.7 109.4,735.7 108.6,735.8 107.8,735.9 107.0,736.0 106.2,736.0 105.4,736.1 104.6,736.2 103.8,736.3 103.0,736.4 102.2,736.5 101.4,736.6 100.6,736.7 99.8,736.8 99.0,736.9 98.2,737.0 97.4,737.1 96.6,737.2 95.8,737.3 95.0,737.4 94.2,737.5 93.4,737.6 92.6,737.8 91.8,737.9 91.0,738.0 90.2,738.1 89.4,738.2 88.6,738.3 87.8,738.5 87.0,738.6 86.2,738.7 85.4,738.8 84.6,738.9 83.8,739.1 83.0,739.2 82.2,739.3 81.4,739.4 80.6,739.5 79.8,739.7 79.0,739.8 78.2,739.9 77.4,740.0 76.6,740.1 75.7,740.2 74.9,740.3 74.1,740.4 73.3,740.6 72.5,740.7 71.7,740.8 70.9,740.9 70.1,741.0 69.3,741.1 68.4,741.1 67.6,741.2 66.8,741.3 66.0,741.4 65.2,741.5 64.4,741.6 63.6,741.7 62.7,741.7 61.9,741.8 61.1,741.9 60.3,741.9 59.5,742.0 58.7,742.0 57.8,742.1 57.0,742.1 56.2,742.2 55.4,742.2 54.6,742.3 53.7,742.3 52.9,742.3 52.1,742.3 51.3,742.3 50.4,742.4 49.6,742.4 48.8,742.4 48.0,742.4 47.2,742.3 46.3,742.3 45.5,742.3" fill="#e7e7e7"/>
<polygon points="45.8,738.2 46.6,738.2 47.4,738.3 48.2,738.3 49.0,738.4 49.8,738.4 50.6,738.5 51.4,738.5 52.2,738.6 53.0,738.6 53.8,738.7 54.6,738.7 55.4,738.8 56.2,738.8 57.0,738.9 57.8,738.9 58.6,739.0 59.4,739.0 60.2,739.1 61.0,739.1 61.9,739.2 62.7,739.2 63.5,739.3 64.3,739.3 65.1,739.4 65.9,739.4 66.7,739.5 67.5,739.5 68.3,739.6 69.1,739.6 69.9,739.7 70.7,739.7 71.5,739.8 72.3,739.8 73.1,739.9 73.9,739.9 74.7,740.0 75.5,740.0 76.3,740.1 77.1,740.1 77.9,740.2 78.7,740.3 79.5,740.3 80.3,740.4 81.1,740.4 81.9,740.5 82.7,740.5 83.5,740.6 84.3,740.6 85.2,740.7 86.0,740.7 86.8,740.8 87.6,740.8 88.4,740.9 89.2,740.9 90.0,741.0 90.8,741.0 91.6,741.1 92.4,741.1 93.2,741.2 94.0,741.2 94.8,741.3 95.6,741.4 96.4,741.4 97.2,741.5 98.0,741.5 98.8,741.6 99.6,741.6 100.4,741.7 101.2,741.7 102.0,741.7 102.8,741.8 103.6,741.8 104.4,741.9 105.2,741.9 106.0,742.0 106.8,742.0 107.6,742.1 108.4,742.1 109.2,742.2 110.0,742.2 110.8,742.3 111.6,742.3 112.4,742.4 113.2,742.4 114.0,742.4 114.8,742.5 115.6,742.5 116.4,742.6 117.2,742.6 118.0,742.7 118.8,742.7 119.6,742.7 120.4,742.8 121.2,742.8 122.0,742.8 122.8,742.9 123.6,742.9 124.4,743.0 125.3,743.0 126.0,743.0 126.8,743.1 127.6,743.1 128.4,743.1 129.2,743.2 130.0,743.2 130.8,743.2 131.6,743.2 132.4,743.2 133.1,743.2 133.9,743.2 134.7,743.2 135.4,743.2 136.2,743.1 137.0,743.1 137.7,743.0 138.5,743.0 139.3,742.9 140.0,742.8 140.8,742.7 141.5,742.6 142.3,742.5 143.0,742.4 143.8,742.2 144.5,742.0 145.3,741.8 146.0,741.7 146.7,741.4 147.5,741.2 148.2,741.0 149.0,740.7 149.7,740.4 150.4,740.1 151.2,739.7 151.9,739.4 152.6,739.0 153.4,738.6 154.1,738.2 154.9,737.8 155.6,737.3 156.3,736.8 157.1,736.3 157.8,735.7 158.6,735.1 159.3,734.5 160.1,733.9 160.8,733.2 161.6,732.4 162.3,731.7 163.1,730.9 163.8,730.0 164.6,729.2 165.4,728.2 166.1,727.3 166.9,726.3 167.7,725.2 168.4,724.1 169.2,723.0 170.0,721.7 170.7,720.5 171.5,719.2 172.3,717.8 173.1,716.4 173.9,714.9 174.6,713.4 175.4,711.8 176.2,710.2 177.0,708.5 177.8,706.7 178.6,704.9 179.4,703.0 180.2,701.1 180.9,699.0 181.7,696.9 182.5,694.8 183.3,692.6 184.1,690.3 184.9,687.9 185.7,685.5 186.5,683.0 187.3,680.4 188.1,677.7 188.9,675.0 189.7,672.2 190.5,669.3 191.3,666.3 192.1,663.3 192.9,660.1 193.7,656.9 200.0,658.5 199.2,661.7 198.4,664.9 197.6,668.0 196.8,671.0 195.9,673.9 195.1,676.8 194.3,679.6 193.5,682.3 192.7,684.9 191.9,687.5 191.0,689.9 190.2,692.4 189.4,694.7 188.6,697.0 187.8,699.2 187.0,701.3 186.1,703.4 185.3,705.5 184.5,707.4 183.7,709.3 182.8,711.1 182.0,712.9 181.2,714.6 180.4,716.3 179.5,717.9 178.7,719.5 177.9,721.0 177.0,722.4 176.2,723.8 175.4,725.2 174.5,726.4 173.7,727.7 172.8,728.9 172.0,730.1 171.1,731.2 170.3,732.2 169.4,733.3 168.6,734.2 167.7,735.2 166.9,736.1 166.0,737.0 165.1,737.8 164.3,738.6 163.4,739.3 162.5,740.0 161.7,740.7 160.8,741.4 159.9,742.0 159.0,742.6 158.2,743.1 157.3,743.6 156.4,744.1 155.5,744.6 154.7,745.0 153.8,745.4 152.9,745.8 152.0,746.2 151.2,746.5 150.3,746.8 149.4,747.1 148.5,747.4 147.7,747.7 146.8,747.9 145.9,748.1 145.1,748.3 144.2,748.5 143.3,748.6 142.5,748.8 141.6,748.9 140.8,749.0 139.9,749.1 139.1,749.2 138.2,749.2 137.4,749.3 136.5,749.3 135.7,749.3 134.8,749.4 134.0,749.4 133.2,749.4 132.3,749.4 131.5,749.4 130.7,749.4 129.9,749.3 129.0,749.3 128.2,749.3 127.4,749.2 126.6,749.2 125.8,749.2 125.0,749.1 124.2,749.1 123.4,749.0 122.6,749.0 121.8,749.0 120.9,748.9 120.1,748.9 119.3,748.8 118.5,748.8 117.7,748.7 116.9,748.7 116.1,748.6 115.3,748.6 114.5,748.6 113.7,748.5 112.9,748.5 112.1,748.4 111.3,748.4 110.5,748.3 109.7,748.3 108.9,748.2 108.1,748.2 107.3,748.1 106.5,748.1 105.7,748.0 104.9,748.0 104.1,747.9 103.2,747.9 102.4,747.8 101.6,747.7 100.8,747.7 100.0,747.6 99.2,747.6 98.4,747.6 97.6,747.5 96.8,747.5 96.0,747.5 95.2,747.4 94.4,747.4 93.6,747.3 92.8,747.3 92.0,747.3 91.2,747.2 90.4,747.2 89.6,747.2 88.8,747.1 88.0,747.1 87.2,747.1 86.4,747.0 85.5,747.0 84.7,746.9 83.9,746.9 83.1,746.9 82.3,746.8 81.5,746.8 80.7,746.7 79.9,746.7 79.1,746.7 78.3,746.6 77.5,746.6 76.7,746.6 75.9,746.5 75.1,746.5 74.3,746.4 73.5,746.4 72.7,746.4 71.9,746.3 71.1,746.3 70.3,746.2 69.5,746.2 68.7,746.2 67.9,746.1 67.1,746.1 66.3,746.1 65.4,746.0 64.6,746.0 63.8,746.0 63.0,745.9 62.2,745.9 61.4,745.8 60.6,745.8 59.8,745.8 59.0,745.7 58.2,745.7 57.4,745.7 56.6,745.6 55.8,745.6 55.0,745.6 54.2,745.5 53.4,745.5 52.6,745.5 51.8,745.4 51.0,745.4 50.2,745.4 49.4,745.3 48.6,745.3 47.8,745.3 47.0,745.2 46.2,745.2 45.4,745.2" fill="#e7e7e7"/>
<polygon points="46.1,750.2 46.9,750.3 47.7,750.4 48.5,750.5 49.3,750.6 50.1,750.7 50.9,750.8 51.7,750.9 52.5,751.0 53.3,751.1 54.1,751.2 54.9,751.3 55.7,751.4 56.5,751.5 57.3,751.6 58.1,751.7 58.9,751.8 59.7,751.9 60.5,752.0 61.3,752.1 62.1,752.2 62.8,752.3 63.6,752.4 64.4,752.5 65.2,752.6 66.0,752.7 66.8,752.8 67.6,752.8 68.4,752.9 69.2,753.0 70.0,753.1 70.8,753.2 71.6,753.3 72.4,753.4 73.2,753.4 74.0,753.5 74.8,753.6 75.6,753.7 76.4,753.8 77.2,753.8 78.0,753.9 78.8,754.0 79.5,754.1 80.3,754.1 81.1,754.2 81.9,754.3 82.7,754.3 83.5,754.4 84.3,754.5 85.1,754.5 85.9,754.6 86.7,754.7 87.5,754.7 88.3,754.8 89.1,754.8 89.9,754.9 90.7,754.9 91.5,755.0 92.2,755.0 93.0,755.1 93.8,755.1 94.6,755.2 95.4,755.2 96.2,755.3 97.0,755.3 97.8,755.3 98.6,755.4 99.4,755.4 100.2,755.4 101.0,755.4 101.8,755.4 102.6,755.4 103.4,755.4 104.1,755.4 104.9,755.3 105.7,755.3 106.5,755.3 107.3,755.3 108.1,755.3 108.9,755.2 109.7,755.2 110.5,755.2 111.3,755.1 112.1,755.1 112.8,755.0 113.6,755.0 114.4,754.9 115.2,754.9 116.0,754.8 116.8,754.8 117.6,754.7 118.3,754.6 119.1,754.5 119.9,754.5 120.7,754.4 121.5,754.3 122.3,754.2 123.0,754.1 123.8,754.0 124.6,753.9 125.4,753.8 126.2,753.6 126.9,753.5 127.7,753.4 128.5,753.2 129.3,753.1 130.0,752.9 130.8,752.8 131.6,752.6 132.4,752.4 133.2,752.3 133.9,752.1 134.7,751.9 135.5,751.7 136.3,751.5 137.0,751.3 137.8,751.1 138.6,750.8 139.4,750.6 140.1,750.4 140.9,750.1 141.7,749.9 142.4,749.6 143.2,749.3 144.0,749.0 144.8,748.7 145.5,748.4 146.3,748.1 147.1,747.8 147.9,747.5 148.6,747.1 149.4,746.8 150.2,746.4 150.9,746.0 151.7,745.7 152.5,745.3 153.2,744.9 154.0,744.4 154.8,744.0 155.5,743.6 156.3,743.1 157.1,742.7 157.8,742.2 158.6,741.7 159.4,741.2 160.1,740.7 160.9,740.2 161.7,739.7 162.5,739.2 163.2,738.6 164.0,738.1 164.8,737.5 165.5,736.9 166.3,736.3 167.1,735.7 167.8,735.0 168.6,734.4 169.4,733.7 170.1,733.0 170.9,732.4 171.7,731.6 172.4,730.9 173.2,730.2 174.0,729.4 174.8,728.7 175.5,727.9 176.3,727.1 177.1,726.3 177.8,725.4 178.6,724.6 179.4,723.7 180.2,722.8 180.9,721.9 181.7,721.0 182.5,720.1 183.2,719.1 184.0,718.1 184.7,717.0 185.5,716.0 186.2,714.8 187.0,713.7 187.8,712.4 188.5,711.1 189.3,709.7 190.0,708.3 190.8,706.8 191.6,705.2 192.3,703.5 193.1,701.7 200.1,704.7 199.3,706.6 198.4,708.4 197.6,710.1 196.7,711.8 195.9,713.4 195.0,714.9 194.2,716.3 193.3,717.6 192.5,718.9 191.6,720.2 190.8,721.4 189.9,722.5 189.1,723.6 188.2,724.7 187.4,725.7 186.5,726.7 185.7,727.6 184.8,728.6 184.0,729.5 183.2,730.4 182.3,731.2 181.5,732.1 180.7,732.9 179.8,733.8 179.0,734.6 178.2,735.4 177.3,736.1 176.5,736.9 175.6,737.7 174.8,738.4 174.0,739.1 173.1,739.8 172.3,740.5 171.5,741.1 170.6,741.8 169.8,742.4 168.9,743.0 168.1,743.7 167.3,744.3 166.4,744.8 165.6,745.4 164.7,746.0 163.9,746.5 163.1,747.0 162.2,747.5 161.4,748.0 160.5,748.5 159.7,749.0 158.9,749.5 158.0,749.9 157.2,750.4 156.3,750.8 155.5,751.2 154.7,751.6 153.8,752.0 153.0,752.4 152.2,752.8 151.3,753.2 150.5,753.5 149.7,753.9 148.8,754.2 148.0,754.6 147.2,754.9 146.3,755.2 145.5,755.5 144.7,755.8 143.8,756.1 143.0,756.4 142.2,756.7 141.3,756.9 140.5,757.2 139.7,757.4 138.8,757.7 138.0,757.9 137.2,758.1 136.3,758.3 135.5,758.6 134.7,758.8 133.9,758.9 133.0,759.1 132.2,759.3 131.4,759.5 130.5,759.6 129.7,759.8 128.9,760.0 128.1,760.1 127.2,760.2 126.4,760.4 125.6,760.5 124.8,760.6 123.9,760.7 123.1,760.8 122.3,760.9 121.5,761.0 120.6,761.1 119.8,761.2 119.0,761.3 118.2,761.4 117.4,761.5 116.5,761.5 115.7,761.6 114.9,761.7 114.1,761.7 113.3,761.8 112.5,761.8 111.6,761.9 110.8,761.9 110.0,762.0 109.2,762.0 108.4,762.0 107.6,762.1 106.7,762.1 105.9,762.1 105.1,762.1 104.3,762.1 103.5,762.2 102.7,762.2 101.9,762.2 101.1,762.2 100.2,762.2 99.4,762.2 98.6,762.3 97.8,762.3 97.0,762.3 96.2,762.3 95.4,762.4 94.6,762.4 93.8,762.4 92.9,762.4 92.1,762.4 91.3,762.5 90.5,762.5 89.7,762.5 88.9,762.5 88.1,762.5 87.3,762.5 86.4,762.5 85.6,762.5 84.8,762.5 84.0,762.5 83.2,762.5 82.4,762.5 81.6,762.5 80.8,762.5 80.0,762.4 79.1,762.4 78.3,762.4 77.5,762.4 76.7,762.4 75.9,762.4 75.1,762.4 74.3,762.3 73.5,762.3 72.7,762.3 71.9,762.3 71.0,762.2 70.2,762.2 69.4,762.2 68.6,762.2 67.8,762.1 67.0,762.1 66.2,762.1 65.4,762.1 64.6,762.0 63.8,762.0 63.0,762.0 62.1,761.9 61.3,761.9 60.5,761.9 59.7,761.8 58.9,761.8 58.1,761.8 57.3,761.7 56.5,761.7 55.7,761.7 54.9,761.6 54.1,761.6 53.3,761.5 52.5,761.5 51.6,761.5 50.8,761.4 50.0,761.4 49.2,761.4 48.4,761.3 47.6,761.3 46.8,761.2 46.0,761.2 45.2,761.2" fill="#e7e7e7"/>
<polygon points="45.6,741.2 46.4,741.2 47.2,741.1 48.0,741.1 48.8,741.1 49.6,741.1 50.4,741.1 51.2,741.1 52.0,741.1 52.8,741.2 53.6,741.2 54.4,741.3 55.2,741.3 56.0,741.4 56.8,741.5 57.6,741.5 58.4,741.6 59.2,741.7 60.0,741.8 60.8,741.9 61.6,742.0 62.4,742.2 63.2,742.3 64.0,742.4 64.8,742.6 65.6,742.7 66.4,742.9 67.2,743.0 68.0,743.2 68.8,743.4 69.6,743.6 70.4,743.7 71.2,743.9 72.0,744.1 72.8,744.3 73.6,744.5 74.4,744.7 75.2,744.9 76.0,745.1 76.8,745.3 77.6,745.5 78.4,745.7 79.2,745.9 80.0,746.2 80.8,746.4 81.6,746.6 82.4,746.8 83.2,747.1 84.0,747.3 84.8,747.5 85.6,747.7 86.4,748.0 87.2,748.2 88.0,748.4 88.8,748.7 89.6,748.9 90.4,749.1 91.2,749.4 92.0,749.6 92.8,749.8 93.6,750.0 94.4,750.3 95.2,750.5 96.0,750.7 96.8,750.9 97.6,751.1 98.4,751.4 99.2,751.6 100.0,751.8 100.8,752.0 101.6,752.2 102.4,752.4 103.2,752.6 104.0,752.8 104.8,753.0 105.6,753.2 106.4,753.4 107.2,753.5 108.0,753.7 108.8,753.9 109.6,754.0 110.4,754.2 111.2,754.4 112.0,754.5 112.0,761.5 111.2,761.5 110.4,761.5 109.6,761.6 108.8,761.6 108.0,761.6 107.2,761.6 106.4,761.6 105.6,761.6 104.8,761.7 104.0,761.7 103.2,761.7 102.4,761.7 101.6,761.7 100.8,761.7 100.0,761.8 99.2,761.8 98.4,761.8 97.6,761.8 96.8,761.8 96.0,761.8 95.2,761.8 94.4,761.9 93.6,761.9 92.8,761.9 92.0,761.9 91.2,761.9 90.4,761.9 89.6,761.9 88.8,762.0 88.0,762.0 87.2,762.0 86.4,762.0 85.6,762.0 84.8,762.0 84.0,762.0 83.2,762.0 82.4,762.0 81.6,762.0 80.8,762.1 80.0,762.1 79.2,762.1 78.4,762.1 77.6,762.1 76.8,762.1 76.0,762.1 75.2,762.1 74.4,762.1 73.6,762.1 72.8,762.1 72.0,762.1 71.2,762.1 70.4,762.1 69.6,762.1 68.8,762.1 68.0,762.1 67.2,762.1 66.4,762.1 65.6,762.1 64.8,762.0 64.0,762.0 63.2,762.0 62.4,762.0 61.6,762.0 60.8,762.0 60.0,762.0 59.2,762.0 58.4,761.9 57.6,761.9 56.8,761.9 56.0,761.9 55.2,761.9 54.4,761.8 53.6,761.8 52.8,761.8 52.0,761.8 51.2,761.7 50.4,761.7 49.6,761.7 48.8,761.6 48.0,761.6 47.2,761.6 46.4,761.5 45.6,761.5" fill="#e7e7e7"/>
<polyline points="45.6,756.2 46.4,756.3 47.2,756.3 48.0,756.4 48.8,756.5 49.6,756.5 50.4,756.6 51.2,756.7 52.0,756.7 52.8,756.8 53.6,756.8 54.4,756.9 55.2,757.0 56.0,757.0 56.8,757.1 57.6,757.2 58.5,757.2 59.3,757.3 60.1,757.3 60.9,757.4 61.7,757.5 62.5,757.5 63.3,757.6 64.1,757.6 64.9,757.7 65.7,757.7 66.5,757.8 67.3,757.9 68.1,757.9 68.9,758.0 69.7,758.0 70.5,758.1 71.3,758.1 72.1,758.2 72.9,758.2 73.7,758.3 74.5,758.3 75.3,758.4 76.1,758.4 76.9,758.4 77.7,758.5 78.5,758.5 79.3,758.6 80.1,758.6 80.9,758.6 81.7,758.7 82.5,758.7 83.3,758.7 84.2,758.8 85.0,758.8 85.8,758.8 86.6,758.9 87.4,758.9 88.2,758.9 89.0,758.9 89.8,758.9 90.6,759.0 91.4,759.0 92.2,759.0 93.0,759.0 93.8,759.0 94.6,759.0 95.4,759.0 96.2,759.0 97.0,759.0 97.8,759.0 98.6,759.0 99.4,759.0 100.2,759.0 101.0,759.0 101.8,759.0 102.6,759.0 103.4,759.0 104.2,758.9 105.0,758.9 105.8,758.9 106.6,758.9 107.4,758.9 108.2,758.8 109.1,758.8 109.9,758.8 110.7,758.7 111.5,758.7 112.3,758.6 113.1,758.6 113.9,758.5 114.7,758.5 115.5,758.4 116.3,758.3 117.1,758.3 117.9,758.2 118.7,758.1 119.5,758.0 120.3,758.0 121.1,757.9 121.9,757.8 122.7,757.7 123.5,757.6 124.3,757.4 125.1,757.3 125.9,757.2 126.7,757.1 127.5,756.9 128.3,756.8 129.1,756.7 129.9,756.5 130.7,756.3 131.5,756.2 132.3,756.0 133.1,755.8 134.0,755.6 134.8,755.4 135.6,755.2 136.4,755.0 137.2,754.8 138.0,754.6 138.8,754.4 139.6,754.1 140.4,753.9 141.2,753.6 142.0,753.4 142.8,753.1 143.6,752.8 144.4,752.5 145.2,752.2 146.0,751.9 146.8,751.6 147.6,751.3 148.4,750.9 149.2,750.6 150.0,750.2 150.8,749.9 151.6,749.5 152.4,749.1 153.2,748.7 154.0,748.3 154.8,747.9 155.6,747.5 156.4,747.1 157.2,746.6 158.0,746.1 158.8,745.7 159.7,745.2 160.5,744.7 161.3,744.2 162.1,743.7 162.9,743.2 163.7,742.6 164.5,742.1 165.3,741.5 166.1,740.9 166.9,740.3 167.7,739.7 168.5,739.1 169.3,738.4 170.1,737.8 170.9,737.1 171.7,736.4 172.5,735.7 173.3,735.0 174.1,734.3 174.9,733.6 175.7,732.8 176.5,732.0 177.3,731.3 178.1,730.4 178.9,729.6 179.7,728.8 180.5,727.9 181.3,727.1 182.1,726.2 182.9,725.3 183.7,724.3 184.6,723.4 185.4,722.4 186.2,721.4 187.0,720.3 187.8,719.2 188.6,718.1 189.4,716.9 190.2,715.7 191.0,714.4 191.8,713.0 192.6,711.6 193.4,710.0 194.2,708.5 195.0,706.8 195.8,705.1 196.6,703.2" fill="none" stroke="#00968a" stroke-width="2.2" stroke-dasharray="11.2 4.6" stroke-linejoin="round"/>
<polyline points="45.6,739.3 46.4,739.3 47.2,739.3 48.0,739.4 48.8,739.4 49.6,739.4 50.4,739.4 51.2,739.3 52.0,739.3 52.8,739.3 53.6,739.3 54.4,739.3 55.2,739.2 56.0,739.2 56.9,739.1 57.7,739.1 58.5,739.0 59.3,739.0 60.1,738.9 60.9,738.9 61.7,738.8 62.5,738.7 63.3,738.7 64.1,738.6 64.9,738.5 65.7,738.4 66.5,738.3 67.3,738.3 68.1,738.2 68.9,738.1 69.7,738.0 70.5,737.9 71.3,737.8 72.1,737.7 72.9,737.6 73.7,737.5 74.5,737.4 75.3,737.3 76.1,737.1 76.9,737.0 77.8,736.9 78.6,736.8 79.4,736.7 80.2,736.6 81.0,736.5 81.8,736.3 82.6,736.2 83.4,736.1 84.2,736.0 85.0,735.9 85.8,735.7 86.6,735.6 87.4,735.5 88.2,735.4 89.0,735.3 89.8,735.1 90.6,735.0 91.4,734.9 92.2,734.8 93.0,734.7 93.8,734.6 94.6,734.4 95.4,734.3 96.2,734.2 97.0,734.1 97.8,734.0 98.6,733.9 99.5,733.8 100.3,733.7 101.1,733.6 101.9,733.5 102.7,733.4 103.5,733.3 104.3,733.2 105.1,733.1 105.9,733.1 106.7,733.0 107.5,732.9 108.3,732.8 109.1,732.8 109.9,732.7 110.7,732.6 111.5,732.5 112.3,732.5 113.1,732.4 113.9,732.4 114.7,732.3 115.5,732.2 116.3,732.2 117.1,732.1 117.9,732.0 118.7,732.0 119.5,731.9 120.3,731.8 121.2,731.7 122.0,731.7 122.8,731.6 123.6,731.5 124.4,731.4 125.2,731.4 126.0,731.3 126.8,731.2 127.6,731.1 128.4,731.0 129.2,730.9 130.0,730.8 130.8,730.6 131.6,730.5 132.4,730.4 133.2,730.2 134.0,730.1 134.8,730.0 135.6,729.8 136.4,729.6 137.2,729.5 138.0,729.3 138.8,729.1 139.6,728.9 140.4,728.7 141.2,728.5 142.1,728.3 142.9,728.1 143.7,727.8 144.5,727.6 145.3,727.3 146.1,727.0 146.9,726.7 147.7,726.4 148.5,726.1 149.3,725.8 150.1,725.5 150.9,725.2 151.7,724.8 152.5,724.4 153.3,724.1 154.1,723.7 154.9,723.3 155.7,722.8 156.5,722.4 157.3,721.9 158.1,721.5 158.9,721.0 159.7,720.5 160.5,719.9 161.3,719.4 162.1,718.8 162.9,718.1 163.8,717.5 164.6,716.8 165.4,716.1 166.2,715.4 167.0,714.6 167.8,713.8 168.6,713.0 169.4,712.1 170.2,711.2 171.0,710.2 171.8,709.2 172.6,708.2 173.4,707.1 174.2,705.9 175.0,704.7 175.8,703.5 176.6,702.2 177.4,700.9 178.2,699.5 179.0,698.1 179.8,696.6 180.6,695.0 181.4,693.4 182.2,691.7 183.0,689.9 183.8,688.1 184.7,686.1 185.5,684.1 186.3,682.0 187.1,679.7 187.9,677.4 188.7,675.0 189.5,672.4 190.3,669.7 191.1,666.9 191.9,663.9 192.7,660.8 193.5,657.6 194.3,654.2 195.1,650.6" fill="none" stroke="#00835c" stroke-width="2.2" stroke-dasharray="1.9 4.2" stroke-linejoin="round"/>
<polyline points="45.6,741.2 46.4,741.2 47.2,741.3 48.0,741.3 48.8,741.4 49.6,741.4 50.4,741.5 51.2,741.5 52.0,741.6 52.8,741.6 53.6,741.7 54.4,741.7 55.2,741.8 56.0,741.8 56.8,741.9 57.6,741.9 58.5,742.0 59.3,742.0 60.1,742.1 60.9,742.1 61.7,742.2 62.5,742.2 63.3,742.3 64.1,742.3 64.9,742.4 65.7,742.4 66.5,742.5 67.3,742.5 68.1,742.6 68.9,742.6 69.7,742.7 70.5,742.7 71.3,742.8 72.1,742.8 72.9,742.9 73.7,742.9 74.5,743.0 75.3,743.0 76.1,743.1 76.9,743.1 77.7,743.2 78.5,743.2 79.3,743.3 80.1,743.4 80.9,743.4 81.7,743.5 82.5,743.5 83.3,743.6 84.2,743.6 85.0,743.7 85.8,743.7 86.6,743.8 87.4,743.8 88.2,743.9 89.0,743.9 89.8,744.0 90.6,744.0 91.4,744.1 92.2,744.1 93.0,744.2 93.8,744.2 94.6,744.3 95.4,744.3 96.2,744.4 97.0,744.4 97.8,744.5 98.6,744.5 99.4,744.6 100.2,744.6 101.0,744.7 101.8,744.7 102.6,744.8 103.4,744.8 104.2,744.9 105.0,744.9 105.8,745.0 106.6,745.0 107.4,745.1 108.2,745.1 109.1,745.2 109.9,745.2 110.7,745.3 111.5,745.3 112.3,745.3 113.1,745.4 113.9,745.4 114.7,745.5 115.5,745.5 116.3,745.6 117.1,745.6 117.9,745.6 118.7,745.7 119.5,745.7 120.3,745.8 121.1,745.8 121.9,745.8 122.7,745.9 123.5,745.9 124.3,746.0 125.1,746.0 125.9,746.0 126.7,746.1 127.5,746.1 128.3,746.1 129.1,746.2 129.9,746.2 130.7,746.2 131.5,746.2 132.3,746.2 133.1,746.2 134.0,746.2 134.8,746.2 135.6,746.2 136.4,746.1 137.2,746.1 138.0,746.0 138.8,746.0 139.6,745.9 140.4,745.8 141.2,745.7 142.0,745.6 142.8,745.4 143.6,745.3 144.4,745.1 145.2,745.0 146.0,744.8 146.8,744.5 147.6,744.3 148.4,744.1 149.2,743.8 150.0,743.5 150.8,743.2 151.6,742.8 152.4,742.5 153.2,742.1 154.0,741.7 154.8,741.3 155.6,740.8 156.4,740.3 157.2,739.8 158.0,739.3 158.8,738.7 159.7,738.1 160.5,737.5 161.3,736.8 162.1,736.1 162.9,735.4 163.7,734.6 164.5,733.8 165.3,732.9 166.1,732.0 166.9,731.1 167.7,730.1 168.5,729.1 169.3,728.1 170.1,727.0 170.9,725.8 171.7,724.6 172.5,723.4 173.3,722.1 174.1,720.7 174.9,719.3 175.7,717.8 176.5,716.3 177.3,714.8 178.1,713.1 178.9,711.5 179.7,709.7 180.5,707.9 181.3,706.1 182.1,704.1 182.9,702.2 183.7,700.1 184.6,698.0 185.4,695.8 186.2,693.6 187.0,691.2 187.8,688.9 188.6,686.4 189.4,683.9 190.2,681.3 191.0,678.6 191.8,675.8 192.6,673.0 193.4,670.1 194.2,667.1 195.0,664.0 195.8,660.8 196.6,657.6" fill="none" stroke="#0a0a0a" stroke-width="2.2" stroke-linejoin="round"/>
<polyline points="45.6,706.0 46.4,705.7 47.2,705.3 48.0,705.0 48.8,704.7 49.6,704.3 50.4,704.0 51.2,703.7 52.0,703.3 52.8,703.0 53.6,702.7 54.4,702.4 55.2,702.1 56.0,701.7 56.8,701.4 57.6,701.1 58.4,700.8 59.2,700.5 60.0,700.2 60.9,699.9 61.7,699.6 62.5,699.3 63.3,699.0 64.1,698.8 64.9,698.5 65.7,698.2 66.5,697.9 67.3,697.7 68.1,697.4 68.9,697.1 69.7,696.9 70.5,696.6 71.3,696.4 72.1,696.2 72.9,695.9 73.7,695.7 74.5,695.5 75.3,695.3 76.1,695.0 76.9,694.8 77.7,694.6 78.5,694.4 79.3,694.3 80.1,694.1 80.9,693.9 81.7,693.7 82.5,693.6 83.3,693.4 84.1,693.3 84.9,693.2 85.7,693.0 86.5,692.9 87.3,692.8 88.1,692.7 88.9,692.6 89.7,692.5 90.5,692.4 91.4,692.3 92.2,692.2 93.0,692.2 93.8,692.1 94.6,692.0 95.4,692.0 96.2,691.9 97.0,691.9 97.8,691.8 98.6,691.8 99.4,691.8 100.2,691.7 101.0,691.7 101.8,691.7 102.6,691.6 103.4,691.6 104.2,691.6 105.0,691.6 105.8,691.6 106.6,691.6 107.4,691.5 108.2,691.5 109.0,691.5 109.8,691.5 110.6,691.5 111.4,691.5 112.2,691.4 113.0,691.4 113.8,691.4 114.6,691.4 115.4,691.4 116.2,691.4 117.0,691.3 117.8,691.3 118.6,691.3 119.4,691.2 120.2,691.2 121.1,691.2 121.9,691.1 122.7,691.1 123.5,691.0 124.3,691.0 125.1,690.9 125.9,690.8 126.7,690.7 127.5,690.7 128.3,690.6 129.1,690.5 129.9,690.4 130.7,690.3 131.5,690.1 132.3,690.0 133.1,689.8 133.9,689.7 134.7,689.5 135.5,689.3 136.3,689.1 137.1,688.9 137.9,688.6 138.7,688.4 139.5,688.1 140.3,687.8 141.1,687.5 141.9,687.1 142.7,686.8 143.5,686.4 144.3,686.0 145.1,685.6 145.9,685.1 146.7,684.6 147.5,684.1 148.3,683.6 149.1,683.0 149.9,682.4 150.7,681.8 151.6,681.1 152.4,680.4 153.2,679.7 154.0,679.0 154.8,678.2 155.6,677.3 156.4,676.5 157.2,675.6 158.0,674.7 158.8,673.7 159.6,672.7 160.4,671.7 161.2,670.6 162.0,669.5 162.8,668.3 163.6,667.1 164.4,665.9 165.2,664.6 166.0,663.2 166.8,661.9 167.6,660.5 168.4,659.0 169.2,657.5 170.0,656.0 170.8,654.4 171.6,652.7 172.4,651.0 173.2,649.3 174.0,647.5 174.8,645.6 175.6,643.8 176.4,641.8 177.2,639.8 178.0,637.8 178.8,635.7 179.6,633.5 180.4,631.3 181.2,629.0 182.1,626.7 182.9,624.3 183.7,621.9 184.5,619.4 185.3,616.9 186.1,614.3 186.9,611.6 187.7,608.9 188.5,606.1 189.3,603.3 190.1,600.3 190.9,597.4 191.7,594.4 192.5,591.3 193.3,588.1 194.1,584.9 194.9,581.6 195.7,578.3 196.5,574.9" fill="none" stroke="#1b1675" stroke-width="2.2" stroke-dasharray="1.9 4.6 6.6 4.6" stroke-linejoin="round"/>
<path d="M33.4,552.4 V796.6" fill="none" stroke="#6a6a6a" stroke-width="1.15"/>
<path d="M32.9,796.6 H201.6" fill="none" stroke="#404040" stroke-width="1.2"/>
<path d="M29.599999999999998,561.2 H33.4" stroke="#4a4a4a" stroke-width="1.1"/>
<text x="0" y="0" transform="translate(25.4,564.5) scale(0.95,1)" font-size="9.8" text-anchor="end" font-weight="normal">8</text>
<path d="M29.599999999999998,598.95 H33.4" stroke="#4a4a4a" stroke-width="1.1"/>
<text x="0" y="0" transform="translate(25.4,602.25) scale(0.95,1)" font-size="9.8" text-anchor="end" font-weight="normal">7</text>
<path d="M29.599999999999998,636.7 H33.4" stroke="#4a4a4a" stroke-width="1.1"/>
<text x="0" y="0" transform="translate(25.4,640.0) scale(0.95,1)" font-size="9.8" text-anchor="end" font-weight="normal">6</text>
<path d="M29.599999999999998,674.45 H33.4" stroke="#4a4a4a" stroke-width="1.1"/>
<text x="0" y="0" transform="translate(25.4,677.75) scale(0.95,1)" font-size="9.8" text-anchor="end" font-weight="normal">5</text>
<path d="M29.599999999999998,712.2 H33.4" stroke="#4a4a4a" stroke-width="1.1"/>
<text x="0" y="0" transform="translate(25.4,715.5) scale(0.95,1)" font-size="9.8" text-anchor="end" font-weight="normal">4</text>
<path d="M29.599999999999998,749.95 H33.4" stroke="#4a4a4a" stroke-width="1.1"/>
<text x="0" y="0" transform="translate(25.4,753.25) scale(0.95,1)" font-size="9.8" text-anchor="end" font-weight="normal">3</text>
<path d="M29.599999999999998,787.7 H33.4" stroke="#4a4a4a" stroke-width="1.1"/>
<text x="0" y="0" transform="translate(25.4,791.0) scale(0.95,1)" font-size="9.8" text-anchor="end" font-weight="normal">2</text>
<path d="M39.6,796.6 V800.6" stroke="#4a4a4a" stroke-width="1.1"/>
<text x="0" y="0" transform="translate(39.6,812.3) scale(0.95,1)" font-size="9.8" text-anchor="middle" font-weight="normal">24</text>
<path d="M65.56666666666666,796.6 V800.6" stroke="#4a4a4a" stroke-width="1.1"/>
<text x="0" y="0" transform="translate(65.56666666666666,812.3) scale(0.95,1)" font-size="9.8" text-anchor="middle" font-weight="normal">20</text>
<path d="M91.53333333333333,796.6 V800.6" stroke="#4a4a4a" stroke-width="1.1"/>
<text x="0" y="0" transform="translate(91.53333333333333,812.3) scale(0.95,1)" font-size="9.8" text-anchor="middle" font-weight="normal">16</text>
<path d="M117.5,796.6 V800.6" stroke="#4a4a4a" stroke-width="1.1"/>
<text x="0" y="0" transform="translate(117.5,812.3) scale(0.95,1)" font-size="9.8" text-anchor="middle" font-weight="normal">12</text>
<path d="M143.46666666666667,796.6 V800.6" stroke="#4a4a4a" stroke-width="1.1"/>
<text x="0" y="0" transform="translate(143.46666666666667,812.3) scale(0.95,1)" font-size="9.8" text-anchor="middle" font-weight="normal">8</text>
<path d="M169.43333333333334,796.6 V800.6" stroke="#4a4a4a" stroke-width="1.1"/>
<text x="0" y="0" transform="translate(169.43333333333334,812.3) scale(0.95,1)" font-size="9.8" text-anchor="middle" font-weight="normal">4</text>
<path d="M195.4,796.6 V800.6" stroke="#4a4a4a" stroke-width="1.1"/>
<text x="0" y="0" transform="translate(195.4,812.3) scale(0.95,1)" font-size="9.8" text-anchor="middle" font-weight="normal">0</text>
<text x="71.0" y="827.5" font-size="10" text-anchor="start" font-weight="normal" textLength="92.5" lengthAdjust="spacingAndGlyphs">Months before death</text>
<text x="0" y="0" transform="translate(11.6,673.7) rotate(-90)" font-size="10" text-anchor="middle" font-weight="normal" textLength="17.0" lengthAdjust="spacingAndGlyphs">NLR</text>
<text x="0" y="0" transform="translate(4.4,827.7) scale(0.92,1)" font-size="11" text-anchor="start" font-weight="bold">c</text>
</g>
<g id="cR">
<polygon points="278.3,646.0 279.1,646.4 279.9,647.0 280.7,647.6 281.5,648.4 282.3,649.2 283.1,650.1 283.9,651.1 284.7,652.1 285.5,653.2 286.3,654.3 287.1,655.4 287.9,656.6 288.7,657.7 289.5,658.9 290.3,660.0 291.1,661.2 291.9,662.3 292.7,663.4 293.5,664.5 294.3,665.5 295.1,666.5 295.9,667.5 296.7,668.3 297.6,669.2 298.4,669.9 299.2,670.6 300.0,671.3 300.8,671.8 301.6,672.4 302.4,672.8 303.2,673.2 304.0,673.6 304.8,673.9 305.6,674.2 306.4,674.4 307.2,674.6 308.0,674.8 308.8,674.9 309.6,675.0 310.4,675.1 311.2,675.2 312.0,675.3 312.8,675.3 313.6,675.4 314.4,675.4 315.2,675.4 316.0,675.5 316.8,675.5 317.6,675.5 318.4,675.6 319.2,675.7 320.0,675.7 320.8,675.8 321.6,675.9 322.4,676.1 323.2,676.2 324.0,676.4 324.8,676.5 325.6,676.7 326.4,676.8 327.2,677.0 328.0,677.2 328.8,677.4 329.6,677.6 330.4,677.8 331.2,678.0 332.0,678.1 332.8,678.3 333.6,678.5 334.5,678.7 335.3,678.8 336.1,679.0 336.9,679.2 337.7,679.3 338.5,679.4 339.3,679.5 340.1,679.6 340.9,679.7 341.7,679.8 342.5,679.9 343.3,679.9 344.1,679.9 344.9,680.0 345.7,680.0 346.5,680.0 347.3,679.9 348.1,679.9 348.9,679.9 349.7,679.8 350.5,679.7 351.3,679.7 352.1,679.6 352.9,679.5 353.7,679.4 354.5,679.2 355.3,679.1 356.1,679.0 356.9,678.8 357.7,678.7 358.5,678.5 359.3,678.3 360.1,678.2 360.9,678.0 361.7,677.8 362.5,677.6 363.3,677.4 364.1,677.1 364.9,676.9 365.7,676.7 366.5,676.5 367.3,676.2 368.1,676.0 368.9,675.7 369.7,675.5 370.5,675.2 371.3,674.9 372.2,674.6 373.0,674.3 373.8,673.9 374.6,673.6 375.4,673.2 376.2,672.8 377.0,672.3 377.8,671.8 378.6,671.3 379.4,670.7 380.2,670.1 381.0,669.5 381.8,668.8 382.6,668.1 383.4,667.3 384.2,666.5 385.0,665.6 385.8,664.7 386.6,663.7 387.4,662.6 388.2,661.5 389.0,660.4 389.8,659.1 390.6,657.8 391.4,656.4 392.2,655.0 393.0,653.5 393.8,652.0 394.6,650.4 395.4,648.9 396.2,647.3 397.0,645.6 397.8,644.0 398.6,642.4 399.4,640.8 400.2,639.1 401.0,637.4 401.8,635.7 402.6,633.8 403.4,631.9 404.2,629.8 405.0,627.7 405.8,625.4 406.6,623.0 407.4,620.5 408.2,617.9 409.1,615.2 409.9,612.4 410.7,609.6 411.5,606.8 412.3,603.9 413.1,601.0 413.9,598.1 414.7,595.1 415.5,592.2 416.3,589.4 417.1,586.5 417.9,583.7 418.7,581.0 419.5,578.3 420.3,575.6 421.1,572.9 421.9,570.3 422.7,567.8 423.5,565.2 424.3,562.7 425.1,560.3 425.9,557.8 426.7,555.4 427.5,553.0 429.5,659.8 428.7,659.8 427.9,659.8 427.1,659.8 426.3,659.8 425.5,659.8 424.7,659.9 423.9,659.9 423.1,660.0 422.3,660.1 421.5,660.2 420.7,660.3 419.8,660.5 419.0,660.7 418.2,660.9 417.4,661.2 416.6,661.5 415.8,661.8 415.0,662.1 414.2,662.5 413.4,662.9 412.6,663.4 411.8,663.9 411.0,664.4 410.2,664.9 409.4,665.5 408.6,666.1 407.8,666.7 407.0,667.3 406.2,668.0 405.4,668.7 404.6,669.5 403.8,670.3 403.0,671.1 402.2,671.9 401.4,672.8 400.5,673.7 399.7,674.6 398.9,675.6 398.1,676.5 397.3,677.5 396.5,678.6 395.7,679.6 394.9,680.6 394.1,681.6 393.3,682.6 392.5,683.6 391.7,684.6 390.9,685.5 390.1,686.4 389.3,687.3 388.5,688.1 387.7,688.9 386.9,689.7 386.1,690.4 385.3,691.1 384.5,691.8 383.7,692.4 382.9,693.0 382.0,693.6 381.2,694.1 380.4,694.6 379.6,695.1 378.8,695.5 378.0,695.9 377.2,696.3 376.4,696.7 375.6,697.0 374.8,697.3 374.0,697.6 373.2,697.9 372.4,698.1 371.6,698.3 370.8,698.5 370.0,698.7 369.2,698.8 368.4,699.0 367.6,699.1 366.8,699.2 366.0,699.3 365.2,699.4 364.4,699.4 363.6,699.5 362.7,699.6 361.9,699.6 361.1,699.6 360.3,699.7 359.5,699.7 358.7,699.7 357.9,699.7 357.1,699.7 356.3,699.8 355.5,699.8 354.7,699.8 353.9,699.8 353.1,699.8 352.3,699.8 351.5,699.8 350.7,699.9 349.9,699.9 349.1,699.9 348.3,699.9 347.5,700.0 346.7,700.0 345.9,700.0 345.1,700.1 344.2,700.1 343.4,700.2 342.6,700.2 341.8,700.3 341.0,700.4 340.2,700.5 339.4,700.6 338.6,700.7 337.8,700.8 337.0,700.9 336.2,701.0 335.4,701.1 334.6,701.2 333.8,701.4 333.0,701.5 332.2,701.6 331.4,701.8 330.6,701.9 329.8,702.0 329.0,702.1 328.2,702.3 327.4,702.4 326.6,702.5 325.8,702.6 324.9,702.7 324.1,702.8 323.3,702.9 322.5,703.0 321.7,703.1 320.9,703.2 320.1,703.2 319.3,703.3 318.5,703.3 317.7,703.3 316.9,703.4 316.1,703.4 315.3,703.4 314.5,703.4 313.7,703.4 312.9,703.4 312.1,703.4 311.3,703.4 310.5,703.5 309.7,703.5 308.9,703.6 308.1,703.6 307.3,703.7 306.4,703.8 305.6,703.9 304.8,704.1 304.0,704.3 303.2,704.5 302.4,704.7 301.6,705.0 300.8,705.2 300.0,705.6 299.2,705.9 298.4,706.4 297.6,706.8 296.8,707.3 296.0,707.8 295.2,708.4 294.4,709.0 293.6,709.7 292.8,710.4 292.0,711.1 291.2,711.9 290.4,712.7 289.6,713.6 288.8,714.5 288.0,715.4 287.1,716.4 286.3,717.4 285.5,718.4 284.7,719.5 283.9,720.6 283.1,721.7 282.3,722.9 281.5,724.1 280.7,725.3 279.9,726.5 279.1,727.7 278.3,729.0" fill="#e7e7e7"/>
<polyline points="278.3,697.7 279.1,697.5 279.9,697.2 280.7,697.0 281.5,696.8 282.3,696.6 283.1,696.4 283.9,696.2 284.7,696.0 285.5,695.8 286.3,695.6 287.1,695.4 287.9,695.3 288.7,695.1 289.5,694.9 290.3,694.8 291.1,694.7 291.9,694.5 292.7,694.4 293.5,694.3 294.3,694.2 295.1,694.0 295.9,693.9 296.7,693.8 297.5,693.7 298.3,693.6 299.1,693.5 299.9,693.5 300.7,693.4 301.5,693.3 302.3,693.2 303.1,693.2 303.9,693.1 304.7,693.0 305.5,693.0 306.3,692.9 307.1,692.9 307.9,692.8 308.7,692.8 309.5,692.7 310.3,692.7 311.1,692.7 311.9,692.6 312.7,692.6 313.5,692.6 314.3,692.5 315.1,692.5 315.9,692.5 316.7,692.4 317.5,692.4 318.3,692.4 319.1,692.4 319.9,692.3 320.7,692.3 321.5,692.3 322.3,692.3 323.1,692.3 323.9,692.2 324.7,692.2 325.5,692.2 326.3,692.2 327.1,692.1 327.9,692.1 328.7,692.1 329.5,692.1 330.3,692.0 331.1,692.0 331.9,692.0 332.7,691.9 333.5,691.9 334.3,691.8 335.1,691.8 335.9,691.8 336.7,691.7 337.5,691.7 338.3,691.6 339.1,691.6 339.9,691.5 340.7,691.4 341.5,691.4 342.3,691.3 343.1,691.2 343.9,691.2 344.7,691.1 345.5,691.0 346.3,690.9 347.1,690.8 347.9,690.7 348.7,690.6 349.5,690.5 350.3,690.4 351.1,690.3 351.9,690.2 352.7,690.0 353.6,689.9 354.4,689.8 355.2,689.6 356.0,689.5 356.8,689.3 357.6,689.1 358.4,689.0 359.2,688.8 360.0,688.6 360.8,688.4 361.6,688.2 362.4,688.0 363.2,687.8 364.0,687.6 364.8,687.3 365.6,687.1 366.4,686.9 367.2,686.6 368.0,686.3 368.8,686.1 369.6,685.8 370.4,685.5 371.2,685.2 372.0,684.9 372.8,684.6 373.6,684.3 374.4,683.9 375.2,683.6 376.0,683.3 376.8,682.9 377.6,682.5 378.4,682.2 379.2,681.8 380.0,681.4 380.8,681.0 381.6,680.6 382.4,680.2 383.2,679.8 384.0,679.3 384.8,678.9 385.6,678.5 386.4,678.0 387.2,677.5 388.0,677.1 388.8,676.6 389.6,676.1 390.4,675.6 391.2,675.1 392.0,674.6 392.8,674.1 393.6,673.5 394.4,673.0 395.2,672.5 396.0,671.9 396.8,671.3 397.6,670.8 398.4,670.2 399.2,669.6 400.0,669.0 400.8,668.4 401.6,667.8 402.4,667.2 403.2,666.6 404.0,665.9 404.8,665.3 405.6,664.7 406.4,664.0 407.2,663.3 408.0,662.7 408.8,662.0 409.6,661.3 410.4,660.7 411.2,660.0 412.0,659.3 412.8,658.6 413.6,657.9 414.4,657.3 415.2,656.6 416.0,655.9 416.8,655.2 417.6,654.5 418.4,653.8 419.2,653.1 420.0,652.4 420.8,651.7 421.6,651.0 422.4,650.3 423.2,649.6 424.0,648.9 424.8,648.2 425.6,647.5 426.4,646.8 427.2,646.1 428.0,645.4" fill="none" stroke="#00968a" stroke-width="2.2" stroke-dasharray="11.2 4.6" stroke-linejoin="round"/>
<polyline points="278.3,691.7 279.1,691.7 279.9,691.6 280.7,691.6 281.5,691.5 282.3,691.5 283.1,691.4 283.9,691.4 284.7,691.3 285.5,691.2 286.3,691.2 287.1,691.1 287.9,691.0 288.7,691.0 289.5,690.9 290.3,690.8 291.1,690.7 291.9,690.6 292.7,690.6 293.5,690.5 294.3,690.4 295.1,690.3 295.9,690.2 296.7,690.1 297.5,690.0 298.3,690.0 299.1,689.9 299.9,689.8 300.7,689.7 301.5,689.6 302.3,689.5 303.1,689.4 304.0,689.3 304.8,689.3 305.6,689.2 306.4,689.1 307.2,689.0 308.0,688.9 308.8,688.8 309.6,688.8 310.4,688.7 311.2,688.6 312.0,688.6 312.8,688.5 313.6,688.4 314.4,688.4 315.2,688.3 316.0,688.3 316.8,688.2 317.6,688.2 318.4,688.1 319.2,688.1 320.0,688.1 320.8,688.0 321.6,688.0 322.4,688.0 323.2,688.0 324.0,687.9 324.8,687.9 325.6,687.9 326.4,687.9 327.2,687.9 328.0,687.9 328.8,687.9 329.6,687.9 330.4,687.9 331.2,687.9 332.0,687.9 332.8,688.0 333.6,688.0 334.4,688.0 335.2,688.0 336.0,688.0 336.8,688.0 337.6,688.1 338.4,688.1 339.2,688.1 340.0,688.1 340.8,688.1 341.6,688.2 342.4,688.2 343.2,688.2 344.0,688.2 344.8,688.2 345.6,688.3 346.4,688.3 347.2,688.3 348.0,688.3 348.8,688.3 349.6,688.4 350.4,688.4 351.2,688.4 352.0,688.4 352.8,688.4 353.7,688.4 354.5,688.4 355.3,688.4 356.1,688.4 356.9,688.4 357.7,688.4 358.5,688.4 359.3,688.3 360.1,688.3 360.9,688.3 361.7,688.3 362.5,688.2 363.3,688.2 364.1,688.1 364.9,688.0 365.7,687.9 366.5,687.8 367.3,687.7 368.1,687.6 368.9,687.5 369.7,687.3 370.5,687.1 371.3,686.9 372.1,686.7 372.9,686.5 373.7,686.3 374.5,686.0 375.3,685.7 376.1,685.4 376.9,685.1 377.7,684.8 378.5,684.4 379.3,684.0 380.1,683.6 380.9,683.1 381.7,682.7 382.5,682.2 383.3,681.6 384.1,681.1 384.9,680.5 385.7,679.9 386.5,679.2 387.3,678.5 388.1,677.8 388.9,677.1 389.7,676.3 390.5,675.5 391.3,674.6 392.1,673.7 392.9,672.7 393.7,671.8 394.5,670.7 395.3,669.6 396.1,668.5 396.9,667.3 397.7,666.1 398.5,664.9 399.3,663.6 400.1,662.2 400.9,660.8 401.7,659.4 402.5,658.0 403.4,656.5 404.2,654.9 405.0,653.4 405.8,651.8 406.6,650.1 407.4,648.5 408.2,646.8 409.0,645.1 409.8,643.3 410.6,641.6 411.4,639.8 412.2,638.0 413.0,636.2 413.8,634.3 414.6,632.5 415.4,630.6 416.2,628.7 417.0,626.8 417.8,624.9 418.6,622.9 419.4,621.0 420.2,619.0 421.0,617.0 421.8,615.0 422.6,612.9 423.4,610.9 424.2,608.8 425.0,606.7 425.8,604.5 426.6,602.4 427.4,600.2 428.2,598.0" fill="none" stroke="#00835c" stroke-width="2.2" stroke-dasharray="1.9 4.2" stroke-linejoin="round"/>
<polyline points="278.3,679.4 279.1,679.4 279.9,679.4 280.7,679.4 281.5,679.4 282.3,679.4 283.1,679.4 283.9,679.5 284.7,679.5 285.5,679.6 286.3,679.7 287.1,679.7 287.9,679.8 288.7,679.9 289.5,680.0 290.3,680.1 291.1,680.2 291.9,680.4 292.7,680.5 293.6,680.6 294.4,680.8 295.2,680.9 296.0,681.1 296.8,681.3 297.6,681.4 298.4,681.6 299.2,681.8 300.0,682.0 300.8,682.2 301.6,682.3 302.4,682.5 303.2,682.7 304.0,682.9 304.8,683.1 305.6,683.3 306.4,683.6 307.2,683.8 308.0,684.0 308.8,684.2 309.6,684.4 310.4,684.6 311.2,684.8 312.0,685.1 312.8,685.3 313.6,685.5 314.4,685.7 315.2,685.9 316.0,686.2 316.8,686.4 317.6,686.6 318.4,686.8 319.2,687.0 320.0,687.2 320.8,687.4 321.6,687.6 322.4,687.8 323.3,688.0 324.1,688.2 324.9,688.4 325.7,688.6 326.5,688.8 327.3,688.9 328.1,689.1 328.9,689.3 329.7,689.4 330.5,689.6 331.3,689.7 332.1,689.9 332.9,690.0 333.7,690.1 334.5,690.3 335.3,690.4 336.1,690.5 336.9,690.6 337.7,690.7 338.5,690.8 339.3,690.8 340.1,690.9 340.9,691.0 341.7,691.0 342.5,691.0 343.3,691.1 344.1,691.1 344.9,691.1 345.7,691.1 346.5,691.1 347.3,691.0 348.1,691.0 348.9,690.9 349.7,690.9 350.5,690.8 351.3,690.7 352.1,690.6 353.0,690.5 353.8,690.3 354.6,690.2 355.4,690.0 356.2,689.9 357.0,689.7 357.8,689.5 358.6,689.3 359.4,689.0 360.2,688.8 361.0,688.5 361.8,688.2 362.6,687.9 363.4,687.6 364.2,687.3 365.0,686.9 365.8,686.6 366.6,686.2 367.4,685.8 368.2,685.3 369.0,684.9 369.8,684.4 370.6,684.0 371.4,683.4 372.2,682.9 373.0,682.4 373.8,681.8 374.6,681.2 375.4,680.6 376.2,679.9 377.0,679.2 377.8,678.5 378.6,677.8 379.4,677.0 380.2,676.2 381.0,675.4 381.8,674.6 382.6,673.7 383.5,672.8 384.3,671.8 385.1,670.8 385.9,669.8 386.7,668.8 387.5,667.7 388.3,666.6 389.1,665.4 389.9,664.2 390.7,663.0 391.5,661.7 392.3,660.4 393.1,659.1 393.9,657.7 394.7,656.3 395.5,654.8 396.3,653.3 397.1,651.7 397.9,650.1 398.7,648.5 399.5,646.8 400.3,645.1 401.1,643.4 401.9,641.6 402.7,639.8 403.5,638.0 404.3,636.2 405.1,634.3 405.9,632.5 406.7,630.6 407.5,628.7 408.3,626.8 409.1,624.9 409.9,623.0 410.7,621.2 411.5,619.3 412.3,617.4 413.2,615.5 414.0,613.7 414.8,611.9 415.6,610.0 416.4,608.2 417.2,606.4 418.0,604.6 418.8,602.7 419.6,600.9 420.4,599.0 421.2,597.1 422.0,595.1 422.8,593.2 423.6,591.1 424.4,589.1 425.2,586.9 426.0,584.7 426.8,582.5 427.6,580.1" fill="none" stroke="#1b1675" stroke-width="2.2" stroke-dasharray="1.9 4.6 6.6 4.6" stroke-linejoin="round"/>
<polyline points="278.3,691.7 279.1,691.8 279.9,691.9 280.7,692.0 281.5,692.1 282.3,692.2 283.1,692.3 283.9,692.4 284.7,692.5 285.5,692.6 286.3,692.7 287.1,692.8 287.9,692.9 288.7,693.0 289.5,693.1 290.3,693.1 291.1,693.2 291.9,693.3 292.7,693.4 293.5,693.5 294.3,693.5 295.1,693.6 295.9,693.7 296.7,693.8 297.5,693.8 298.3,693.9 299.1,694.0 299.9,694.0 300.7,694.1 301.5,694.1 302.3,694.2 303.1,694.3 303.9,694.3 304.7,694.4 305.5,694.4 306.3,694.5 307.1,694.5 307.9,694.5 308.7,694.6 309.5,694.6 310.3,694.7 311.1,694.7 311.9,694.7 312.7,694.8 313.5,694.8 314.3,694.8 315.1,694.8 315.9,694.8 316.8,694.9 317.6,694.9 318.4,694.9 319.2,694.9 320.0,694.9 320.8,694.9 321.6,694.9 322.4,694.9 323.2,694.9 324.0,694.9 324.8,694.9 325.6,694.9 326.4,694.9 327.2,694.9 328.0,694.9 328.8,694.9 329.6,694.9 330.4,694.8 331.2,694.8 332.0,694.8 332.8,694.8 333.6,694.7 334.4,694.7 335.2,694.6 336.0,694.6 336.8,694.6 337.6,694.5 338.4,694.5 339.2,694.4 340.0,694.4 340.8,694.3 341.6,694.3 342.4,694.2 343.2,694.1 344.0,694.1 344.8,694.0 345.6,693.9 346.4,693.9 347.2,693.8 348.0,693.7 348.8,693.6 349.6,693.5 350.4,693.5 351.2,693.4 352.0,693.3 352.8,693.2 353.6,693.1 354.4,693.0 355.2,692.9 356.0,692.8 356.8,692.6 357.6,692.5 358.4,692.4 359.2,692.3 360.0,692.2 360.8,692.0 361.6,691.9 362.4,691.8 363.2,691.6 364.0,691.4 364.8,691.3 365.6,691.1 366.4,690.9 367.2,690.7 368.0,690.5 368.8,690.2 369.6,690.0 370.4,689.7 371.2,689.4 372.0,689.1 372.8,688.8 373.6,688.4 374.4,688.0 375.2,687.6 376.0,687.2 376.8,686.8 377.6,686.3 378.4,685.8 379.2,685.3 380.0,684.7 380.8,684.1 381.6,683.5 382.4,682.9 383.2,682.2 384.0,681.5 384.8,680.7 385.6,679.9 386.4,679.1 387.2,678.2 388.0,677.3 388.8,676.4 389.6,675.4 390.4,674.3 391.2,673.3 392.1,672.1 392.9,671.0 393.7,669.7 394.5,668.5 395.3,667.2 396.1,665.8 396.9,664.4 397.7,663.0 398.5,661.6 399.3,660.1 400.1,658.5 400.9,657.0 401.7,655.4 402.5,653.8 403.3,652.1 404.1,650.5 404.9,648.8 405.7,647.0 406.5,645.3 407.3,643.5 408.1,641.8 408.9,640.0 409.7,638.1 410.5,636.3 411.3,634.5 412.1,632.6 412.9,630.7 413.7,628.8 414.5,626.9 415.3,625.0 416.1,623.1 416.9,621.1 417.7,619.2 418.5,617.2 419.3,615.2 420.1,613.2 420.9,611.2 421.7,609.2 422.5,607.2 423.3,605.2 424.1,603.2 424.9,601.1 425.7,599.1 426.5,597.0 427.3,594.9 428.1,592.9 428.9,590.8" fill="none" stroke="#0a0a0a" stroke-width="2.2" stroke-linejoin="round"/>
<path d="M266.0,552.4 V797.0" fill="none" stroke="#6a6a6a" stroke-width="1.15"/>
<path d="M265.5,797.0 H435.6" fill="none" stroke="#404040" stroke-width="1.2"/>
<path d="M262.2,578.5 H266.0" stroke="#4a4a4a" stroke-width="1.1"/>
<text x="0" y="0" transform="translate(257.6,581.8) scale(0.95,1)" font-size="9.8" text-anchor="end" font-weight="normal">2</text>
<path d="M262.2,635.2 H266.0" stroke="#4a4a4a" stroke-width="1.1"/>
<text x="0" y="0" transform="translate(257.6,638.5) scale(0.95,1)" font-size="9.8" text-anchor="end" font-weight="normal">1</text>
<path d="M262.2,691.9 H266.0" stroke="#4a4a4a" stroke-width="1.1"/>
<text x="0" y="0" transform="translate(257.6,695.1999999999999) scale(0.95,1)" font-size="9.8" text-anchor="end" font-weight="normal">0</text>
<path d="M262.2,748.6 H266.0" stroke="#4a4a4a" stroke-width="1.1"/>
<text x="0" y="0" transform="translate(257.6,751.9) scale(0.95,1)" font-size="9.8" text-anchor="end" font-weight="normal">−1</text>
<path d="M271.9,797.0 V801.0" stroke="#4a4a4a" stroke-width="1.1"/>
<text x="0" y="0" transform="translate(271.9,812.3) scale(0.95,1)" font-size="9.8" text-anchor="middle" font-weight="normal">24</text>
<path d="M298.0,797.0 V801.0" stroke="#4a4a4a" stroke-width="1.1"/>
<text x="0" y="0" transform="translate(298.0,812.3) scale(0.95,1)" font-size="9.8" text-anchor="middle" font-weight="normal">20</text>
<path d="M324.09999999999997,797.0 V801.0" stroke="#4a4a4a" stroke-width="1.1"/>
<text x="0" y="0" transform="translate(324.09999999999997,812.3) scale(0.95,1)" font-size="9.8" text-anchor="middle" font-weight="normal">16</text>
<path d="M350.2,797.0 V801.0" stroke="#4a4a4a" stroke-width="1.1"/>
<text x="0" y="0" transform="translate(350.2,812.3) scale(0.95,1)" font-size="9.8" text-anchor="middle" font-weight="normal">12</text>
<path d="M376.3,797.0 V801.0" stroke="#4a4a4a" stroke-width="1.1"/>
<text x="0" y="0" transform="translate(376.3,812.3) scale(0.95,1)" font-size="9.8" text-anchor="middle" font-weight="normal">8</text>
<path d="M402.4,797.0 V801.0" stroke="#4a4a4a" stroke-width="1.1"/>
<text x="0" y="0" transform="translate(402.4,812.3) scale(0.95,1)" font-size="9.8" text-anchor="middle" font-weight="normal">4</text>
<path d="M428.5,797.0 V801.0" stroke="#4a4a4a" stroke-width="1.1"/>
<text x="0" y="0" transform="translate(428.5,812.3) scale(0.95,1)" font-size="9.8" text-anchor="middle" font-weight="normal">0</text>
<text x="303.9" y="827.5" font-size="10" text-anchor="start" font-weight="normal" textLength="91.8" lengthAdjust="spacingAndGlyphs">Months before death</text>
<text x="0" y="0" transform="translate(238.0,674.5) rotate(-90)" font-size="10" text-anchor="middle" font-weight="normal" textLength="54.2" lengthAdjust="spacingAndGlyphs">NLR/quarter</text>
<path d="M326.8,572.7 H339.2" stroke="#0a0a0a" stroke-width="1.6"/>
<text x="343.8" y="575.7" font-size="10" text-anchor="start" font-weight="normal" textLength="18.1" lengthAdjust="spacingAndGlyphs">Asia</text>
<rect x="326.40" y="584.1" width="1.7" height="1.7" fill="#6aa89a"/>
<rect x="330.80" y="584.1" width="1.7" height="1.7" fill="#6aa89a"/>
<rect x="335.20" y="584.1" width="1.7" height="1.7" fill="#6aa89a"/>
<text x="343.8" y="587.9" font-size="10" text-anchor="start" font-weight="normal" textLength="31.5" lengthAdjust="spacingAndGlyphs">Europe</text>
<rect x="326.40" y="596.1" width="1.7" height="1.7" fill="#1b1675"/>
<path d="M331.1,596.9 H335.8" stroke="#1b1675" stroke-width="1.6"/>
<text x="343.8" y="599.9" font-size="10" text-anchor="start" font-weight="normal" textLength="65.2" lengthAdjust="spacingAndGlyphs">North America</text>
<path d="M326.8,608.9 H334.40000000000003" stroke="#00968a" stroke-width="1.6"/>
<path d="M337.40000000000003,608.9 H339.2" stroke="#00968a" stroke-width="1.6"/>
<text x="343.8" y="611.9" font-size="10" text-anchor="start" font-weight="normal" textLength="65.2" lengthAdjust="spacingAndGlyphs">South America</text>
</g>
</svg>
</body></html>
